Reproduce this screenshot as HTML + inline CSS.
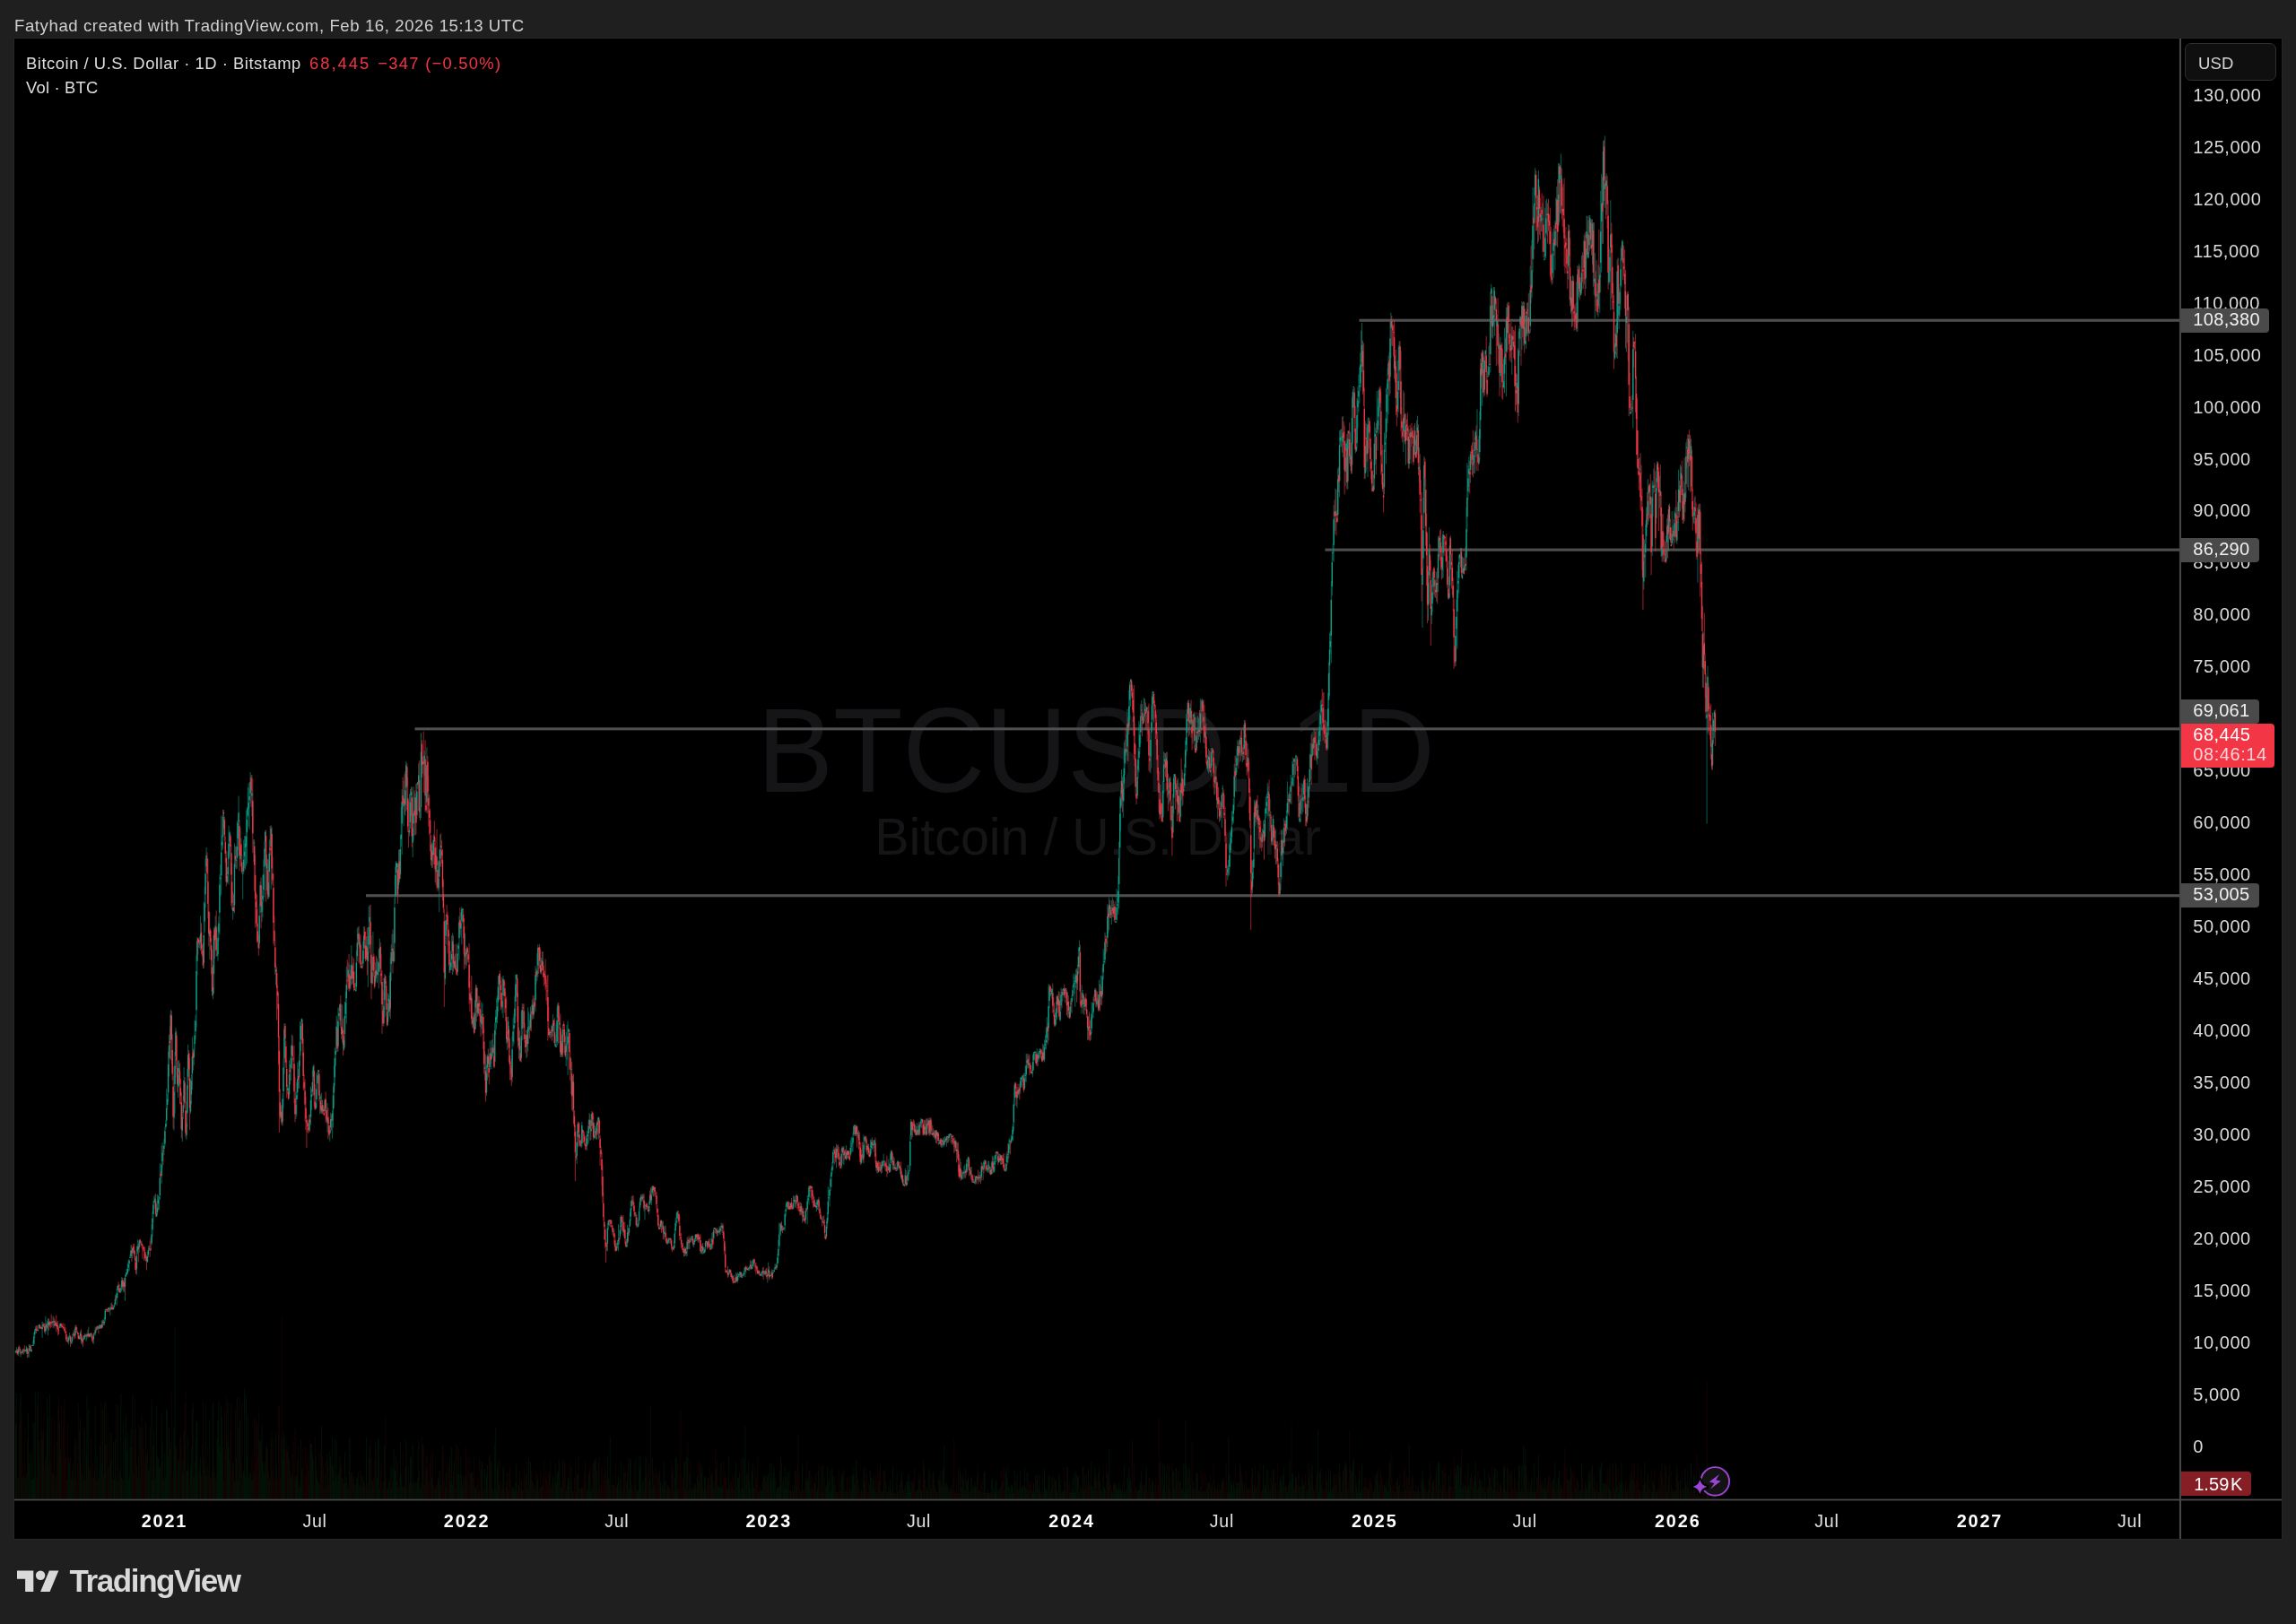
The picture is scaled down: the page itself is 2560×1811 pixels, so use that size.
<!DOCTYPE html><html><head><meta charset="utf-8"><title>BTCUSD</title><style>
html,body{margin:0;padding:0}
body{width:2560px;height:1811px;background:#1f1f1f;position:relative;overflow:hidden;font-family:"Liberation Sans",sans-serif;color:#d6d6d6}
.abs{position:absolute;white-space:nowrap}
#title{left:16px;top:16.7px;font-size:18.6px;line-height:24px;color:#cfcfcf;letter-spacing:0.58px}
#frame{left:16px;top:43px;width:2528px;height:1673px;background:#000;box-shadow:0 0 0 1px #262626;overflow:hidden}
.lg{font-size:18.4px;line-height:24px;color:#dedede;letter-spacing:0.53px}
.red{color:#f23645}
.pl{left:2429.3px;font-size:20px;line-height:24px;color:#d9d9d9;letter-spacing:0.55px;transform:translateY(-50%)}
.pl.t{left:2430.5px}
.box{left:2416px;height:27px;border-radius:0 4px 4px 0;background:#4a4a4a;color:#f0f0f0;font-size:20px;line-height:25px;letter-spacing:0.35px;padding-left:13.3px;box-sizing:border-box}
.tl{top:1640.7px;font-size:19.6px;line-height:24px;color:#e0e0e0;transform:translateX(-50%);letter-spacing:0.7px}
.tl b{color:#fff;font-size:19.8px;letter-spacing:1.9px;margin-right:-1.9px}
</style></head><body><div id="root" style="position:absolute;left:0;top:0;width:2560px;height:1811px;will-change:transform">
<div id="title" class="abs">Fatyhad created with TradingView.com, Feb 16, 2026 15:13 UTC</div>
<div id="frame" class="abs">
<svg width="2528" height="1673" viewBox="16 43 2528 1673" style="position:absolute;left:0;top:0" shape-rendering="auto">
<text x="844.2" y="882.5" textLength="755.7" lengthAdjust="spacingAndGlyphs" font-family="Liberation Sans, sans-serif" font-size="133.4" fill="#151517" id="wm1">BTCUSD, 1D</text>
<text x="1224" y="953" text-anchor="middle" font-family="Liberation Sans, sans-serif" font-size="57.4" fill="#151517" id="wm2">Bitcoin / U.S. Dollar</text>
<path d="M17.5 1671.5V1588.0M18.4 1671.5V1553.1M20.3 1671.5V1647.4M23.0 1671.5V1553.7M24.9 1671.5V1648.7M26.7 1671.5V1646.3M28.6 1671.5V1647.8M29.5 1671.5V1643.1M31.3 1671.5V1575.7M32.3 1671.5V1633.3M33.2 1671.5V1620.0M35.0 1671.5V1622.3M36.0 1671.5V1649.7M36.9 1671.5V1586.3M37.8 1671.5V1649.0M38.7 1671.5V1587.3M39.7 1671.5V1551.1M42.4 1671.5V1551.5M43.4 1671.5V1607.0M47.1 1671.5V1604.7M48.0 1671.5V1595.4M50.8 1671.5V1626.1M52.6 1671.5V1558.9M53.5 1671.5V1579.9M55.4 1671.5V1555.2M58.2 1671.5V1642.0M59.1 1671.5V1644.7M61.9 1671.5V1648.7M63.7 1671.5V1607.0M66.5 1671.5V1585.9M67.4 1671.5V1615.2M74.8 1671.5V1650.5M76.6 1671.5V1626.0M77.6 1671.5V1631.6M79.4 1671.5V1649.6M80.3 1671.5V1641.0M81.3 1671.5V1630.8M84.0 1671.5V1603.5M88.7 1671.5V1595.3M89.6 1671.5V1582.5M91.4 1671.5V1643.8M93.3 1671.5V1649.3M94.2 1671.5V1591.9M96.1 1671.5V1621.8M97.0 1671.5V1556.6M98.8 1671.5V1570.6M100.7 1671.5V1636.9M104.4 1671.5V1648.0M106.2 1671.5V1568.3M108.1 1671.5V1624.3M110.8 1671.5V1638.9M111.8 1671.5V1612.0M113.6 1671.5V1633.3M114.5 1671.5V1571.2M116.4 1671.5V1564.3M117.3 1671.5V1610.4M121.0 1671.5V1635.8M122.9 1671.5V1596.9M123.8 1671.5V1629.0M126.6 1671.5V1607.2M127.5 1671.5V1650.4M128.4 1671.5V1605.6M130.2 1671.5V1650.5M131.2 1671.5V1566.2M133.9 1671.5V1641.6M134.9 1671.5V1553.3M135.8 1671.5V1648.0M137.6 1671.5V1588.3M139.5 1671.5V1602.7M140.4 1671.5V1577.6M141.3 1671.5V1618.1M142.3 1671.5V1597.7M143.2 1671.5V1650.5M144.1 1671.5V1646.7M145.0 1671.5V1614.0M146.0 1671.5V1593.7M147.8 1671.5V1555.0M152.4 1671.5V1633.5M153.4 1671.5V1647.1M155.2 1671.5V1589.3M157.1 1671.5V1592.1M162.6 1671.5V1586.1M164.4 1671.5V1618.7M165.4 1671.5V1639.7M166.3 1671.5V1637.3M169.1 1671.5V1560.1M170.0 1671.5V1650.3M170.9 1671.5V1612.6M171.8 1671.5V1596.4M172.8 1671.5V1649.3M174.6 1671.5V1566.9M175.5 1671.5V1624.6M176.5 1671.5V1625.9M177.4 1671.5V1636.3M178.3 1671.5V1635.6M180.2 1671.5V1576.4M181.1 1671.5V1609.7M182.9 1671.5V1650.5M183.9 1671.5V1619.8M184.8 1671.5V1647.0M185.7 1671.5V1570.9M186.6 1671.5V1572.4M187.6 1671.5V1624.4M188.5 1671.5V1591.6M190.3 1671.5V1608.8M194.0 1671.5V1592.4M195.0 1671.5V1479.5M195.9 1671.5V1615.2M198.6 1671.5V1627.3M199.6 1671.5V1630.5M203.3 1671.5V1642.1M204.2 1671.5V1629.5M205.1 1671.5V1596.8M207.9 1671.5V1640.2M208.8 1671.5V1640.6M209.7 1671.5V1605.1M212.5 1671.5V1636.4M213.4 1671.5V1613.3M214.4 1671.5V1570.0M216.2 1671.5V1646.8M217.1 1671.5V1630.3M218.1 1671.5V1605.6M219.0 1671.5V1584.2M219.9 1671.5V1586.1M222.7 1671.5V1638.6M223.6 1671.5V1624.5M227.3 1671.5V1625.5M228.2 1671.5V1638.9M229.1 1671.5V1566.2M230.1 1671.5V1646.3M233.8 1671.5V1582.7M237.5 1671.5V1563.8M238.4 1671.5V1641.7M240.2 1671.5V1649.9M242.1 1671.5V1603.6M243.0 1671.5V1584.7M243.9 1671.5V1561.8M244.9 1671.5V1612.3M245.8 1671.5V1619.7M246.7 1671.5V1567.2M247.6 1671.5V1580.4M248.6 1671.5V1613.3M253.2 1671.5V1607.2M254.1 1671.5V1562.8M255.0 1671.5V1613.7M256.0 1671.5V1628.0M259.7 1671.5V1630.7M261.5 1671.5V1650.6M263.3 1671.5V1625.1M264.3 1671.5V1557.7M265.2 1671.5V1649.6M266.1 1671.5V1591.4M268.0 1671.5V1584.7M270.7 1671.5V1644.9M271.7 1671.5V1638.9M272.6 1671.5V1548.5M273.5 1671.5V1647.3M274.4 1671.5V1556.8M275.4 1671.5V1623.8M276.3 1671.5V1578.0M277.2 1671.5V1647.8M278.1 1671.5V1643.5M279.1 1671.5V1642.0M280.9 1671.5V1650.2M282.8 1671.5V1642.0M289.2 1671.5V1606.6M290.2 1671.5V1605.7M292.0 1671.5V1590.3M292.9 1671.5V1629.0M293.9 1671.5V1640.9M294.8 1671.5V1644.7M295.7 1671.5V1630.1M297.5 1671.5V1612.5M299.4 1671.5V1642.2M300.3 1671.5V1650.0M302.2 1671.5V1603.7M307.7 1671.5V1596.7M313.3 1671.5V1604.6M315.1 1671.5V1626.3M316.0 1671.5V1597.0M317.0 1671.5V1603.4M320.7 1671.5V1618.3M322.5 1671.5V1626.1M324.4 1671.5V1648.0M325.3 1671.5V1643.3M329.9 1671.5V1646.7M330.8 1671.5V1646.5M331.7 1671.5V1626.2M333.6 1671.5V1654.8M334.5 1671.5V1658.2M335.4 1671.5V1605.5M336.4 1671.5V1638.4M344.7 1671.5V1639.9M346.5 1671.5V1609.9M347.5 1671.5V1609.9M348.4 1671.5V1619.2M349.3 1671.5V1627.5M352.1 1671.5V1623.3M353.0 1671.5V1639.1M353.9 1671.5V1648.9M354.9 1671.5V1653.5M356.7 1671.5V1655.2M358.6 1671.5V1590.4M362.2 1671.5V1644.2M365.0 1671.5V1620.8M367.8 1671.5V1618.2M368.7 1671.5V1623.6M370.6 1671.5V1603.0M371.5 1671.5V1634.5M372.4 1671.5V1650.7M373.3 1671.5V1604.8M374.3 1671.5V1646.3M375.2 1671.5V1606.8M377.0 1671.5V1644.6M378.0 1671.5V1640.6M378.9 1671.5V1623.5M381.7 1671.5V1648.4M383.5 1671.5V1655.4M384.4 1671.5V1618.8M385.4 1671.5V1653.6M386.3 1671.5V1646.4M388.1 1671.5V1657.8M390.0 1671.5V1604.2M391.8 1671.5V1642.0M393.7 1671.5V1648.9M396.4 1671.5V1657.0M397.4 1671.5V1647.9M398.3 1671.5V1649.6M399.2 1671.5V1641.3M401.1 1671.5V1656.1M402.9 1671.5V1644.9M404.8 1671.5V1647.0M405.7 1671.5V1653.4M408.5 1671.5V1602.5M410.3 1671.5V1657.8M411.2 1671.5V1626.4M412.2 1671.5V1613.4M414.9 1671.5V1650.4M415.9 1671.5V1652.2M418.6 1671.5V1607.8M420.5 1671.5V1647.2M421.4 1671.5V1606.4M422.3 1671.5V1603.5M423.3 1671.5V1659.4M427.9 1671.5V1652.0M428.8 1671.5V1611.8M432.5 1671.5V1658.8M433.4 1671.5V1651.6M435.3 1671.5V1635.3M436.2 1671.5V1659.4M437.1 1671.5V1636.9M439.0 1671.5V1615.3M439.9 1671.5V1637.2M440.8 1671.5V1639.9M441.7 1671.5V1623.2M442.7 1671.5V1652.5M444.5 1671.5V1658.0M446.4 1671.5V1607.9M447.3 1671.5V1644.2M448.2 1671.5V1658.2M450.1 1671.5V1657.2M451.9 1671.5V1636.3M452.8 1671.5V1606.0M456.5 1671.5V1653.8M457.5 1671.5V1625.2M458.4 1671.5V1624.2M460.2 1671.5V1609.4M461.1 1671.5V1656.3M463.0 1671.5V1653.2M464.8 1671.5V1653.4M465.8 1671.5V1647.6M466.7 1671.5V1606.2M468.5 1671.5V1659.4M469.5 1671.5V1654.8M471.3 1671.5V1610.8M473.2 1671.5V1657.1M475.9 1671.5V1638.2M481.5 1671.5V1646.8M483.3 1671.5V1656.3M486.1 1671.5V1658.6M488.9 1671.5V1648.4M489.8 1671.5V1640.3M490.7 1671.5V1657.2M496.3 1671.5V1658.4M497.2 1671.5V1641.5M501.8 1671.5V1623.8M502.7 1671.5V1652.5M503.7 1671.5V1613.9M504.6 1671.5V1656.0M506.4 1671.5V1630.1M510.1 1671.5V1644.1M511.1 1671.5V1615.1M512.0 1671.5V1643.8M513.8 1671.5V1623.3M514.8 1671.5V1645.4M515.7 1671.5V1656.9M518.5 1671.5V1644.9M520.3 1671.5V1649.5M524.9 1671.5V1642.7M526.8 1671.5V1640.7M529.5 1671.5V1657.2M530.5 1671.5V1660.5M533.2 1671.5V1662.6M536.9 1671.5V1638.3M537.9 1671.5V1630.0M540.6 1671.5V1638.1M542.5 1671.5V1643.4M543.4 1671.5V1633.6M546.2 1671.5V1621.8M548.0 1671.5V1629.4M549.0 1671.5V1659.8M551.7 1671.5V1610.5M552.7 1671.5V1592.6M553.6 1671.5V1662.6M554.5 1671.5V1636.1M555.4 1671.5V1628.6M556.4 1671.5V1655.2M560.0 1671.5V1661.4M561.0 1671.5V1637.0M565.6 1671.5V1642.4M566.5 1671.5V1662.0M571.1 1671.5V1657.6M572.1 1671.5V1658.3M573.0 1671.5V1660.3M573.9 1671.5V1662.6M574.8 1671.5V1653.1M575.8 1671.5V1631.5M578.5 1671.5V1656.4M581.3 1671.5V1650.4M582.2 1671.5V1661.8M586.9 1671.5V1644.6M588.7 1671.5V1660.7M589.6 1671.5V1624.7M591.5 1671.5V1630.0M593.3 1671.5V1650.8M595.2 1671.5V1657.1M597.0 1671.5V1661.9M598.9 1671.5V1649.9M599.8 1671.5V1645.9M603.5 1671.5V1658.2M604.4 1671.5V1656.4M612.7 1671.5V1643.7M614.6 1671.5V1658.5M616.4 1671.5V1645.6M619.2 1671.5V1632.1M620.1 1671.5V1654.1M621.1 1671.5V1643.8M622.0 1671.5V1640.0M623.8 1671.5V1630.4M625.7 1671.5V1660.0M627.5 1671.5V1627.7M631.2 1671.5V1662.7M632.1 1671.5V1656.3M633.1 1671.5V1648.3M634.0 1671.5V1647.6M636.8 1671.5V1634.8M638.6 1671.5V1662.8M643.2 1671.5V1642.5M644.2 1671.5V1643.6M647.9 1671.5V1659.9M648.8 1671.5V1659.1M654.3 1671.5V1662.8M655.3 1671.5V1659.9M656.2 1671.5V1644.8M657.1 1671.5V1640.9M658.9 1671.5V1662.9M659.9 1671.5V1657.6M662.6 1671.5V1630.2M663.6 1671.5V1627.2M665.4 1671.5V1640.2M667.3 1671.5V1630.4M677.4 1671.5V1624.1M678.4 1671.5V1647.8M680.2 1671.5V1602.3M683.9 1671.5V1655.8M687.6 1671.5V1658.5M688.5 1671.5V1654.4M689.5 1671.5V1645.9M691.3 1671.5V1649.9M692.2 1671.5V1629.7M694.1 1671.5V1663.1M695.9 1671.5V1636.1M698.7 1671.5V1654.1M699.6 1671.5V1641.3M701.5 1671.5V1659.9M702.4 1671.5V1626.6M703.3 1671.5V1627.8M704.2 1671.5V1655.6M708.9 1671.5V1626.3M710.7 1671.5V1661.1M711.6 1671.5V1662.4M712.6 1671.5V1624.0M713.5 1671.5V1635.6M714.4 1671.5V1624.5M716.3 1671.5V1652.6M719.0 1671.5V1647.7M720.0 1671.5V1625.2M723.7 1671.5V1632.3M724.6 1671.5V1649.9M726.4 1671.5V1660.1M727.3 1671.5V1626.5M729.2 1671.5V1656.3M735.7 1671.5V1639.4M736.6 1671.5V1652.4M738.4 1671.5V1653.8M740.3 1671.5V1629.5M741.2 1671.5V1651.8M744.0 1671.5V1661.2M744.9 1671.5V1657.2M746.8 1671.5V1659.6M751.4 1671.5V1662.8M752.3 1671.5V1648.1M753.2 1671.5V1624.5M754.2 1671.5V1626.0M755.1 1671.5V1661.8M763.4 1671.5V1629.9M765.2 1671.5V1623.6M766.2 1671.5V1625.6M768.9 1671.5V1643.8M770.8 1671.5V1658.4M771.7 1671.5V1663.0M773.6 1671.5V1659.9M774.5 1671.5V1656.9M775.4 1671.5V1655.2M777.3 1671.5V1646.0M779.1 1671.5V1651.6M781.9 1671.5V1642.2M782.8 1671.5V1635.5M784.7 1671.5V1662.5M785.6 1671.5V1646.6M786.5 1671.5V1647.4M789.3 1671.5V1648.1M793.0 1671.5V1644.8M793.9 1671.5V1644.0M795.7 1671.5V1659.4M796.7 1671.5V1654.0M798.5 1671.5V1637.7M800.4 1671.5V1658.4M801.3 1671.5V1656.6M803.1 1671.5V1660.0M804.1 1671.5V1630.2M805.0 1671.5V1658.5M810.5 1671.5V1659.6M812.4 1671.5V1623.6M813.3 1671.5V1657.0M816.1 1671.5V1658.6M818.9 1671.5V1662.3M820.7 1671.5V1630.0M822.6 1671.5V1648.2M823.5 1671.5V1648.7M824.4 1671.5V1642.2M825.3 1671.5V1661.5M827.2 1671.5V1657.9M828.1 1671.5V1625.0M829.0 1671.5V1661.5M829.9 1671.5V1627.2M830.9 1671.5V1590.5M832.7 1671.5V1642.7M834.6 1671.5V1629.6M835.5 1671.5V1651.6M836.4 1671.5V1659.6M838.3 1671.5V1640.7M839.2 1671.5V1632.4M840.1 1671.5V1659.1M845.7 1671.5V1663.0M848.4 1671.5V1661.9M849.4 1671.5V1662.8M850.3 1671.5V1653.0M852.1 1671.5V1647.0M853.1 1671.5V1644.7M855.8 1671.5V1645.4M856.7 1671.5V1642.9M858.6 1671.5V1630.7M859.5 1671.5V1648.6M860.4 1671.5V1632.8M862.3 1671.5V1642.7M863.2 1671.5V1635.5M864.1 1671.5V1650.4M866.0 1671.5V1662.7M866.9 1671.5V1659.4M867.8 1671.5V1657.5M868.8 1671.5V1658.7M869.7 1671.5V1638.8M870.6 1671.5V1624.8M873.4 1671.5V1646.6M874.3 1671.5V1659.5M875.2 1671.5V1634.8M876.2 1671.5V1646.7M877.1 1671.5V1659.2M878.0 1671.5V1642.1M879.9 1671.5V1640.9M881.7 1671.5V1662.2M884.5 1671.5V1662.5M885.4 1671.5V1656.5M887.3 1671.5V1640.0M888.2 1671.5V1656.9M892.8 1671.5V1663.1M894.6 1671.5V1632.9M898.3 1671.5V1648.5M900.2 1671.5V1649.2M901.1 1671.5V1652.9M902.0 1671.5V1640.5M903.9 1671.5V1662.1M908.5 1671.5V1653.8M910.4 1671.5V1663.4M911.3 1671.5V1659.8M912.2 1671.5V1639.7M915.9 1671.5V1635.8M917.8 1671.5V1633.7M921.5 1671.5V1657.7M922.4 1671.5V1634.8M923.3 1671.5V1654.0M924.2 1671.5V1647.5M925.1 1671.5V1663.8M926.1 1671.5V1639.7M927.0 1671.5V1662.7M927.9 1671.5V1636.4M928.8 1671.5V1646.5M929.8 1671.5V1655.7M932.5 1671.5V1664.0M938.1 1671.5V1642.5M939.0 1671.5V1646.3M940.9 1671.5V1639.0M943.6 1671.5V1662.1M945.5 1671.5V1663.4M948.3 1671.5V1659.9M949.2 1671.5V1663.3M950.1 1671.5V1643.8M951.0 1671.5V1645.0M952.0 1671.5V1636.7M952.9 1671.5V1655.4M954.7 1671.5V1626.9M956.6 1671.5V1649.5M960.3 1671.5V1661.4M963.0 1671.5V1636.0M964.0 1671.5V1652.1M967.7 1671.5V1664.3M970.4 1671.5V1639.6M971.4 1671.5V1648.0M973.2 1671.5V1649.1M974.1 1671.5V1645.0M975.1 1671.5V1661.1M977.8 1671.5V1663.8M979.7 1671.5V1651.4M982.5 1671.5V1662.5M984.3 1671.5V1663.1M985.2 1671.5V1639.6M988.0 1671.5V1653.7M989.8 1671.5V1664.1M990.8 1671.5V1656.7M992.6 1671.5V1649.9M993.5 1671.5V1661.5M995.4 1671.5V1635.1M997.2 1671.5V1664.8M1000.0 1671.5V1642.2M1000.9 1671.5V1663.5M1003.7 1671.5V1652.8M1005.6 1671.5V1642.0M1007.4 1671.5V1661.7M1009.3 1671.5V1656.0M1011.1 1671.5V1652.3M1012.0 1671.5V1651.3M1013.0 1671.5V1642.6M1013.9 1671.5V1657.3M1014.8 1671.5V1651.3M1015.7 1671.5V1663.4M1017.6 1671.5V1652.7M1020.4 1671.5V1664.5M1022.2 1671.5V1663.2M1023.1 1671.5V1660.2M1025.0 1671.5V1650.3M1026.8 1671.5V1662.0M1027.7 1671.5V1662.9M1030.5 1671.5V1634.7M1033.3 1671.5V1662.0M1035.1 1671.5V1637.6M1037.0 1671.5V1640.2M1038.8 1671.5V1660.2M1040.7 1671.5V1641.3M1043.5 1671.5V1662.0M1045.3 1671.5V1664.7M1047.2 1671.5V1650.2M1048.1 1671.5V1641.2M1049.9 1671.5V1658.1M1050.9 1671.5V1639.5M1052.7 1671.5V1611.8M1053.6 1671.5V1654.1M1055.5 1671.5V1653.0M1057.3 1671.5V1657.6M1058.2 1671.5V1664.6M1059.2 1671.5V1660.3M1061.0 1671.5V1656.1M1064.7 1671.5V1664.4M1067.5 1671.5V1664.5M1070.3 1671.5V1638.7M1072.1 1671.5V1658.2M1073.0 1671.5V1647.3M1074.9 1671.5V1651.5M1075.8 1671.5V1662.0M1077.7 1671.5V1649.6M1078.6 1671.5V1651.7M1079.5 1671.5V1647.3M1081.4 1671.5V1664.0M1083.2 1671.5V1647.6M1085.1 1671.5V1656.4M1086.9 1671.5V1652.1M1087.8 1671.5V1656.7M1089.7 1671.5V1645.5M1091.5 1671.5V1661.8M1092.4 1671.5V1661.8M1094.3 1671.5V1664.7M1097.1 1671.5V1643.0M1098.0 1671.5V1640.6M1100.8 1671.5V1664.6M1101.7 1671.5V1661.7M1102.6 1671.5V1664.9M1105.4 1671.5V1649.7M1106.3 1671.5V1646.9M1108.2 1671.5V1659.2M1109.1 1671.5V1663.9M1110.0 1671.5V1652.2M1110.9 1671.5V1649.1M1113.7 1671.5V1661.4M1115.6 1671.5V1658.3M1117.4 1671.5V1652.9M1121.1 1671.5V1642.4M1122.0 1671.5V1638.2M1122.9 1671.5V1649.0M1124.8 1671.5V1657.5M1125.7 1671.5V1658.5M1127.6 1671.5V1655.4M1128.5 1671.5V1656.4M1129.4 1671.5V1659.0M1130.3 1671.5V1664.9M1131.3 1671.5V1639.6M1134.0 1671.5V1643.1M1135.9 1671.5V1659.7M1137.7 1671.5V1639.6M1138.7 1671.5V1660.5M1139.6 1671.5V1656.4M1140.5 1671.5V1658.2M1142.4 1671.5V1636.8M1143.3 1671.5V1658.4M1144.2 1671.5V1661.6M1145.1 1671.5V1641.7M1147.0 1671.5V1662.6M1150.7 1671.5V1662.0M1151.6 1671.5V1664.8M1152.5 1671.5V1654.1M1153.4 1671.5V1664.4M1154.4 1671.5V1645.2M1156.2 1671.5V1646.4M1158.1 1671.5V1659.7M1159.0 1671.5V1644.6M1159.9 1671.5V1663.3M1162.7 1671.5V1646.4M1164.5 1671.5V1637.4M1165.5 1671.5V1658.7M1166.4 1671.5V1660.7M1167.3 1671.5V1662.7M1169.2 1671.5V1645.7M1170.1 1671.5V1644.3M1171.9 1671.5V1660.1M1172.9 1671.5V1646.7M1176.6 1671.5V1651.0M1177.5 1671.5V1650.8M1178.4 1671.5V1662.3M1180.3 1671.5V1644.5M1182.1 1671.5V1649.8M1183.0 1671.5V1664.9M1184.9 1671.5V1663.4M1185.8 1671.5V1663.0M1187.6 1671.5V1652.0M1190.4 1671.5V1635.9M1193.2 1671.5V1664.7M1195.0 1671.5V1662.0M1196.0 1671.5V1648.3M1196.9 1671.5V1663.5M1197.8 1671.5V1643.4M1198.7 1671.5V1664.4M1199.7 1671.5V1641.1M1201.5 1671.5V1647.0M1202.4 1671.5V1645.4M1203.4 1671.5V1663.6M1206.1 1671.5V1661.9M1207.1 1671.5V1635.4M1208.9 1671.5V1662.5M1209.8 1671.5V1644.6M1213.5 1671.5V1637.7M1216.3 1671.5V1630.0M1217.2 1671.5V1656.8M1218.2 1671.5V1657.8M1219.1 1671.5V1662.1M1220.9 1671.5V1636.0M1222.8 1671.5V1649.4M1225.5 1671.5V1636.1M1227.4 1671.5V1662.3M1229.2 1671.5V1663.7M1230.2 1671.5V1644.4M1231.1 1671.5V1658.4M1232.0 1671.5V1659.8M1234.8 1671.5V1643.8M1236.6 1671.5V1617.3M1239.4 1671.5V1661.8M1240.3 1671.5V1664.1M1242.2 1671.5V1656.0M1244.0 1671.5V1655.4M1245.0 1671.5V1659.3M1245.9 1671.5V1663.1M1246.8 1671.5V1661.6M1247.7 1671.5V1653.8M1248.7 1671.5V1659.1M1249.6 1671.5V1661.8M1250.5 1671.5V1661.2M1252.3 1671.5V1664.2M1253.3 1671.5V1634.0M1254.2 1671.5V1662.3M1256.0 1671.5V1661.1M1257.0 1671.5V1648.0M1258.8 1671.5V1636.7M1259.7 1671.5V1651.1M1260.7 1671.5V1647.1M1268.1 1671.5V1663.0M1269.0 1671.5V1662.5M1269.9 1671.5V1661.3M1270.8 1671.5V1654.7M1271.8 1671.5V1652.2M1272.7 1671.5V1640.2M1275.5 1671.5V1664.0M1276.4 1671.5V1654.7M1278.2 1671.5V1635.8M1282.9 1671.5V1655.8M1283.8 1671.5V1664.0M1284.7 1671.5V1649.2M1285.6 1671.5V1652.3M1293.9 1671.5V1630.3M1296.7 1671.5V1631.5M1297.6 1671.5V1656.8M1298.6 1671.5V1634.3M1300.4 1671.5V1641.5M1303.2 1671.5V1633.9M1304.1 1671.5V1661.0M1307.8 1671.5V1638.6M1308.7 1671.5V1641.1M1309.7 1671.5V1660.0M1311.5 1671.5V1637.3M1313.4 1671.5V1641.0M1316.1 1671.5V1652.0M1318.0 1671.5V1660.5M1319.8 1671.5V1631.7M1320.7 1671.5V1663.9M1321.7 1671.5V1584.8M1322.6 1671.5V1633.7M1323.5 1671.5V1662.5M1324.4 1671.5V1636.7M1326.3 1671.5V1636.6M1327.2 1671.5V1656.1M1330.0 1671.5V1661.0M1330.9 1671.5V1651.3M1333.7 1671.5V1642.9M1335.5 1671.5V1644.0M1336.5 1671.5V1661.9M1338.3 1671.5V1658.4M1340.2 1671.5V1663.5M1343.9 1671.5V1663.6M1346.6 1671.5V1655.2M1347.6 1671.5V1651.4M1350.3 1671.5V1660.8M1351.2 1671.5V1655.1M1354.9 1671.5V1658.3M1357.7 1671.5V1654.7M1360.5 1671.5V1661.8M1362.3 1671.5V1652.3M1363.3 1671.5V1648.8M1368.8 1671.5V1663.3M1369.7 1671.5V1602.9M1370.7 1671.5V1644.2M1371.6 1671.5V1663.7M1372.5 1671.5V1651.4M1373.4 1671.5V1656.2M1374.4 1671.5V1663.7M1375.3 1671.5V1651.6M1376.2 1671.5V1659.1M1378.1 1671.5V1662.6M1379.0 1671.5V1652.9M1379.9 1671.5V1652.7M1381.8 1671.5V1654.0M1382.7 1671.5V1631.4M1385.4 1671.5V1652.7M1387.3 1671.5V1654.7M1391.0 1671.5V1660.6M1396.5 1671.5V1637.3M1397.5 1671.5V1664.2M1398.4 1671.5V1656.0M1400.2 1671.5V1659.7M1403.0 1671.5V1640.2M1407.6 1671.5V1660.4M1408.6 1671.5V1633.7M1410.4 1671.5V1658.7M1411.3 1671.5V1655.3M1412.3 1671.5V1639.4M1413.2 1671.5V1664.1M1414.1 1671.5V1638.5M1416.0 1671.5V1661.9M1418.7 1671.5V1655.4M1419.6 1671.5V1638.3M1422.4 1671.5V1653.3M1427.0 1671.5V1650.0M1428.0 1671.5V1645.8M1428.9 1671.5V1653.0M1430.7 1671.5V1644.6M1431.7 1671.5V1637.2M1434.4 1671.5V1657.9M1435.4 1671.5V1664.1M1436.3 1671.5V1656.1M1438.1 1671.5V1630.2M1439.1 1671.5V1652.6M1440.9 1671.5V1642.2M1441.8 1671.5V1643.8M1442.8 1671.5V1661.6M1444.6 1671.5V1646.7M1445.5 1671.5V1646.9M1449.2 1671.5V1657.7M1450.2 1671.5V1656.8M1452.0 1671.5V1647.5M1452.9 1671.5V1654.0M1453.8 1671.5V1656.5M1457.5 1671.5V1662.2M1459.4 1671.5V1648.8M1460.3 1671.5V1637.6M1461.2 1671.5V1655.3M1463.1 1671.5V1633.2M1464.9 1671.5V1661.9M1468.6 1671.5V1642.9M1469.6 1671.5V1594.0M1470.5 1671.5V1664.1M1471.4 1671.5V1642.1M1472.3 1671.5V1637.9M1473.3 1671.5V1656.8M1479.7 1671.5V1651.5M1480.7 1671.5V1663.5M1481.6 1671.5V1638.3M1482.5 1671.5V1663.4M1483.4 1671.5V1640.9M1484.3 1671.5V1662.0M1485.3 1671.5V1660.6M1486.2 1671.5V1658.0M1487.1 1671.5V1643.3M1489.0 1671.5V1656.0M1491.7 1671.5V1663.9M1493.6 1671.5V1632.5M1494.5 1671.5V1647.0M1495.4 1671.5V1662.9M1497.3 1671.5V1641.1M1500.1 1671.5V1629.9M1501.0 1671.5V1633.6M1502.8 1671.5V1661.1M1505.6 1671.5V1637.4M1507.5 1671.5V1641.3M1508.4 1671.5V1630.9M1509.3 1671.5V1626.1M1512.1 1671.5V1653.7M1513.0 1671.5V1659.6M1513.9 1671.5V1664.1M1514.9 1671.5V1649.1M1515.8 1671.5V1641.1M1516.7 1671.5V1663.9M1517.6 1671.5V1662.0M1518.5 1671.5V1633.6M1522.2 1671.5V1658.6M1525.0 1671.5V1661.3M1525.9 1671.5V1658.4M1531.5 1671.5V1664.2M1532.4 1671.5V1659.3M1533.3 1671.5V1645.2M1535.2 1671.5V1643.4M1536.1 1671.5V1638.8M1537.0 1671.5V1664.2M1538.0 1671.5V1654.7M1543.5 1671.5V1655.2M1544.4 1671.5V1659.0M1545.4 1671.5V1651.9M1546.3 1671.5V1662.1M1547.2 1671.5V1663.8M1548.1 1671.5V1648.8M1550.0 1671.5V1631.6M1550.9 1671.5V1658.7M1555.5 1671.5V1664.2M1558.3 1671.5V1647.7M1559.2 1671.5V1657.6M1560.1 1671.5V1655.0M1564.8 1671.5V1663.8M1567.5 1671.5V1661.8M1571.2 1671.5V1610.4M1573.1 1671.5V1662.9M1576.8 1671.5V1662.1M1579.6 1671.5V1663.4M1580.5 1671.5V1657.9M1582.3 1671.5V1662.6M1586.0 1671.5V1639.3M1586.9 1671.5V1649.5M1587.9 1671.5V1658.5M1592.5 1671.5V1661.6M1593.4 1671.5V1648.5M1596.2 1671.5V1664.2M1597.1 1671.5V1654.7M1598.0 1671.5V1651.2M1601.7 1671.5V1636.3M1603.6 1671.5V1631.0M1604.5 1671.5V1629.6M1608.2 1671.5V1638.8M1609.1 1671.5V1656.1M1615.6 1671.5V1645.3M1616.5 1671.5V1657.1M1623.0 1671.5V1637.3M1623.9 1671.5V1643.5M1624.8 1671.5V1633.9M1625.8 1671.5V1633.9M1626.7 1671.5V1636.7M1627.6 1671.5V1658.3M1628.5 1671.5V1635.8M1630.4 1671.5V1659.6M1631.3 1671.5V1653.6M1633.2 1671.5V1656.3M1635.0 1671.5V1657.9M1635.9 1671.5V1662.1M1636.9 1671.5V1632.6M1637.8 1671.5V1655.8M1639.6 1671.5V1647.9M1643.3 1671.5V1652.5M1644.3 1671.5V1646.0M1645.2 1671.5V1630.1M1647.0 1671.5V1660.8M1648.9 1671.5V1659.0M1649.8 1671.5V1649.8M1650.7 1671.5V1650.6M1652.6 1671.5V1652.1M1655.3 1671.5V1638.4M1656.3 1671.5V1664.0M1659.0 1671.5V1657.2M1660.0 1671.5V1641.7M1661.8 1671.5V1647.7M1662.7 1671.5V1657.8M1664.6 1671.5V1662.1M1665.5 1671.5V1645.0M1666.4 1671.5V1636.8M1669.2 1671.5V1639.0M1671.1 1671.5V1664.0M1672.9 1671.5V1656.9M1676.6 1671.5V1636.0M1677.5 1671.5V1635.5M1679.4 1671.5V1663.4M1681.2 1671.5V1637.0M1685.8 1671.5V1639.0M1691.4 1671.5V1663.3M1693.2 1671.5V1634.4M1694.2 1671.5V1633.8M1695.1 1671.5V1663.8M1696.9 1671.5V1635.3M1698.8 1671.5V1610.3M1700.6 1671.5V1616.6M1701.6 1671.5V1634.7M1703.4 1671.5V1662.5M1705.3 1671.5V1664.2M1706.2 1671.5V1654.7M1708.0 1671.5V1647.3M1709.0 1671.5V1664.0M1710.8 1671.5V1631.9M1711.7 1671.5V1664.1M1715.4 1671.5V1621.9M1718.2 1671.5V1656.4M1720.0 1671.5V1658.1M1721.9 1671.5V1660.6M1722.8 1671.5V1647.8M1723.7 1671.5V1663.5M1724.7 1671.5V1656.8M1731.1 1671.5V1650.9M1732.1 1671.5V1647.6M1733.9 1671.5V1630.5M1735.8 1671.5V1654.9M1737.6 1671.5V1647.1M1738.5 1671.5V1640.2M1740.4 1671.5V1655.6M1748.7 1671.5V1649.8M1751.5 1671.5V1635.6M1753.3 1671.5V1664.0M1757.0 1671.5V1658.7M1758.9 1671.5V1649.4M1760.7 1671.5V1662.9M1762.6 1671.5V1661.1M1763.5 1671.5V1632.3M1766.3 1671.5V1663.4M1768.1 1671.5V1656.5M1769.0 1671.5V1659.8M1770.9 1671.5V1642.6M1771.8 1671.5V1652.1M1772.7 1671.5V1639.3M1775.5 1671.5V1633.8M1777.4 1671.5V1645.3M1778.3 1671.5V1662.6M1782.0 1671.5V1664.2M1783.8 1671.5V1637.7M1784.7 1671.5V1635.7M1785.7 1671.5V1630.4M1787.5 1671.5V1653.8M1789.4 1671.5V1655.3M1791.2 1671.5V1655.8M1794.0 1671.5V1658.8M1794.9 1671.5V1634.1M1795.8 1671.5V1662.9M1800.5 1671.5V1662.5M1801.4 1671.5V1631.4M1803.2 1671.5V1656.7M1805.1 1671.5V1664.1M1806.0 1671.5V1652.4M1806.9 1671.5V1656.0M1807.9 1671.5V1630.1M1808.8 1671.5V1652.8M1813.4 1671.5V1664.1M1814.3 1671.5V1659.2M1818.0 1671.5V1651.0M1818.9 1671.5V1641.7M1820.8 1671.5V1649.3M1828.2 1671.5V1661.4M1832.8 1671.5V1656.6M1833.7 1671.5V1630.4M1834.7 1671.5V1653.9M1835.6 1671.5V1664.0M1837.4 1671.5V1643.2M1838.4 1671.5V1659.7M1842.1 1671.5V1663.4M1843.0 1671.5V1650.3M1843.9 1671.5V1655.3M1846.7 1671.5V1664.2M1847.6 1671.5V1662.2M1850.4 1671.5V1660.6M1853.1 1671.5V1632.7M1857.8 1671.5V1635.7M1858.7 1671.5V1663.3M1860.5 1671.5V1646.0M1864.2 1671.5V1659.4M1865.2 1671.5V1663.5M1867.0 1671.5V1662.5M1867.9 1671.5V1663.0M1869.8 1671.5V1633.9M1871.6 1671.5V1653.0M1873.5 1671.5V1651.1M1874.4 1671.5V1661.4M1877.2 1671.5V1659.8M1879.0 1671.5V1638.0M1879.9 1671.5V1653.9M1880.9 1671.5V1657.1M1882.7 1671.5V1659.4M1885.5 1671.5V1631.5M1888.3 1671.5V1643.6M1889.2 1671.5V1647.4M1892.9 1671.5V1659.6M1894.7 1671.5V1635.9M1899.4 1671.5V1663.3M1903.1 1671.5V1649.4M1904.0 1671.5V1630.8M1909.5 1671.5V1660.4M1910.5 1671.5V1657.8M1911.4 1671.5V1655.7" stroke="#0c6a32" stroke-opacity="0.17" stroke-width="1" fill="none"/>
<path d="M19.3 1671.5V1648.9M21.2 1671.5V1587.2M22.1 1671.5V1565.1M24.0 1671.5V1577.4M25.8 1671.5V1630.6M27.7 1671.5V1590.8M30.4 1671.5V1604.7M34.1 1671.5V1650.6M40.6 1671.5V1646.6M41.5 1671.5V1566.4M44.3 1671.5V1630.4M45.2 1671.5V1594.9M46.1 1671.5V1564.0M48.9 1671.5V1575.1M49.8 1671.5V1634.7M51.7 1671.5V1594.1M54.5 1671.5V1635.0M56.3 1671.5V1630.2M57.2 1671.5V1580.1M60.0 1671.5V1610.0M60.9 1671.5V1581.1M62.8 1671.5V1645.3M64.6 1671.5V1570.6M65.5 1671.5V1556.2M68.3 1671.5V1567.6M69.2 1671.5V1626.9M70.2 1671.5V1592.2M71.1 1671.5V1569.9M72.0 1671.5V1560.1M72.9 1671.5V1627.1M73.9 1671.5V1624.9M75.7 1671.5V1587.6M78.5 1671.5V1624.8M82.2 1671.5V1649.3M83.1 1671.5V1611.8M85.0 1671.5V1649.5M85.9 1671.5V1606.7M86.8 1671.5V1634.2M87.7 1671.5V1564.3M90.5 1671.5V1633.7M92.4 1671.5V1592.6M95.1 1671.5V1650.2M97.9 1671.5V1627.5M99.7 1671.5V1638.2M101.6 1671.5V1603.4M102.5 1671.5V1647.8M103.4 1671.5V1630.8M105.3 1671.5V1639.2M107.1 1671.5V1649.2M109.0 1671.5V1650.0M109.9 1671.5V1647.6M112.7 1671.5V1562.6M115.5 1671.5V1644.4M118.2 1671.5V1561.6M119.2 1671.5V1610.4M120.1 1671.5V1576.3M121.9 1671.5V1634.5M124.7 1671.5V1597.9M125.6 1671.5V1649.9M129.3 1671.5V1566.7M132.1 1671.5V1650.6M133.0 1671.5V1634.3M136.7 1671.5V1650.2M138.6 1671.5V1650.3M146.9 1671.5V1615.1M148.7 1671.5V1643.9M149.7 1671.5V1594.2M150.6 1671.5V1559.1M151.5 1671.5V1592.3M154.3 1671.5V1623.8M156.1 1671.5V1649.8M158.0 1671.5V1578.2M158.9 1671.5V1616.9M159.8 1671.5V1593.8M160.8 1671.5V1616.4M161.7 1671.5V1629.7M163.5 1671.5V1624.1M167.2 1671.5V1591.0M168.1 1671.5V1620.8M173.7 1671.5V1634.8M179.2 1671.5V1633.3M182.0 1671.5V1645.9M189.4 1671.5V1616.3M191.3 1671.5V1552.9M192.2 1671.5V1648.0M193.1 1671.5V1640.3M196.8 1671.5V1611.8M197.7 1671.5V1649.2M200.5 1671.5V1605.4M201.4 1671.5V1598.5M202.3 1671.5V1612.5M206.0 1671.5V1564.9M207.0 1671.5V1551.9M210.7 1671.5V1639.1M211.6 1671.5V1650.5M215.3 1671.5V1564.1M220.8 1671.5V1642.7M221.8 1671.5V1630.2M224.5 1671.5V1645.6M225.5 1671.5V1611.2M226.4 1671.5V1562.6M231.0 1671.5V1635.2M231.9 1671.5V1614.1M232.8 1671.5V1639.1M234.7 1671.5V1646.8M235.6 1671.5V1647.9M236.5 1671.5V1638.2M239.3 1671.5V1635.7M241.2 1671.5V1645.9M249.5 1671.5V1650.3M250.4 1671.5V1573.4M251.3 1671.5V1615.5M252.3 1671.5V1557.8M256.9 1671.5V1595.2M257.8 1671.5V1564.5M258.7 1671.5V1643.4M260.6 1671.5V1633.1M262.4 1671.5V1571.1M267.0 1671.5V1557.9M268.9 1671.5V1628.3M269.8 1671.5V1563.7M280.0 1671.5V1625.5M281.8 1671.5V1620.9M283.7 1671.5V1578.9M284.6 1671.5V1630.5M285.5 1671.5V1582.7M286.5 1671.5V1622.7M287.4 1671.5V1587.2M288.3 1671.5V1569.8M291.1 1671.5V1610.6M296.6 1671.5V1614.9M298.5 1671.5V1616.4M301.2 1671.5V1647.5M303.1 1671.5V1596.8M304.0 1671.5V1638.7M304.9 1671.5V1605.5M305.9 1671.5V1647.3M306.8 1671.5V1649.7M308.6 1671.5V1634.6M309.6 1671.5V1650.6M310.5 1671.5V1567.2M311.4 1671.5V1567.9M312.3 1671.5V1649.1M314.2 1671.5V1466.5M317.9 1671.5V1614.6M318.8 1671.5V1619.5M319.7 1671.5V1606.6M321.6 1671.5V1611.8M323.4 1671.5V1639.3M326.2 1671.5V1620.6M327.1 1671.5V1607.8M328.0 1671.5V1649.7M329.0 1671.5V1593.4M332.7 1671.5V1611.7M337.3 1671.5V1635.8M338.2 1671.5V1614.1M339.1 1671.5V1658.8M340.1 1671.5V1645.2M341.0 1671.5V1613.6M341.9 1671.5V1642.1M342.8 1671.5V1631.9M343.8 1671.5V1619.0M345.6 1671.5V1605.9M350.2 1671.5V1655.2M351.2 1671.5V1601.9M355.8 1671.5V1620.4M357.6 1671.5V1618.5M359.5 1671.5V1623.6M360.4 1671.5V1635.8M361.3 1671.5V1658.3M363.2 1671.5V1627.4M364.1 1671.5V1659.1M365.9 1671.5V1634.8M366.9 1671.5V1649.2M369.6 1671.5V1633.6M376.1 1671.5V1651.9M379.8 1671.5V1634.2M380.7 1671.5V1634.9M382.6 1671.5V1649.1M387.2 1671.5V1654.6M389.1 1671.5V1602.7M390.9 1671.5V1646.2M392.8 1671.5V1641.8M394.6 1671.5V1645.8M395.5 1671.5V1654.6M400.1 1671.5V1657.6M402.0 1671.5V1638.7M403.8 1671.5V1659.4M406.6 1671.5V1651.9M407.5 1671.5V1657.2M409.4 1671.5V1652.6M413.1 1671.5V1604.2M414.0 1671.5V1626.3M416.8 1671.5V1647.2M417.7 1671.5V1628.4M419.6 1671.5V1616.5M424.2 1671.5V1640.4M425.1 1671.5V1631.4M426.0 1671.5V1653.3M426.9 1671.5V1659.3M429.7 1671.5V1578.6M430.6 1671.5V1647.5M431.6 1671.5V1659.0M434.3 1671.5V1651.6M438.0 1671.5V1652.5M443.6 1671.5V1629.6M445.4 1671.5V1646.2M449.1 1671.5V1619.8M451.0 1671.5V1659.1M453.8 1671.5V1633.5M454.7 1671.5V1658.7M455.6 1671.5V1634.1M459.3 1671.5V1654.0M462.1 1671.5V1651.3M463.9 1671.5V1656.9M467.6 1671.5V1641.4M470.4 1671.5V1602.2M472.2 1671.5V1610.5M474.1 1671.5V1639.4M475.0 1671.5V1622.2M476.9 1671.5V1624.0M477.8 1671.5V1649.3M478.7 1671.5V1652.9M479.6 1671.5V1630.5M480.6 1671.5V1621.9M482.4 1671.5V1619.2M484.3 1671.5V1659.4M485.2 1671.5V1656.0M487.0 1671.5V1655.9M488.0 1671.5V1648.7M491.7 1671.5V1639.3M492.6 1671.5V1655.8M493.5 1671.5V1611.0M494.4 1671.5V1618.5M495.3 1671.5V1649.4M498.1 1671.5V1630.0M499.0 1671.5V1658.8M500.0 1671.5V1637.1M500.9 1671.5V1631.3M505.5 1671.5V1640.7M507.4 1671.5V1658.8M508.3 1671.5V1610.0M509.2 1671.5V1611.6M512.9 1671.5V1657.2M516.6 1671.5V1645.2M517.5 1671.5V1654.2M519.4 1671.5V1614.2M521.2 1671.5V1624.9M522.2 1671.5V1637.7M523.1 1671.5V1657.7M524.0 1671.5V1625.1M525.8 1671.5V1642.4M527.7 1671.5V1647.7M528.6 1671.5V1624.7M531.4 1671.5V1656.0M532.3 1671.5V1646.4M534.2 1671.5V1625.9M535.1 1671.5V1663.0M536.0 1671.5V1628.6M538.8 1671.5V1662.5M539.7 1671.5V1659.1M541.6 1671.5V1658.0M544.3 1671.5V1660.4M545.3 1671.5V1625.0M547.1 1671.5V1636.4M549.9 1671.5V1663.0M550.8 1671.5V1660.5M557.3 1671.5V1627.1M558.2 1671.5V1658.6M559.1 1671.5V1653.1M561.9 1671.5V1634.8M562.8 1671.5V1663.1M563.7 1671.5V1658.5M564.7 1671.5V1652.3M567.4 1671.5V1641.6M568.4 1671.5V1636.4M569.3 1671.5V1648.6M570.2 1671.5V1662.4M576.7 1671.5V1663.0M577.6 1671.5V1655.9M579.5 1671.5V1640.0M580.4 1671.5V1659.5M583.2 1671.5V1661.5M584.1 1671.5V1646.9M585.0 1671.5V1636.3M585.9 1671.5V1650.7M587.8 1671.5V1630.0M590.6 1671.5V1651.9M592.4 1671.5V1638.4M594.2 1671.5V1653.0M596.1 1671.5V1655.7M597.9 1671.5V1640.3M600.7 1671.5V1662.8M601.6 1671.5V1658.7M602.6 1671.5V1640.8M605.3 1671.5V1646.7M606.3 1671.5V1628.7M607.2 1671.5V1660.0M608.1 1671.5V1648.5M609.0 1671.5V1639.8M610.0 1671.5V1649.3M610.9 1671.5V1655.1M611.8 1671.5V1639.2M613.7 1671.5V1628.6M615.5 1671.5V1653.7M617.4 1671.5V1657.2M618.3 1671.5V1653.7M622.9 1671.5V1625.2M624.8 1671.5V1652.6M626.6 1671.5V1657.2M628.4 1671.5V1649.6M629.4 1671.5V1629.1M630.3 1671.5V1631.8M634.9 1671.5V1629.3M635.8 1671.5V1656.7M637.7 1671.5V1651.1M639.5 1671.5V1663.1M640.5 1671.5V1648.1M641.4 1671.5V1626.1M642.3 1671.5V1662.8M645.1 1671.5V1623.4M646.0 1671.5V1660.5M646.9 1671.5V1660.0M649.7 1671.5V1658.3M650.6 1671.5V1654.1M651.6 1671.5V1641.9M652.5 1671.5V1630.1M653.4 1671.5V1653.9M658.0 1671.5V1636.3M660.8 1671.5V1629.9M661.7 1671.5V1632.7M664.5 1671.5V1625.9M666.3 1671.5V1663.1M668.2 1671.5V1625.1M669.1 1671.5V1658.2M670.0 1671.5V1655.6M671.0 1671.5V1635.0M671.9 1671.5V1659.3M672.8 1671.5V1644.9M673.7 1671.5V1649.7M674.7 1671.5V1635.6M675.6 1671.5V1641.1M676.5 1671.5V1649.1M679.3 1671.5V1651.3M681.1 1671.5V1661.4M682.1 1671.5V1655.9M683.0 1671.5V1644.8M684.8 1671.5V1654.6M685.8 1671.5V1659.4M686.7 1671.5V1631.6M690.4 1671.5V1661.4M693.1 1671.5V1656.6M695.0 1671.5V1643.8M696.8 1671.5V1643.0M697.8 1671.5V1641.5M700.5 1671.5V1626.0M705.2 1671.5V1663.1M706.1 1671.5V1659.0M707.0 1671.5V1632.3M707.9 1671.5V1656.1M709.8 1671.5V1662.2M715.3 1671.5V1660.4M717.2 1671.5V1650.6M718.1 1671.5V1663.1M720.9 1671.5V1645.3M721.8 1671.5V1625.1M722.7 1671.5V1655.9M725.5 1671.5V1566.7M728.3 1671.5V1640.6M730.1 1671.5V1645.3M731.0 1671.5V1635.8M732.0 1671.5V1661.8M732.9 1671.5V1642.7M733.8 1671.5V1646.5M734.7 1671.5V1642.6M737.5 1671.5V1659.0M739.4 1671.5V1657.5M742.1 1671.5V1661.5M743.1 1671.5V1651.6M745.8 1671.5V1655.8M747.7 1671.5V1663.1M748.6 1671.5V1629.8M749.5 1671.5V1642.5M750.5 1671.5V1637.6M756.0 1671.5V1632.1M756.9 1671.5V1658.9M757.8 1671.5V1646.8M758.8 1671.5V1571.9M759.7 1671.5V1642.2M760.6 1671.5V1658.9M761.5 1671.5V1646.9M762.5 1671.5V1630.6M764.3 1671.5V1661.1M767.1 1671.5V1609.2M768.0 1671.5V1661.9M769.9 1671.5V1627.3M772.6 1671.5V1654.3M776.3 1671.5V1659.1M778.2 1671.5V1628.6M780.0 1671.5V1630.3M781.0 1671.5V1633.0M783.7 1671.5V1657.5M787.4 1671.5V1660.8M788.4 1671.5V1654.8M790.2 1671.5V1648.8M791.1 1671.5V1637.0M792.0 1671.5V1655.9M794.8 1671.5V1648.9M797.6 1671.5V1616.8M799.4 1671.5V1626.9M802.2 1671.5V1640.0M805.9 1671.5V1655.9M806.8 1671.5V1628.9M807.8 1671.5V1648.0M808.7 1671.5V1641.1M809.6 1671.5V1647.5M811.5 1671.5V1660.3M814.2 1671.5V1648.8M815.2 1671.5V1652.2M817.0 1671.5V1644.4M817.9 1671.5V1648.5M819.8 1671.5V1640.5M821.6 1671.5V1657.9M826.2 1671.5V1627.5M831.8 1671.5V1654.3M833.6 1671.5V1644.5M837.3 1671.5V1662.8M841.0 1671.5V1659.5M842.0 1671.5V1635.8M842.9 1671.5V1655.7M843.8 1671.5V1645.9M844.7 1671.5V1625.7M846.6 1671.5V1663.1M847.5 1671.5V1658.3M851.2 1671.5V1644.9M854.0 1671.5V1651.9M854.9 1671.5V1647.6M857.7 1671.5V1654.7M861.4 1671.5V1649.1M865.1 1671.5V1648.1M871.5 1671.5V1631.3M872.5 1671.5V1652.4M878.9 1671.5V1649.9M880.8 1671.5V1660.8M882.6 1671.5V1661.6M883.6 1671.5V1654.8M886.3 1671.5V1638.3M889.1 1671.5V1635.6M890.0 1671.5V1599.5M890.9 1671.5V1644.8M891.9 1671.5V1660.0M893.7 1671.5V1662.5M895.6 1671.5V1661.3M896.5 1671.5V1662.9M897.4 1671.5V1654.7M899.3 1671.5V1629.2M903.0 1671.5V1640.2M904.8 1671.5V1645.7M905.7 1671.5V1660.3M906.7 1671.5V1659.6M907.6 1671.5V1653.2M909.4 1671.5V1643.0M913.1 1671.5V1634.1M914.1 1671.5V1655.0M915.0 1671.5V1661.1M916.8 1671.5V1664.5M918.7 1671.5V1664.7M919.6 1671.5V1647.3M920.5 1671.5V1655.7M930.7 1671.5V1647.1M931.6 1671.5V1655.3M933.5 1671.5V1664.6M934.4 1671.5V1663.3M935.3 1671.5V1636.9M936.2 1671.5V1653.3M937.2 1671.5V1662.0M939.9 1671.5V1639.3M941.8 1671.5V1663.1M942.7 1671.5V1664.1M944.6 1671.5V1647.3M946.4 1671.5V1661.2M947.3 1671.5V1645.3M953.8 1671.5V1643.6M955.6 1671.5V1639.8M957.5 1671.5V1656.9M958.4 1671.5V1660.5M959.3 1671.5V1664.9M961.2 1671.5V1662.2M962.1 1671.5V1664.6M964.9 1671.5V1636.2M965.8 1671.5V1662.5M966.7 1671.5V1642.5M968.6 1671.5V1653.3M969.5 1671.5V1655.6M972.3 1671.5V1658.2M976.0 1671.5V1649.7M976.9 1671.5V1644.3M978.8 1671.5V1635.8M980.6 1671.5V1640.1M981.5 1671.5V1630.4M983.4 1671.5V1664.3M986.2 1671.5V1644.2M987.1 1671.5V1636.3M988.9 1671.5V1664.5M991.7 1671.5V1663.2M994.5 1671.5V1664.0M996.3 1671.5V1663.5M998.2 1671.5V1664.9M999.1 1671.5V1657.4M1001.9 1671.5V1662.6M1002.8 1671.5V1656.1M1004.6 1671.5V1647.8M1006.5 1671.5V1653.0M1008.3 1671.5V1658.2M1010.2 1671.5V1664.9M1016.7 1671.5V1651.9M1018.5 1671.5V1651.5M1019.4 1671.5V1637.6M1021.3 1671.5V1662.5M1024.0 1671.5V1643.6M1025.9 1671.5V1641.3M1028.7 1671.5V1655.6M1029.6 1671.5V1627.2M1031.4 1671.5V1650.1M1032.4 1671.5V1657.2M1034.2 1671.5V1658.9M1036.1 1671.5V1663.7M1037.9 1671.5V1655.7M1039.8 1671.5V1642.8M1041.6 1671.5V1649.1M1042.5 1671.5V1656.8M1044.4 1671.5V1663.9M1046.2 1671.5V1647.4M1049.0 1671.5V1650.8M1051.8 1671.5V1635.5M1054.5 1671.5V1657.8M1056.4 1671.5V1655.9M1060.1 1671.5V1662.5M1061.9 1671.5V1663.3M1062.9 1671.5V1649.2M1063.8 1671.5V1603.8M1065.6 1671.5V1661.6M1066.6 1671.5V1654.9M1068.4 1671.5V1636.1M1069.3 1671.5V1664.7M1071.2 1671.5V1643.9M1074.0 1671.5V1643.5M1076.7 1671.5V1637.5M1080.4 1671.5V1663.1M1082.3 1671.5V1645.8M1084.1 1671.5V1658.2M1086.0 1671.5V1659.6M1088.7 1671.5V1657.8M1090.6 1671.5V1633.8M1093.4 1671.5V1654.5M1095.2 1671.5V1648.7M1096.1 1671.5V1663.6M1098.9 1671.5V1664.6M1099.8 1671.5V1663.9M1103.5 1671.5V1664.8M1104.5 1671.5V1664.1M1107.2 1671.5V1664.8M1111.9 1671.5V1660.3M1112.8 1671.5V1663.9M1114.6 1671.5V1659.6M1116.5 1671.5V1639.7M1118.3 1671.5V1641.9M1119.3 1671.5V1636.0M1120.2 1671.5V1660.4M1123.9 1671.5V1633.8M1126.6 1671.5V1663.2M1132.2 1671.5V1652.5M1133.1 1671.5V1660.1M1135.0 1671.5V1662.4M1136.8 1671.5V1653.6M1141.4 1671.5V1656.3M1146.1 1671.5V1642.8M1147.9 1671.5V1651.3M1148.8 1671.5V1654.8M1149.8 1671.5V1651.9M1155.3 1671.5V1649.9M1157.1 1671.5V1643.1M1160.8 1671.5V1664.8M1161.8 1671.5V1662.6M1163.6 1671.5V1664.3M1168.2 1671.5V1658.1M1171.0 1671.5V1664.2M1173.8 1671.5V1648.4M1174.7 1671.5V1655.7M1175.6 1671.5V1647.2M1179.3 1671.5V1662.1M1181.2 1671.5V1646.4M1184.0 1671.5V1663.5M1186.7 1671.5V1636.5M1188.6 1671.5V1661.4M1189.5 1671.5V1635.5M1191.3 1671.5V1655.4M1192.3 1671.5V1651.6M1194.1 1671.5V1656.7M1200.6 1671.5V1643.5M1204.3 1671.5V1655.4M1205.2 1671.5V1659.4M1208.0 1671.5V1634.4M1210.8 1671.5V1657.6M1211.7 1671.5V1643.7M1212.6 1671.5V1656.1M1214.5 1671.5V1653.9M1215.4 1671.5V1656.5M1220.0 1671.5V1648.1M1221.8 1671.5V1643.7M1223.7 1671.5V1664.0M1224.6 1671.5V1642.4M1226.5 1671.5V1650.7M1228.3 1671.5V1656.7M1232.9 1671.5V1663.1M1233.9 1671.5V1632.4M1235.7 1671.5V1643.1M1237.6 1671.5V1651.2M1238.5 1671.5V1655.8M1241.3 1671.5V1653.7M1243.1 1671.5V1652.5M1251.4 1671.5V1653.5M1255.1 1671.5V1663.9M1257.9 1671.5V1644.8M1261.6 1671.5V1658.8M1262.5 1671.5V1605.9M1263.4 1671.5V1664.2M1264.4 1671.5V1631.7M1265.3 1671.5V1660.2M1266.2 1671.5V1659.1M1267.1 1671.5V1657.1M1273.6 1671.5V1658.3M1274.5 1671.5V1655.8M1277.3 1671.5V1646.2M1279.2 1671.5V1662.7M1280.1 1671.5V1663.5M1281.0 1671.5V1647.9M1281.9 1671.5V1647.5M1286.5 1671.5V1663.7M1287.5 1671.5V1656.7M1288.4 1671.5V1648.2M1289.3 1671.5V1663.2M1290.2 1671.5V1655.3M1291.2 1671.5V1656.6M1292.1 1671.5V1580.4M1293.0 1671.5V1630.9M1294.9 1671.5V1646.0M1295.8 1671.5V1664.2M1299.5 1671.5V1664.2M1301.3 1671.5V1632.6M1302.3 1671.5V1656.8M1305.0 1671.5V1646.7M1306.0 1671.5V1663.6M1306.9 1671.5V1632.2M1310.6 1671.5V1636.6M1312.4 1671.5V1653.3M1314.3 1671.5V1654.1M1315.2 1671.5V1637.6M1317.1 1671.5V1659.1M1318.9 1671.5V1660.6M1325.4 1671.5V1648.4M1328.1 1671.5V1642.6M1329.1 1671.5V1607.5M1331.8 1671.5V1660.2M1332.8 1671.5V1661.1M1334.6 1671.5V1641.8M1337.4 1671.5V1663.5M1339.2 1671.5V1637.5M1341.1 1671.5V1642.9M1342.0 1671.5V1662.2M1342.9 1671.5V1641.5M1344.8 1671.5V1646.8M1345.7 1671.5V1660.9M1348.5 1671.5V1653.3M1349.4 1671.5V1644.6M1352.2 1671.5V1664.1M1353.1 1671.5V1630.8M1354.0 1671.5V1651.4M1355.9 1671.5V1660.9M1356.8 1671.5V1661.7M1358.6 1671.5V1662.9M1359.6 1671.5V1654.8M1361.4 1671.5V1655.8M1364.2 1671.5V1648.7M1365.1 1671.5V1653.2M1366.0 1671.5V1664.0M1367.0 1671.5V1631.4M1367.9 1671.5V1653.5M1377.1 1671.5V1635.4M1380.8 1671.5V1658.7M1383.6 1671.5V1636.9M1384.5 1671.5V1644.8M1386.4 1671.5V1662.1M1388.2 1671.5V1663.4M1389.1 1671.5V1639.7M1390.1 1671.5V1658.4M1391.9 1671.5V1660.0M1392.8 1671.5V1660.1M1393.8 1671.5V1661.2M1394.7 1671.5V1654.6M1395.6 1671.5V1645.4M1399.3 1671.5V1633.3M1401.2 1671.5V1654.0M1402.1 1671.5V1656.7M1403.9 1671.5V1643.2M1404.9 1671.5V1632.8M1405.8 1671.5V1663.9M1406.7 1671.5V1662.8M1409.5 1671.5V1655.7M1415.0 1671.5V1658.0M1416.9 1671.5V1647.5M1417.8 1671.5V1640.4M1420.6 1671.5V1639.1M1421.5 1671.5V1654.4M1423.3 1671.5V1662.4M1424.3 1671.5V1631.7M1425.2 1671.5V1663.0M1426.1 1671.5V1662.3M1429.8 1671.5V1659.0M1432.6 1671.5V1659.1M1433.5 1671.5V1655.3M1437.2 1671.5V1652.1M1440.0 1671.5V1588.4M1443.7 1671.5V1656.4M1446.5 1671.5V1656.2M1447.4 1671.5V1641.6M1448.3 1671.5V1643.4M1451.1 1671.5V1661.7M1454.8 1671.5V1652.6M1455.7 1671.5V1643.8M1456.6 1671.5V1654.2M1458.5 1671.5V1629.8M1462.2 1671.5V1643.4M1464.0 1671.5V1655.6M1465.9 1671.5V1662.3M1466.8 1671.5V1656.8M1467.7 1671.5V1647.0M1474.2 1671.5V1641.8M1475.1 1671.5V1660.9M1476.0 1671.5V1660.2M1477.0 1671.5V1662.7M1477.9 1671.5V1647.2M1478.8 1671.5V1641.9M1488.0 1671.5V1650.1M1489.9 1671.5V1643.9M1490.8 1671.5V1644.7M1492.7 1671.5V1641.4M1496.4 1671.5V1651.3M1498.2 1671.5V1636.8M1499.1 1671.5V1633.3M1501.9 1671.5V1636.8M1503.8 1671.5V1652.8M1504.7 1671.5V1595.3M1506.5 1671.5V1640.1M1510.2 1671.5V1662.9M1511.2 1671.5V1645.1M1519.5 1671.5V1660.4M1520.4 1671.5V1658.0M1521.3 1671.5V1647.8M1523.2 1671.5V1649.2M1524.1 1671.5V1657.5M1526.9 1671.5V1650.8M1527.8 1671.5V1646.9M1528.7 1671.5V1653.5M1529.6 1671.5V1653.9M1530.6 1671.5V1660.4M1534.3 1671.5V1651.1M1538.9 1671.5V1635.6M1539.8 1671.5V1642.9M1540.7 1671.5V1646.9M1541.7 1671.5V1651.3M1542.6 1671.5V1661.2M1549.1 1671.5V1628.7M1551.8 1671.5V1619.3M1552.7 1671.5V1657.0M1553.7 1671.5V1661.9M1554.6 1671.5V1656.2M1556.4 1671.5V1652.5M1557.4 1671.5V1651.1M1561.1 1671.5V1642.3M1562.0 1671.5V1662.1M1562.9 1671.5V1663.9M1563.8 1671.5V1651.5M1565.7 1671.5V1638.3M1566.6 1671.5V1636.1M1568.5 1671.5V1646.9M1569.4 1671.5V1648.3M1570.3 1671.5V1662.6M1572.2 1671.5V1658.0M1574.0 1671.5V1646.5M1574.9 1671.5V1648.4M1575.9 1671.5V1644.9M1577.7 1671.5V1662.9M1578.6 1671.5V1655.3M1581.4 1671.5V1655.7M1583.2 1671.5V1663.8M1584.2 1671.5V1649.5M1585.1 1671.5V1652.8M1588.8 1671.5V1662.0M1589.7 1671.5V1655.6M1590.6 1671.5V1662.2M1591.6 1671.5V1664.2M1594.3 1671.5V1629.6M1595.3 1671.5V1644.6M1599.0 1671.5V1649.6M1599.9 1671.5V1657.0M1600.8 1671.5V1645.9M1602.7 1671.5V1657.3M1605.4 1671.5V1657.4M1606.4 1671.5V1656.3M1607.3 1671.5V1662.0M1610.1 1671.5V1642.0M1611.0 1671.5V1635.3M1611.9 1671.5V1642.6M1612.8 1671.5V1664.2M1613.8 1671.5V1661.9M1614.7 1671.5V1657.8M1617.4 1671.5V1637.2M1618.4 1671.5V1657.2M1619.3 1671.5V1661.9M1620.2 1671.5V1658.2M1621.1 1671.5V1625.0M1622.1 1671.5V1636.6M1629.5 1671.5V1616.9M1632.2 1671.5V1661.9M1634.1 1671.5V1643.4M1638.7 1671.5V1661.4M1640.6 1671.5V1642.3M1641.5 1671.5V1648.3M1642.4 1671.5V1658.1M1646.1 1671.5V1649.7M1648.0 1671.5V1639.7M1651.6 1671.5V1656.8M1653.5 1671.5V1658.5M1654.4 1671.5V1658.3M1657.2 1671.5V1648.7M1658.1 1671.5V1660.6M1660.9 1671.5V1646.7M1663.7 1671.5V1635.1M1667.4 1671.5V1639.1M1668.3 1671.5V1662.7M1670.1 1671.5V1651.4M1672.0 1671.5V1654.4M1673.8 1671.5V1653.3M1674.8 1671.5V1659.0M1675.7 1671.5V1663.0M1678.5 1671.5V1660.2M1680.3 1671.5V1632.6M1682.1 1671.5V1664.2M1683.1 1671.5V1640.1M1684.0 1671.5V1642.3M1684.9 1671.5V1663.5M1686.8 1671.5V1661.1M1687.7 1671.5V1660.5M1688.6 1671.5V1637.0M1689.5 1671.5V1649.2M1690.5 1671.5V1662.5M1692.3 1671.5V1652.1M1696.0 1671.5V1659.9M1697.9 1671.5V1663.2M1699.7 1671.5V1632.4M1702.5 1671.5V1645.6M1704.3 1671.5V1650.7M1707.1 1671.5V1659.7M1709.9 1671.5V1660.7M1712.7 1671.5V1659.9M1713.6 1671.5V1647.5M1714.5 1671.5V1646.8M1716.3 1671.5V1655.2M1717.3 1671.5V1645.8M1719.1 1671.5V1649.5M1721.0 1671.5V1652.7M1725.6 1671.5V1650.6M1726.5 1671.5V1645.3M1727.4 1671.5V1645.7M1728.4 1671.5V1646.7M1729.3 1671.5V1653.5M1730.2 1671.5V1660.3M1733.0 1671.5V1660.1M1734.8 1671.5V1664.1M1736.7 1671.5V1659.0M1739.5 1671.5V1658.9M1741.3 1671.5V1658.3M1742.2 1671.5V1660.5M1743.2 1671.5V1654.4M1744.1 1671.5V1632.1M1745.0 1671.5V1614.4M1745.9 1671.5V1642.8M1746.9 1671.5V1634.5M1747.8 1671.5V1649.7M1749.6 1671.5V1651.9M1750.5 1671.5V1647.4M1752.4 1671.5V1642.8M1754.2 1671.5V1638.7M1755.2 1671.5V1646.4M1756.1 1671.5V1655.7M1757.9 1671.5V1647.7M1759.8 1671.5V1654.6M1761.6 1671.5V1661.7M1764.4 1671.5V1648.0M1765.3 1671.5V1659.0M1767.2 1671.5V1650.5M1770.0 1671.5V1663.0M1773.7 1671.5V1642.6M1774.6 1671.5V1638.0M1776.4 1671.5V1658.1M1779.2 1671.5V1662.2M1780.1 1671.5V1656.1M1781.0 1671.5V1650.8M1782.9 1671.5V1664.2M1786.6 1671.5V1660.2M1788.4 1671.5V1654.3M1790.3 1671.5V1650.1M1792.1 1671.5V1637.9M1793.1 1671.5V1642.0M1796.8 1671.5V1662.7M1797.7 1671.5V1631.6M1798.6 1671.5V1633.4M1799.5 1671.5V1657.9M1802.3 1671.5V1636.3M1804.2 1671.5V1638.4M1809.7 1671.5V1664.1M1810.6 1671.5V1655.1M1811.6 1671.5V1660.8M1812.5 1671.5V1650.7M1815.2 1671.5V1663.6M1816.2 1671.5V1655.3M1817.1 1671.5V1643.4M1819.9 1671.5V1632.0M1821.7 1671.5V1634.7M1822.6 1671.5V1630.8M1823.6 1671.5V1655.1M1824.5 1671.5V1650.2M1825.4 1671.5V1647.9M1826.3 1671.5V1630.3M1827.3 1671.5V1653.4M1829.1 1671.5V1663.6M1830.0 1671.5V1637.9M1831.0 1671.5V1663.1M1831.9 1671.5V1648.7M1836.5 1671.5V1648.4M1839.3 1671.5V1650.6M1840.2 1671.5V1663.7M1841.1 1671.5V1639.2M1844.8 1671.5V1637.7M1845.8 1671.5V1656.6M1848.5 1671.5V1659.2M1849.4 1671.5V1647.0M1851.3 1671.5V1639.9M1852.2 1671.5V1645.5M1854.1 1671.5V1650.8M1855.0 1671.5V1656.3M1855.9 1671.5V1632.9M1856.8 1671.5V1634.0M1859.6 1671.5V1655.2M1861.5 1671.5V1633.2M1862.4 1671.5V1655.6M1863.3 1671.5V1640.3M1866.1 1671.5V1661.4M1868.9 1671.5V1646.9M1870.7 1671.5V1643.3M1872.6 1671.5V1661.7M1875.3 1671.5V1642.2M1876.3 1671.5V1661.4M1878.1 1671.5V1659.1M1881.8 1671.5V1633.8M1883.6 1671.5V1649.6M1884.6 1671.5V1663.9M1886.4 1671.5V1662.3M1887.3 1671.5V1661.1M1890.1 1671.5V1644.2M1891.0 1671.5V1659.4M1892.0 1671.5V1621.9M1893.8 1671.5V1661.8M1895.7 1671.5V1646.3M1896.6 1671.5V1642.2M1897.5 1671.5V1647.6M1898.4 1671.5V1659.9M1900.3 1671.5V1656.7M1901.2 1671.5V1651.6M1902.1 1671.5V1649.9M1904.9 1671.5V1664.2M1905.8 1671.5V1656.9M1906.8 1671.5V1652.4M1907.7 1671.5V1656.9M1908.6 1671.5V1637.6M1912.3 1671.5V1663.2M1903.2 1671V1540" stroke="#7a1c1c" stroke-opacity="0.15" stroke-width="1" fill="none"/>
<rect x="1515.5" y="355.68" width="915.5" height="3.1" fill="#4e4e4e"/>
<rect x="1477.5" y="611.58" width="953.5" height="3.1" fill="#4e4e4e"/>
<rect x="462.5" y="811.27" width="1968.5" height="3.1" fill="#4e4e4e"/>
<rect x="408.0" y="997.20" width="2023.0" height="3.1" fill="#4e4e4e"/>
<path d="M17.5 1506.2V1509.3M18.4 1502.3V1508.7M20.3 1501.8V1512.3M23.0 1506.0V1513.4M24.9 1504.3V1509.6M26.7 1503.5V1510.5M28.6 1504.9V1507.2M29.5 1501.0V1509.9M31.3 1506.3V1513.8M32.3 1499.1V1513.6M33.2 1499.7V1504.9M35.0 1503.4V1507.6M36.0 1500.1V1500.7M36.9 1495.1V1500.6M37.8 1486.2V1500.3M38.7 1482.1V1491.7M39.7 1478.8V1486.2M42.4 1482.3V1483.8M43.4 1476.8V1482.4M47.1 1473.6V1491.8M48.0 1474.7V1481.2M50.8 1467.7V1488.1M52.6 1472.7V1482.5M53.5 1470.0V1489.0M55.4 1473.0V1479.7M58.2 1473.2V1478.2M59.1 1467.5V1480.6M61.9 1472.4V1479.0M63.7 1475.8V1481.5M66.5 1476.1V1480.9M67.4 1475.4V1480.6M74.8 1491.4V1496.3M76.6 1489.6V1499.2M77.6 1486.0V1493.2M79.4 1495.4V1498.8M80.3 1489.4V1498.6M81.3 1485.9V1490.8M84.0 1477.5V1492.7M88.7 1489.4V1493.6M89.6 1484.4V1493.5M91.4 1491.1V1499.5M93.3 1490.0V1493.6M94.2 1487.1V1493.6M96.1 1487.7V1495.7M97.0 1486.1V1493.6M98.8 1479.5V1491.9M100.7 1486.6V1491.0M104.4 1486.0V1498.5M106.2 1479.5V1489.0M108.1 1478.5V1483.4M110.8 1477.2V1482.0M111.8 1477.2V1482.0M113.6 1472.6V1480.9M114.5 1471.5V1480.8M116.4 1468.9V1478.1M117.3 1459.7V1473.8M121.0 1457.8V1463.1M122.9 1456.8V1467.0M123.8 1453.5V1461.1M126.6 1455.3V1460.4M127.5 1453.5V1457.6M128.4 1443.9V1455.6M130.2 1436.9V1455.8M131.2 1432.6V1447.3M133.9 1437.4V1441.7M134.9 1432.5V1441.3M135.8 1424.0V1437.6M137.6 1427.8V1440.5M139.5 1421.1V1450.8M140.4 1419.0V1423.8M141.3 1415.0V1422.0M142.3 1408.1V1421.0M143.2 1404.7V1417.8M144.1 1404.1V1417.3M145.0 1399.1V1402.4M146.0 1388.5V1402.5M147.8 1390.9V1403.3M152.4 1389.3V1421.6M153.4 1382.3V1398.9M155.2 1382.2V1396.9M157.1 1384.3V1387.8M162.6 1398.0V1406.8M164.4 1395.8V1408.1M165.4 1389.4V1402.2M166.3 1389.1V1394.7M169.1 1365.4V1388.5M170.0 1351.2V1379.0M170.9 1339.3V1363.4M171.8 1333.7V1343.5M172.8 1332.2V1348.4M174.6 1342.6V1357.1M175.5 1332.1V1354.8M176.5 1333.0V1349.5M177.4 1333.8V1349.1M178.3 1297.1V1338.1M180.2 1277.5V1320.1M181.1 1274.1V1302.3M182.9 1270.1V1288.3M183.9 1256.5V1278.2M184.8 1249.2V1259.8M185.7 1214.1V1256.1M186.6 1219.3V1237.0M187.6 1172.7V1228.7M188.5 1153.7V1200.6M190.3 1125.9V1182.3M194.0 1199.9V1260.7M195.0 1173.1V1241.9M195.9 1146.2V1201.1M198.6 1183.1V1224.3M199.6 1181.9V1212.5M203.3 1239.8V1273.1M204.2 1221.5V1247.7M205.1 1190.2V1234.2M207.9 1238.3V1271.1M208.8 1191.8V1256.5M209.7 1164.7V1214.6M212.5 1203.7V1241.7M213.4 1198.0V1231.0M214.4 1156.3V1215.1M216.2 1162.6V1188.1M217.1 1137.9V1171.5M218.1 1131.6V1159.4M219.0 1065.3V1145.2M219.9 1045.2V1087.7M222.7 1044.3V1057.7M223.6 1021.3V1060.1M227.3 1005.5V1079.7M228.2 988.7V1039.7M229.1 957.9V1012.3M230.1 945.0V971.7M233.8 1017.3V1070.1M237.5 1076.2V1114.3M238.4 1034.5V1107.7M240.2 1021.2V1060.3M242.1 1059.8V1065.7M243.0 1032.8V1071.5M243.9 1021.8V1049.3M244.9 974.9V1042.1M245.8 964.2V999.7M246.7 909.5V997.6M247.6 931.6V948.9M248.6 902.9V946.5M253.2 972.2V985.5M254.1 949.4V983.0M255.0 920.7V986.4M256.0 926.1V955.5M259.7 994.6V1025.7M261.5 940.6V1018.3M263.3 943.4V969.2M264.3 915.9V968.7M265.2 914.5V947.6M266.1 887.5V954.9M268.0 923.3V965.8M270.7 966.7V1002.9M271.7 936.5V974.1M272.6 932.2V967.9M273.5 931.9V969.6M274.4 903.6V965.9M275.4 900.3V963.1M276.3 877.8V911.2M277.2 873.0V921.9M278.1 878.5V924.8M279.1 861.0V896.0M280.9 863.9V910.5M282.8 935.8V961.1M289.2 1008.5V1058.2M290.2 983.0V1018.1M292.0 993.6V1028.2M292.9 975.8V1022.9M293.9 958.5V1005.8M294.8 938.2V1000.6M295.7 925.9V949.3M297.5 952.9V993.1M299.4 959.3V1002.6M300.3 936.4V1000.6M302.2 920.2V991.7M307.7 1074.9V1098.3M313.3 1232.7V1250.7M315.1 1218.9V1255.4M316.0 1180.0V1235.6M317.0 1141.1V1197.8M320.7 1209.8V1220.4M322.5 1182.4V1225.0M324.4 1166.3V1205.0M325.3 1153.7V1190.9M329.9 1217.1V1248.0M330.8 1206.9V1244.5M331.7 1184.8V1225.8M333.6 1176.6V1213.9M334.5 1139.0V1188.8M335.4 1140.0V1172.2M336.4 1135.4V1160.0M344.7 1242.7V1262.1M346.5 1211.5V1254.7M347.5 1214.3V1237.7M348.4 1193.5V1222.0M349.3 1187.3V1205.6M352.1 1213.3V1237.5M353.0 1196.5V1235.0M353.9 1195.4V1216.0M354.9 1193.0V1203.3M356.7 1215.8V1242.4M358.6 1218.8V1242.1M362.2 1224.7V1242.0M365.0 1229.9V1262.7M367.8 1256.6V1272.9M368.7 1240.7V1263.6M370.6 1237.9V1269.7M371.5 1211.5V1257.5M372.4 1188.5V1235.4M373.3 1168.6V1210.9M374.3 1166.5V1188.8M375.2 1132.7V1173.1M377.0 1123.3V1172.2M378.0 1124.5V1137.1M378.9 1119.3V1143.6M381.7 1120.3V1162.6M383.5 1155.2V1171.8M384.4 1116.9V1167.7M385.4 1105.4V1135.8M386.3 1077.7V1141.7M388.1 1073.5V1093.9M390.0 1075.8V1104.8M391.8 1054.1V1098.8M393.7 1074.2V1097.3M396.4 1095.9V1105.0M397.4 1060.3V1105.4M398.3 1034.9V1072.2M399.2 1033.8V1050.7M401.1 1043.8V1072.9M402.9 1073.2V1079.3M404.8 1049.6V1077.4M405.7 1033.2V1069.7M408.5 1044.0V1070.7M410.3 1044.1V1100.9M411.2 1011.0V1062.9M412.2 1009.3V1057.9M414.9 1072.9V1098.5M415.9 1039.0V1097.1M418.6 1072.9V1096.8M420.5 1068.5V1096.2M421.4 1072.0V1087.8M422.3 1058.4V1102.3M423.3 1046.7V1083.4M427.9 1090.4V1144.8M428.8 1086.2V1134.4M432.5 1107.2V1143.6M433.4 1109.4V1129.0M435.3 1067.6V1136.5M436.2 1053.4V1093.8M437.1 1041.8V1072.3M439.0 1040.9V1074.1M439.9 1001.4V1072.5M440.8 966.8V1007.8M441.7 960.2V999.1M442.7 962.0V997.5M444.5 947.5V991.2M446.4 931.1V980.4M447.3 899.8V944.3M448.2 880.3V952.9M450.1 870.7V921.1M451.9 859.9V909.7M452.8 848.8V904.8M456.5 885.4V932.5M457.5 880.0V924.3M458.4 877.3V910.2M460.2 888.9V956.0M461.1 877.2V936.9M463.0 885.0V931.0M464.8 873.3V914.1M465.8 871.6V879.7M466.7 851.2V904.0M468.5 899.7V914.1M469.5 817.2V912.1M471.3 843.3V862.9M473.2 837.2V865.4M475.9 833.2V907.2M481.5 939.6V967.8M483.3 930.6V963.8M486.1 944.7V987.3M488.9 959.3V992.2M489.8 947.0V1017.0M490.7 930.7V965.5M496.3 1027.1V1098.2M497.2 1019.6V1053.2M501.8 1069.9V1085.0M502.7 1060.4V1081.8M503.7 1043.2V1081.6M504.6 1040.6V1087.0M506.4 1066.4V1079.7M510.1 1052.9V1088.0M511.1 1051.2V1065.4M512.0 1021.4V1070.7M513.8 1017.5V1044.8M514.8 1011.3V1053.4M515.7 1013.2V1029.1M518.5 1040.8V1075.6M520.3 1054.7V1076.7M524.9 1106.3V1119.4M526.8 1132.7V1146.7M529.5 1115.5V1151.5M530.5 1097.8V1147.7M533.2 1110.1V1132.7M536.9 1117.1V1147.2M537.9 1119.0V1153.9M540.6 1173.0V1205.0M542.5 1187.7V1221.9M543.4 1175.7V1204.8M546.2 1160.6V1192.9M548.0 1160.0V1192.2M549.0 1159.0V1178.8M551.7 1140.4V1190.4M552.7 1125.8V1154.2M553.6 1112.9V1147.9M554.5 1110.5V1141.0M555.4 1088.3V1127.9M556.4 1085.9V1115.0M560.0 1108.7V1130.1M561.0 1087.9V1135.0M565.6 1150.3V1170.9M566.5 1133.5V1160.2M571.1 1155.5V1207.2M572.1 1134.7V1167.0M573.0 1130.6V1164.3M573.9 1110.9V1146.0M574.8 1087.0V1133.4M575.8 1086.2V1111.1M578.5 1145.7V1181.1M581.3 1127.4V1184.6M582.2 1119.0V1160.3M586.9 1148.7V1180.1M588.7 1123.2V1172.7M589.6 1128.4V1150.7M591.5 1122.6V1149.3M593.3 1114.6V1137.2M595.2 1113.0V1135.6M597.0 1077.2V1128.3M598.9 1063.3V1094.1M599.8 1053.1V1089.9M603.5 1068.2V1086.6M604.4 1061.0V1081.7M612.7 1148.3V1157.0M614.6 1143.3V1156.4M616.4 1130.9V1156.2M619.2 1153.5V1167.4M620.1 1141.4V1167.4M621.1 1123.4V1166.7M622.0 1118.0V1164.6M623.8 1133.8V1147.3M625.7 1150.8V1178.8M627.5 1142.9V1178.8M631.2 1151.1V1189.1M632.1 1142.8V1181.7M633.1 1138.4V1199.0M634.0 1146.8V1169.7M636.8 1180.5V1220.2M638.6 1200.0V1239.7M643.2 1260.8V1298.0M644.2 1250.7V1278.2M647.9 1272.1V1279.5M648.8 1250.8V1279.6M654.3 1260.8V1282.9M655.3 1261.7V1276.6M656.2 1249.7V1274.9M657.1 1241.3V1259.3M658.9 1249.3V1271.1M659.9 1239.2V1261.9M662.6 1252.5V1269.9M663.6 1255.6V1268.9M665.4 1250.1V1270.9M667.3 1245.1V1270.3M677.4 1363.8V1395.4M678.4 1360.7V1371.5M680.2 1360.4V1368.0M683.9 1369.5V1379.6M687.6 1386.2V1395.1M688.5 1383.2V1391.8M689.5 1365.0V1395.0M691.3 1367.0V1382.3M692.2 1354.7V1375.9M694.1 1357.4V1373.9M695.9 1369.4V1380.0M698.7 1381.6V1390.9M699.6 1365.8V1389.9M701.5 1366.6V1378.0M702.4 1352.0V1368.3M703.3 1339.5V1360.9M704.2 1334.2V1349.3M708.9 1351.9V1366.5M710.7 1366.4V1368.2M711.6 1360.4V1367.9M712.6 1346.7V1364.9M713.5 1336.2V1350.4M714.4 1331.8V1344.2M716.3 1331.1V1338.9M719.0 1340.1V1360.4M720.0 1342.5V1349.0M723.7 1339.5V1353.9M724.6 1327.6V1343.9M726.4 1325.6V1343.8M727.3 1322.0V1332.6M729.2 1323.5V1334.2M735.7 1365.4V1371.0M736.6 1360.4V1369.8M738.4 1361.7V1370.8M740.3 1368.4V1382.5M741.2 1366.7V1378.5M744.0 1385.7V1387.0M744.9 1379.9V1386.9M746.8 1380.6V1386.9M751.4 1383.6V1394.6M752.3 1370.1V1391.8M753.2 1357.8V1375.8M754.2 1352.3V1367.5M755.1 1350.3V1363.7M763.4 1389.8V1401.0M765.2 1390.5V1401.2M766.2 1379.5V1400.6M768.9 1380.3V1392.8M770.8 1377.9V1385.0M771.7 1378.1V1383.7M773.6 1383.2V1390.8M774.5 1381.0V1388.1M775.4 1376.0V1384.5M777.3 1376.3V1383.7M779.1 1376.9V1386.2M781.9 1390.1V1398.3M782.8 1387.0V1398.5M784.7 1391.2V1398.1M785.6 1391.0V1397.4M786.5 1383.7V1396.2M789.3 1383.5V1392.2M793.0 1380.5V1393.7M793.9 1375.1V1390.5M795.7 1369.1V1382.4M796.7 1369.4V1371.2M798.5 1370.7V1376.2M800.4 1371.6V1378.2M801.3 1370.5V1374.7M803.1 1367.5V1377.1M804.1 1363.5V1373.3M805.0 1365.5V1374.6M810.5 1416.4V1419.1M812.4 1417.8V1423.5M813.3 1415.2V1421.0M816.1 1420.1V1426.0M818.9 1421.5V1430.4M820.7 1419.0V1430.3M822.6 1418.6V1430.6M823.5 1420.2V1423.9M824.4 1418.2V1424.8M825.3 1418.0V1423.6M827.2 1420.3V1424.8M828.1 1420.1V1424.5M829.0 1417.4V1423.3M829.9 1413.7V1422.2M830.9 1412.3V1424.2M832.7 1413.6V1416.3M834.6 1413.5V1417.1M835.5 1412.1V1416.9M836.4 1405.1V1415.4M838.3 1405.6V1415.5M839.2 1406.6V1415.1M840.1 1403.7V1413.3M845.7 1416.1V1421.6M848.4 1419.0V1422.8M849.4 1417.5V1423.3M850.3 1413.8V1423.5M852.1 1417.8V1422.0M853.1 1416.5V1422.1M855.8 1418.5V1430.5M856.7 1407.6V1422.2M858.6 1421.8V1423.4M859.5 1421.5V1422.6M860.4 1415.3V1426.5M862.3 1418.8V1419.4M863.2 1414.8V1418.4M864.1 1409.3V1415.7M866.0 1408.0V1416.2M866.9 1398.2V1411.8M867.8 1382.7V1407.9M868.8 1363.5V1393.8M869.7 1364.1V1376.7M870.6 1363.3V1378.2M873.4 1367.5V1371.7M874.3 1368.3V1370.2M875.2 1350.1V1372.7M876.2 1343.2V1356.9M877.1 1340.2V1349.5M878.0 1340.2V1346.7M879.9 1339.9V1348.9M881.7 1340.8V1348.3M884.5 1333.1V1348.4M885.4 1334.5V1342.4M887.3 1339.2V1347.2M888.2 1331.5V1342.8M892.8 1340.5V1355.1M894.6 1348.0V1363.7M898.3 1346.8V1364.5M900.2 1333.3V1365.4M901.1 1332.3V1340.8M902.0 1322.0V1343.3M903.9 1322.0V1335.9M908.5 1336.9V1345.6M910.4 1338.3V1351.1M911.3 1338.4V1348.9M912.2 1337.0V1349.0M915.9 1357.9V1359.7M917.8 1356.2V1364.3M921.5 1361.7V1381.2M922.4 1352.0V1369.8M923.3 1323.2V1361.0M924.2 1327.1V1339.6M925.1 1323.9V1345.6M926.1 1310.1V1328.0M927.0 1302.8V1324.0M927.9 1295.7V1309.3M928.8 1282.5V1304.1M929.8 1278.3V1287.5M932.5 1275.6V1302.5M938.1 1281.3V1303.2M939.0 1278.0V1288.5M940.9 1278.2V1299.0M943.6 1277.3V1294.0M945.5 1282.5V1292.3M948.3 1271.5V1289.1M949.2 1268.0V1285.6M950.1 1268.8V1284.9M951.0 1262.5V1284.1M952.0 1254.3V1267.1M952.9 1254.4V1261.0M954.7 1254.4V1266.8M956.6 1262.2V1268.5M960.3 1281.9V1298.4M963.0 1265.5V1297.2M964.0 1267.1V1281.5M967.7 1275.3V1287.7M970.4 1270.6V1290.0M971.4 1270.9V1286.8M973.2 1271.1V1281.0M974.1 1272.4V1284.7M975.1 1270.7V1280.0M977.8 1295.3V1308.4M979.7 1294.3V1307.6M982.5 1295.3V1308.8M984.3 1294.4V1302.4M985.2 1286.5V1300.3M988.0 1294.6V1306.6M989.8 1302.7V1308.0M990.8 1292.4V1305.7M992.6 1286.4V1307.4M993.5 1282.5V1297.1M995.4 1285.9V1304.2M997.2 1291.3V1304.9M1000.0 1295.6V1305.1M1000.9 1294.0V1305.6M1003.7 1299.5V1309.2M1005.6 1306.0V1317.8M1007.4 1315.0V1322.2M1009.3 1303.0V1322.1M1011.1 1316.5V1322.2M1012.0 1299.0V1319.5M1013.0 1304.8V1316.5M1013.9 1298.8V1307.2M1014.8 1266.0V1305.0M1015.7 1248.0V1271.2M1017.6 1251.0V1268.0M1020.4 1253.6V1266.0M1022.2 1251.9V1266.4M1023.1 1255.7V1264.3M1025.0 1250.6V1266.4M1026.8 1246.8V1257.4M1027.7 1247.8V1258.2M1030.5 1248.8V1266.2M1033.3 1247.5V1266.4M1035.1 1248.6V1265.4M1037.0 1246.4V1266.5M1038.8 1251.6V1265.2M1040.7 1258.3V1268.5M1043.5 1259.9V1274.6M1045.3 1262.3V1271.7M1047.2 1273.3V1276.1M1048.1 1268.6V1275.4M1049.9 1269.3V1280.2M1050.9 1270.7V1279.7M1052.7 1268.5V1278.6M1053.6 1267.0V1275.7M1055.5 1266.7V1278.4M1057.3 1265.2V1274.2M1058.2 1264.5V1272.4M1059.2 1264.5V1266.5M1061.0 1264.9V1276.7M1064.7 1268.5V1284.0M1067.5 1274.1V1291.6M1070.3 1291.7V1313.2M1072.1 1305.1V1315.7M1073.0 1306.1V1314.7M1074.9 1300.3V1312.7M1075.8 1298.5V1314.0M1077.7 1292.6V1310.2M1078.6 1292.2V1306.7M1079.5 1289.8V1301.5M1081.4 1301.9V1310.4M1083.2 1301.2V1313.5M1085.1 1314.8V1318.9M1086.9 1315.4V1319.8M1087.8 1311.1V1320.9M1089.7 1312.1V1316.0M1091.5 1310.1V1316.6M1092.4 1306.7V1318.3M1094.3 1295.5V1316.5M1097.1 1294.0V1308.3M1098.0 1294.0V1300.4M1100.8 1298.4V1307.2M1101.7 1294.6V1307.8M1102.6 1294.8V1307.1M1105.4 1296.4V1310.0M1106.3 1289.0V1309.4M1108.2 1288.6V1308.1M1109.1 1290.6V1306.4M1110.0 1284.9V1295.4M1110.9 1283.9V1296.1M1113.7 1286.3V1296.9M1115.6 1287.2V1298.7M1117.4 1288.2V1298.4M1121.1 1303.0V1306.0M1122.0 1286.4V1306.0M1122.9 1283.8V1299.8M1124.8 1270.9V1292.1M1125.7 1269.5V1281.5M1127.6 1265.6V1274.7M1128.5 1260.0V1271.6M1129.4 1252.7V1272.2M1130.3 1224.8V1261.2M1131.3 1207.3V1233.2M1134.0 1212.2V1235.3M1135.9 1212.2V1221.5M1137.7 1201.3V1219.6M1138.7 1201.2V1210.9M1139.6 1199.6V1212.6M1140.5 1198.8V1206.8M1142.4 1196.5V1215.5M1143.3 1188.6V1206.3M1144.2 1175.1V1206.7M1145.1 1175.2V1191.4M1147.0 1177.6V1190.8M1150.7 1193.1V1197.8M1151.6 1176.4V1201.2M1152.5 1172.8V1193.1M1153.4 1172.8V1182.7M1154.4 1172.8V1185.4M1156.2 1168.9V1188.9M1158.1 1172.3V1183.8M1159.0 1169.1V1181.3M1159.9 1170.3V1179.0M1162.7 1163.8V1184.3M1164.5 1159.6V1184.3M1165.5 1153.8V1170.0M1166.4 1145.0V1170.3M1167.3 1134.3V1162.9M1169.2 1097.6V1160.5M1170.1 1097.7V1124.5M1171.9 1101.3V1111.0M1172.9 1101.9V1114.4M1176.6 1129.1V1144.8M1177.5 1117.0V1142.7M1178.4 1109.7V1137.1M1180.3 1104.9V1131.4M1182.1 1119.6V1139.2M1183.0 1101.5V1127.0M1184.9 1102.8V1116.7M1185.8 1101.8V1109.3M1187.6 1101.4V1118.5M1190.4 1106.0V1134.4M1193.2 1116.3V1135.8M1195.0 1109.4V1130.1M1196.0 1099.9V1115.6M1196.9 1085.5V1104.0M1197.8 1088.7V1108.4M1198.7 1086.0V1122.8M1199.7 1080.6V1102.0M1201.5 1076.3V1104.0M1202.4 1057.2V1086.3M1203.4 1048.6V1078.9M1206.1 1098.0V1130.3M1207.1 1104.0V1124.2M1208.9 1112.9V1131.8M1209.8 1111.7V1126.6M1213.5 1133.2V1159.4M1216.3 1134.2V1159.7M1217.2 1117.5V1152.5M1218.2 1117.9V1135.9M1219.1 1111.6V1134.9M1220.9 1102.1V1117.0M1222.8 1107.6V1123.5M1225.5 1092.8V1127.0M1227.4 1087.8V1120.3M1229.2 1079.2V1113.3M1230.2 1058.2V1092.4M1231.1 1062.1V1076.0M1232.0 1039.6V1074.9M1234.8 1008.2V1056.0M1236.6 1000.8V1037.2M1239.4 1004.1V1031.0M1240.3 1000.9V1022.9M1242.2 1008.1V1027.5M1244.0 1027.1V1028.4M1245.0 991.2V1028.4M1245.9 1001.6V1016.6M1246.8 977.1V1019.9M1247.7 938.6V1013.3M1248.7 888.2V957.3M1249.6 881.2V926.3M1250.5 858.0V898.9M1252.3 863.8V911.9M1253.3 827.8V893.4M1254.2 825.1V864.5M1256.0 818.7V842.8M1257.0 790.8V848.4M1258.8 770.1V819.0M1259.7 760.1V802.8M1260.7 757.4V787.8M1268.1 853.7V891.2M1269.0 834.2V868.3M1269.9 803.8V861.4M1270.8 807.5V841.3M1271.8 785.2V829.3M1272.7 780.8V799.9M1275.5 778.4V806.4M1276.4 779.2V799.3M1278.2 787.6V814.7M1282.9 816.3V862.3M1283.8 786.5V856.7M1284.7 771.6V812.7M1285.6 771.6V786.0M1293.9 874.9V911.8M1296.7 870.9V916.9M1297.6 838.2V884.9M1298.6 839.6V857.0M1300.4 839.0V870.7M1303.2 875.5V896.8M1304.1 865.9V894.2M1307.8 885.1V934.3M1308.7 863.1V906.8M1309.7 863.1V875.2M1311.5 874.4V886.9M1313.4 867.6V908.7M1316.1 872.5V916.9M1318.0 857.9V899.2M1319.8 876.7V882.6M1320.7 851.9V878.5M1321.7 825.8V865.2M1322.6 796.3V842.6M1323.5 790.8V837.8M1324.4 781.1V803.9M1326.3 788.9V819.5M1327.2 784.4V807.8M1330.0 796.3V829.6M1330.9 796.3V810.6M1333.7 799.6V839.5M1335.5 798.3V828.0M1336.5 800.6V824.9M1338.3 779.1V827.9M1340.2 778.8V806.2M1343.9 794.8V835.0M1346.6 841.8V859.8M1347.6 834.7V862.5M1350.3 835.3V865.4M1351.2 834.7V854.2M1354.9 851.2V885.7M1357.7 872.3V913.1M1360.5 893.3V915.0M1362.3 883.5V923.1M1363.3 875.6V887.5M1368.8 964.5V981.5M1369.7 958.9V977.3M1370.7 941.5V975.8M1371.6 928.4V966.6M1372.5 926.1V948.0M1373.4 904.7V940.6M1374.4 904.1V919.7M1375.3 890.1V918.2M1376.2 851.9V903.5M1378.1 842.7V883.4M1379.0 834.8V861.4M1379.9 825.3V852.4M1381.8 824.2V850.3M1382.7 820.4V842.8M1385.4 833.2V850.1M1387.3 803.1V846.9M1391.0 829.1V861.8M1396.5 959.6V996.2M1397.5 950.4V980.0M1398.4 892.3V967.8M1400.2 891.3V917.1M1403.0 897.5V923.6M1407.6 924.1V945.0M1408.6 914.8V934.0M1410.4 902.3V936.9M1411.3 888.5V913.0M1412.3 885.3V908.1M1413.2 872.8V910.8M1414.1 876.8V909.7M1416.0 890.7V927.1M1418.7 926.6V942.2M1419.6 908.8V942.5M1422.4 924.7V964.2M1427.0 979.3V998.9M1428.0 950.6V992.8M1428.9 925.1V980.2M1430.7 937.4V965.9M1431.7 912.5V946.0M1434.4 903.6V930.3M1435.4 871.4V924.6M1436.3 886.1V907.5M1438.1 877.6V896.1M1439.1 864.1V896.6M1440.9 849.0V876.6M1441.8 844.6V877.3M1442.8 845.9V877.1M1444.6 843.1V863.7M1445.5 843.1V853.8M1449.2 887.1V916.9M1450.2 885.1V916.9M1452.0 873.8V908.3M1452.9 875.0V905.8M1453.8 867.4V893.5M1457.5 867.8V917.9M1459.4 870.0V900.8M1460.3 840.6V880.3M1461.2 828.5V869.6M1463.1 816.3V845.5M1464.9 811.9V841.8M1468.6 828.3V852.6M1469.6 814.4V845.9M1470.5 815.6V837.5M1471.4 794.6V831.1M1472.3 781.1V826.9M1473.3 779.8V814.2M1479.7 805.0V836.9M1480.7 772.9V835.9M1481.6 738.7V819.8M1482.5 705.9V776.1M1483.4 703.9V729.2M1484.3 648.2V739.4M1485.3 615.6V664.4M1486.2 606.2V625.2M1487.1 563.3V626.9M1489.0 544.6V591.6M1491.7 522.4V581.9M1493.6 480.5V554.5M1494.5 478.9V497.8M1495.4 478.5V498.3M1497.3 464.0V510.1M1500.1 499.8V542.3M1501.0 490.6V521.2M1502.8 480.2V545.5M1505.6 482.1V520.2M1507.5 442.7V528.4M1508.4 433.7V495.1M1509.3 431.6V454.5M1512.1 486.9V504.1M1513.0 444.2V501.4M1513.9 431.2V477.5M1514.9 417.8V459.6M1515.8 409.3V450.3M1516.7 393.2V436.1M1517.6 368.6V431.7M1518.5 360.0V415.0M1522.2 469.5V533.8M1525.0 466.9V532.0M1525.9 465.9V483.8M1531.5 529.0V548.4M1532.4 470.6V546.2M1533.3 477.0V518.1M1535.2 435.9V482.6M1536.1 444.4V502.7M1537.0 434.5V474.3M1538.0 431.9V484.0M1543.5 482.6V551.4M1544.4 487.9V504.2M1545.4 432.9V517.4M1546.3 428.4V481.5M1547.2 411.1V472.3M1548.1 396.6V462.1M1550.0 358.8V439.0M1550.9 348.6V399.3M1555.5 396.4V426.5M1558.3 402.0V465.3M1559.2 387.3V459.5M1560.1 380.2V435.1M1564.8 435.4V504.2M1567.5 461.4V518.5M1571.2 478.9V522.6M1573.1 478.0V516.9M1576.8 474.6V511.2M1579.6 468.7V510.5M1580.5 463.7V502.5M1582.3 498.8V538.4M1586.0 598.6V700.0M1586.9 555.0V634.5M1587.9 508.8V589.5M1592.5 637.0V692.0M1593.4 587.9V673.0M1596.2 652.4V696.2M1597.1 643.8V682.4M1598.0 634.3V668.3M1601.7 637.5V670.9M1603.6 598.0V660.0M1604.5 597.4V620.6M1608.2 597.7V645.1M1609.1 591.9V644.3M1615.6 642.8V668.4M1616.5 599.0V666.4M1623.0 687.6V742.9M1623.9 668.4V720.5M1624.8 636.9V723.7M1625.8 629.3V667.0M1626.7 618.9V661.5M1627.6 617.4V628.8M1628.5 611.6V632.8M1630.4 620.4V645.5M1631.3 621.6V639.4M1633.2 616.5V637.1M1635.0 565.5V636.4M1635.9 516.2V593.3M1636.9 519.2V557.1M1637.8 509.3V542.4M1639.6 503.1V538.5M1643.3 501.3V528.2M1644.3 487.6V527.8M1645.2 479.6V510.0M1647.0 456.3V509.4M1648.9 486.0V518.3M1649.8 458.5V514.5M1650.7 400.0V489.3M1652.6 390.2V452.8M1655.3 395.6V440.8M1656.3 390.2V411.2M1659.0 407.7V419.8M1660.0 385.8V419.8M1661.8 325.0V415.5M1662.7 317.0V360.7M1664.6 340.5V377.9M1665.5 320.2V362.8M1666.4 320.2V374.8M1669.2 350.6V385.8M1671.1 371.9V408.8M1672.9 375.6V432.4M1676.6 400.5V433.2M1677.5 365.5V438.3M1679.4 342.8V442.2M1681.2 336.7V390.2M1685.8 364.5V417.8M1691.4 417.3V449.9M1693.2 369.9V464.0M1694.2 363.1V397.0M1695.1 351.6V378.7M1696.9 335.9V390.2M1698.8 335.9V385.5M1700.6 365.4V384.1M1701.6 347.5V388.9M1703.4 337.2V374.3M1705.3 367.3V371.2M1706.2 296.6V371.2M1708.0 267.4V332.3M1709.0 209.1V303.3M1710.8 209.4V278.0M1711.7 187.1V228.7M1715.4 190.2V269.5M1718.2 230.7V258.3M1720.0 226.5V280.9M1721.9 285.0V289.8M1722.8 231.8V289.8M1723.7 223.2V287.8M1724.7 221.3V262.4M1731.1 259.1V316.3M1732.1 255.1V310.0M1733.9 246.1V301.4M1735.8 207.9V274.6M1737.6 182.0V258.4M1738.5 182.2V247.5M1740.4 171.4V238.8M1748.7 250.2V311.6M1751.5 308.0V349.6M1753.3 307.4V364.0M1757.0 337.6V368.0M1758.9 295.9V369.8M1760.7 294.3V331.7M1762.6 314.7V329.7M1763.5 284.8V327.1M1766.3 262.0V317.1M1768.1 262.1V322.1M1769.0 240.7V286.6M1770.9 246.0V288.3M1771.8 240.1V282.9M1772.7 239.8V279.7M1775.5 244.5V294.6M1777.4 247.9V329.0M1778.3 282.1V355.2M1782.0 295.3V353.7M1783.8 297.3V348.9M1784.7 212.8V309.3M1785.7 193.8V303.6M1787.5 157.2V271.5M1789.4 151.4V231.9M1791.2 193.4V239.6M1794.0 275.2V317.4M1794.9 278.3V313.6M1795.8 223.3V345.8M1800.5 383.2V400.8M1801.4 362.7V395.3M1803.2 288.9V400.0M1805.1 321.7V367.1M1806.0 316.4V353.4M1806.9 288.2V345.6M1807.9 273.6V320.4M1808.8 267.4V286.1M1813.4 344.0V392.5M1814.3 326.1V382.5M1818.0 449.8V462.1M1818.9 446.2V457.3M1820.8 369.1V477.7M1828.2 510.2V537.6M1832.8 600.5V657.5M1833.7 601.7V626.3M1834.7 584.4V643.9M1835.6 565.6V605.9M1837.4 534.2V585.2M1838.4 540.6V581.5M1842.1 535.7V620.1M1843.0 537.9V576.6M1843.9 522.5V549.9M1846.7 532.8V584.1M1847.6 514.5V546.7M1850.4 530.7V566.7M1853.1 573.0V626.1M1857.8 597.1V627.9M1858.7 578.1V613.5M1860.5 563.0V614.5M1864.2 570.1V608.1M1865.2 586.1V602.8M1867.0 570.1V605.5M1867.9 565.6V599.3M1869.8 565.0V606.6M1871.6 523.7V592.1M1873.5 518.1V570.4M1874.4 520.3V542.7M1877.2 536.4V583.7M1879.0 539.0V571.3M1879.9 493.3V555.4M1880.9 489.5V522.2M1882.7 484.4V546.9M1885.5 489.0V542.1M1888.3 571.1V583.5M1889.2 555.0V584.4M1892.9 565.9V649.7M1894.7 561.6V613.7M1899.4 705.1V767.2M1903.1 775.1V918.6M1904.0 742.8V817.7M1909.5 794.8V858.4M1910.5 801.0V829.5M1911.4 792.0V822.9" stroke="#089981" stroke-opacity="0.62" stroke-width="1" fill="none"/>
<path d="M19.3 1504.2V1511.1M21.2 1500.2V1505.0M22.1 1501.6V1510.3M24.0 1506.6V1511.0M25.8 1504.2V1509.7M27.7 1500.2V1508.3M30.4 1502.5V1514.1M34.1 1499.3V1507.5M40.6 1478.2V1487.0M41.5 1478.2V1483.7M44.3 1476.8V1481.3M45.2 1479.1V1481.9M46.1 1478.4V1482.3M48.9 1475.4V1480.1M49.8 1475.7V1486.7M51.7 1475.4V1483.8M54.5 1470.4V1483.6M56.3 1473.3V1481.3M57.2 1465.6V1480.0M60.0 1468.6V1481.2M60.9 1470.6V1479.1M62.8 1466.8V1485.3M64.6 1473.0V1489.3M65.5 1480.7V1487.9M68.3 1475.4V1480.8M69.2 1476.5V1480.4M70.2 1475.4V1481.7M71.1 1479.7V1482.5M72.0 1476.1V1485.7M72.9 1480.1V1487.7M73.9 1484.2V1496.1M75.7 1490.3V1497.5M78.5 1488.9V1501.8M82.2 1482.8V1494.0M83.1 1485.0V1491.8M85.0 1477.6V1485.9M85.9 1480.1V1486.7M86.8 1485.7V1492.4M87.7 1486.3V1493.6M90.5 1482.3V1498.4M92.4 1489.4V1502.0M95.1 1487.6V1491.1M97.9 1482.6V1491.3M99.7 1487.2V1491.1M101.6 1486.6V1488.5M102.5 1487.0V1495.9M103.4 1490.6V1498.1M105.3 1486.7V1488.1M107.1 1479.5V1486.0M109.0 1478.3V1480.7M109.9 1478.7V1487.3M112.7 1477.2V1482.0M115.5 1471.6V1478.0M118.2 1459.7V1462.8M119.2 1460.5V1462.6M120.1 1458.2V1462.7M121.9 1457.7V1463.2M124.7 1452.6V1460.4M125.6 1454.8V1460.9M129.3 1444.3V1450.0M132.1 1429.3V1439.5M133.0 1432.0V1441.7M136.7 1425.0V1438.5M138.6 1425.0V1440.9M146.9 1388.4V1407.1M148.7 1387.2V1396.3M149.7 1386.8V1401.3M150.6 1395.5V1416.1M151.5 1403.5V1420.6M154.3 1387.5V1407.4M156.1 1381.8V1389.9M158.0 1383.6V1391.6M158.9 1387.6V1404.1M159.8 1389.6V1395.6M160.8 1390.5V1406.1M161.7 1390.5V1404.8M163.5 1399.6V1416.5M167.2 1383.4V1401.7M168.1 1379.4V1395.2M173.7 1330.9V1357.2M179.2 1306.3V1313.8M182.0 1277.5V1298.8M189.4 1144.5V1180.8M191.3 1127.3V1186.0M192.2 1153.3V1204.7M193.1 1189.1V1258.7M196.8 1149.2V1191.6M197.7 1182.4V1218.0M200.5 1185.4V1231.0M201.4 1202.8V1231.4M202.3 1218.1V1269.3M206.0 1201.1V1236.7M207.0 1228.3V1268.4M210.7 1170.9V1205.0M211.6 1179.7V1260.0M215.3 1169.5V1193.5M220.8 1045.4V1064.8M221.8 1047.3V1056.6M224.5 1029.4V1064.4M225.5 1053.2V1066.6M226.4 1051.4V1080.0M231.0 950.4V983.8M231.9 956.9V1024.1M232.8 1008.0V1055.4M234.7 1035.1V1059.3M235.6 1046.2V1086.3M236.5 1058.9V1110.9M239.3 1034.5V1069.3M241.2 1015.3V1066.8M249.5 903.0V923.8M250.4 911.0V938.3M251.3 932.4V962.3M252.3 948.7V988.4M256.9 930.0V951.6M257.8 941.9V1010.0M258.7 962.6V1015.0M260.6 997.1V1016.7M262.4 944.1V967.1M267.0 914.5V971.4M268.9 934.6V967.1M269.8 953.1V974.1M280.0 864.4V899.9M281.8 868.3V951.0M283.7 936.4V994.2M284.6 953.3V1034.6M285.5 995.0V1029.6M286.5 997.3V1051.2M287.4 1029.8V1051.7M288.3 1042.9V1065.7M291.1 978.5V1035.2M296.6 925.9V1005.6M298.5 957.9V1002.6M301.2 921.0V954.0M303.1 922.3V985.5M304.0 955.7V987.6M304.9 974.8V1052.7M305.9 1021.1V1055.0M306.8 1048.3V1086.8M308.6 1078.5V1137.4M309.6 1098.7V1125.3M310.5 1107.3V1186.7M311.4 1155.5V1262.9M312.3 1214.5V1247.5M314.2 1231.8V1254.7M317.9 1141.2V1185.4M318.8 1160.9V1190.9M319.7 1182.2V1224.5M321.6 1212.9V1226.8M323.4 1186.9V1209.7M326.2 1154.8V1192.6M327.1 1178.0V1184.2M328.0 1166.1V1230.3M329.0 1201.3V1251.4M332.7 1192.1V1213.6M337.3 1136.8V1178.2M338.2 1157.9V1215.8M339.1 1197.9V1216.6M340.1 1203.5V1250.7M341.0 1222.8V1260.4M341.9 1244.2V1280.0M342.8 1249.6V1262.6M343.8 1253.2V1264.1M345.6 1242.9V1262.1M350.2 1187.6V1234.1M351.2 1208.9V1238.1M355.8 1193.1V1228.1M357.6 1220.9V1241.2M359.5 1226.6V1242.2M360.4 1232.5V1242.6M361.3 1235.1V1243.8M363.2 1217.5V1251.3M364.1 1234.3V1252.7M365.9 1235.4V1270.5M366.9 1249.3V1266.9M369.6 1242.7V1260.9M376.1 1136.9V1173.3M379.8 1110.1V1146.2M380.7 1138.5V1158.6M382.6 1135.6V1177.0M387.2 1070.1V1103.6M389.1 1063.8V1105.7M390.9 1081.3V1103.1M392.8 1066.5V1097.5M394.6 1068.6V1105.3M395.5 1096.5V1103.8M400.1 1032.6V1074.4M402.0 1042.0V1079.8M403.8 1071.3V1079.8M406.6 1033.3V1057.5M407.5 1038.9V1072.1M409.4 1034.5V1087.5M413.1 1008.9V1074.5M414.0 1043.0V1114.3M416.8 1063.5V1089.1M417.7 1082.8V1102.5M419.6 1065.9V1090.5M424.2 1050.9V1096.7M425.1 1063.8V1099.0M426.0 1082.0V1152.9M426.9 1104.7V1144.0M429.7 1087.2V1101.5M430.6 1094.0V1133.5M431.6 1128.2V1144.7M434.3 1088.0V1133.7M438.0 1036.3V1085.5M443.6 964.1V1007.6M445.4 947.1V983.8M449.1 866.7V901.8M451.0 863.2V908.0M453.8 851.1V903.3M454.7 867.1V927.7M455.6 893.0V945.3M459.3 877.7V944.8M462.1 881.5V932.1M463.9 873.7V930.8M467.6 848.3V912.1M470.4 825.3V867.1M472.2 815.5V884.0M474.1 825.2V905.6M475.0 856.7V904.4M476.9 843.1V906.3M477.8 865.2V921.6M478.7 886.2V931.1M479.6 902.1V949.3M480.6 930.9V965.2M482.4 940.7V967.6M484.3 915.5V964.3M485.2 934.0V984.1M487.0 924.7V990.4M488.0 961.2V994.1M491.7 929.2V966.7M492.6 937.2V962.9M493.5 947.0V1004.1M494.4 980.6V1017.8M495.3 1013.1V1122.9M498.1 1008.9V1037.1M499.0 1016.9V1063.4M500.0 1030.5V1054.6M500.9 1041.0V1084.8M505.5 1043.3V1083.7M507.4 1063.6V1081.5M508.3 1052.6V1083.5M509.2 1075.5V1087.7M512.9 1011.9V1041.7M516.6 1012.9V1046.7M517.5 1024.3V1081.1M519.4 1057.4V1079.6M521.2 1056.2V1072.8M522.2 1059.7V1074.0M523.1 1052.0V1119.5M524.0 1093.6V1128.1M525.8 1088.2V1142.6M527.7 1128.8V1146.5M528.6 1131.9V1153.2M531.4 1098.5V1139.3M532.3 1101.5V1133.8M534.2 1111.2V1126.0M535.1 1115.0V1144.9M536.0 1126.9V1156.0M538.8 1130.5V1169.9M539.7 1147.7V1197.7M541.6 1175.6V1228.6M544.3 1169.5V1201.2M545.3 1179.2V1209.2M547.1 1168.4V1186.9M549.9 1152.4V1178.3M550.8 1164.9V1191.3M557.3 1082.4V1114.6M558.2 1093.5V1126.7M559.1 1089.3V1125.2M561.9 1092.0V1110.4M562.8 1095.1V1129.5M563.7 1106.1V1139.1M564.7 1111.5V1163.5M567.4 1144.1V1184.5M568.4 1157.6V1204.7M569.3 1183.5V1197.6M570.2 1180.6V1211.0M576.7 1086.5V1139.9M577.6 1107.1V1168.7M579.5 1149.1V1183.4M580.4 1166.2V1183.9M583.2 1119.5V1141.7M584.1 1119.3V1159.4M585.0 1140.4V1163.0M585.9 1154.0V1174.3M587.8 1148.2V1178.6M590.6 1137.3V1158.3M592.4 1127.5V1150.0M594.2 1110.0V1136.2M596.1 1109.7V1125.6M597.9 1080.0V1097.6M600.7 1056.2V1085.8M601.6 1053.1V1080.3M602.6 1058.4V1085.8M605.3 1061.1V1089.4M606.3 1076.8V1099.7M607.2 1082.2V1091.8M608.1 1069.5V1103.6M609.0 1092.3V1116.2M610.0 1088.0V1120.7M610.9 1086.8V1160.5M611.8 1122.8V1155.4M613.7 1148.7V1158.5M615.5 1144.0V1160.7M617.4 1137.0V1151.2M618.3 1135.1V1165.3M622.9 1118.2V1163.1M624.8 1130.4V1178.8M626.6 1154.1V1178.7M628.4 1138.8V1154.9M629.4 1141.7V1174.7M630.3 1155.6V1179.3M634.9 1148.0V1193.2M635.8 1172.2V1205.0M637.7 1184.1V1238.4M639.5 1197.8V1253.5M640.5 1238.0V1267.2M641.4 1254.7V1317.0M642.3 1285.9V1293.8M645.1 1250.8V1279.1M646.0 1251.9V1275.2M646.9 1268.8V1278.7M649.7 1259.4V1273.7M650.6 1260.3V1274.7M651.6 1262.2V1277.0M652.5 1273.9V1282.1M653.4 1266.3V1282.3M658.0 1242.4V1272.1M660.8 1239.6V1258.8M661.7 1245.3V1271.3M664.5 1258.2V1270.4M666.3 1246.4V1265.1M668.2 1246.5V1269.0M669.1 1266.0V1300.1M670.0 1278.1V1290.7M671.0 1284.9V1322.6M671.9 1299.2V1341.8M672.8 1330.1V1361.6M673.7 1356.6V1382.9M674.7 1365.3V1391.5M675.6 1381.9V1408.0M676.5 1386.4V1394.7M679.3 1360.4V1367.0M681.1 1359.9V1368.6M682.1 1361.1V1368.8M683.0 1365.9V1377.3M684.8 1370.2V1388.0M685.8 1376.3V1395.4M686.7 1387.5V1395.6M690.4 1379.1V1387.7M693.1 1355.3V1372.0M695.0 1355.0V1377.7M696.8 1362.7V1386.9M697.8 1380.9V1390.8M700.5 1369.0V1384.6M705.2 1333.4V1344.6M706.1 1332.9V1347.3M707.0 1340.9V1356.3M707.9 1350.4V1357.4M709.8 1354.2V1368.4M715.3 1332.3V1340.3M717.2 1331.9V1341.4M718.1 1331.2V1350.8M720.9 1341.2V1349.2M721.8 1341.5V1348.9M722.7 1346.8V1351.3M725.5 1324.4V1341.2M728.3 1322.0V1334.4M730.1 1323.0V1333.2M731.0 1328.4V1335.0M732.0 1328.9V1348.8M732.9 1343.7V1356.9M733.8 1348.2V1368.4M734.7 1364.5V1371.0M737.5 1360.4V1375.1M739.4 1361.7V1382.0M742.1 1366.7V1384.1M743.1 1379.2V1387.0M745.8 1380.5V1385.3M747.7 1380.6V1386.6M748.6 1382.1V1393.7M749.5 1389.5V1395.9M750.5 1390.7V1393.4M756.0 1350.5V1359.4M756.9 1352.5V1364.9M757.8 1356.4V1383.2M758.8 1376.2V1383.5M759.7 1374.6V1391.8M760.6 1386.6V1393.8M761.5 1385.9V1397.0M762.5 1391.4V1401.2M764.3 1391.4V1399.8M767.1 1381.3V1392.7M768.0 1378.1V1393.2M769.9 1379.6V1385.4M772.6 1377.7V1389.6M776.3 1376.0V1384.0M778.2 1374.9V1385.3M780.0 1376.1V1383.8M781.0 1376.6V1397.6M783.7 1386.0V1398.6M787.4 1383.5V1387.1M788.4 1384.3V1393.3M790.2 1382.3V1390.7M791.1 1381.0V1392.0M792.0 1389.8V1393.7M794.8 1373.7V1392.7M797.6 1369.2V1375.4M799.4 1369.3V1378.8M802.2 1367.6V1376.3M805.9 1363.8V1377.5M806.8 1370.6V1384.4M807.8 1379.2V1398.8M808.7 1390.0V1418.6M809.6 1415.6V1419.5M811.5 1412.0V1424.8M814.2 1415.3V1420.8M815.2 1416.4V1426.1M817.0 1422.2V1431.3M817.9 1425.3V1431.1M819.8 1424.7V1430.4M821.6 1420.1V1429.4M826.2 1418.0V1424.9M831.8 1410.8V1419.5M833.6 1412.5V1416.7M837.3 1406.2V1416.1M841.0 1403.6V1411.1M842.0 1408.1V1417.6M842.9 1407.9V1421.4M843.8 1411.5V1418.4M844.7 1411.8V1420.8M846.6 1416.9V1421.9M847.5 1420.3V1422.7M851.2 1412.8V1427.1M854.0 1414.6V1423.3M854.9 1413.7V1426.3M857.7 1412.4V1427.5M861.4 1416.0V1426.1M865.1 1409.8V1415.9M871.5 1362.2V1372.8M872.5 1366.6V1375.2M878.9 1339.4V1349.1M880.8 1341.2V1349.1M882.6 1335.8V1348.4M883.6 1343.7V1348.3M886.3 1333.2V1346.1M889.1 1332.9V1348.4M890.0 1340.0V1350.2M890.9 1340.2V1351.2M891.9 1341.0V1355.3M893.7 1341.9V1355.7M895.6 1346.9V1362.1M896.5 1355.3V1361.8M897.4 1357.5V1363.7M899.3 1346.9V1351.3M903.0 1322.1V1328.9M904.8 1322.9V1338.1M905.7 1322.8V1341.6M906.7 1331.4V1347.0M907.6 1333.8V1346.0M909.4 1341.0V1346.5M913.1 1334.8V1351.2M914.1 1345.1V1355.8M915.0 1351.5V1359.7M916.8 1356.7V1367.5M918.7 1355.3V1366.8M919.6 1360.0V1381.1M920.5 1376.3V1382.4M930.7 1280.6V1298.6M931.6 1279.4V1295.8M933.5 1277.3V1292.4M934.4 1276.2V1290.2M935.3 1279.0V1301.1M936.2 1289.4V1299.9M937.2 1289.6V1303.2M939.9 1278.7V1297.8M941.8 1282.0V1293.2M942.7 1281.6V1292.5M944.6 1283.0V1291.7M946.4 1283.3V1292.0M947.3 1286.5V1294.4M953.8 1254.7V1267.1M955.6 1255.1V1279.5M957.5 1260.3V1281.5M958.4 1262.7V1289.8M959.3 1274.0V1298.9M961.2 1273.8V1291.0M962.1 1273.7V1296.7M964.9 1267.2V1270.5M965.8 1266.6V1284.8M966.7 1272.4V1287.3M968.6 1275.6V1289.2M969.5 1283.5V1290.5M972.3 1268.3V1281.9M976.0 1268.6V1296.8M976.9 1286.6V1305.8M978.8 1294.9V1308.2M980.6 1295.7V1305.7M981.5 1296.4V1306.9M983.4 1294.1V1307.7M986.2 1294.8V1301.8M987.1 1296.1V1305.9M988.9 1288.6V1312.6M991.7 1296.6V1308.1M994.5 1282.7V1298.7M996.3 1289.4V1305.0M998.2 1297.4V1304.1M999.1 1302.7V1306.0M1001.9 1294.8V1302.8M1002.8 1295.9V1304.7M1004.6 1295.5V1314.5M1006.5 1309.3V1321.0M1008.3 1320.0V1323.0M1010.2 1305.1V1322.9M1016.7 1249.3V1270.2M1018.5 1248.5V1255.6M1019.4 1249.8V1263.8M1021.3 1255.8V1266.4M1024.0 1252.6V1266.4M1025.9 1251.6V1265.8M1028.7 1247.8V1266.1M1029.6 1251.7V1266.4M1031.4 1249.5V1264.8M1032.4 1247.6V1266.4M1034.2 1246.7V1258.2M1036.1 1246.4V1266.5M1037.9 1246.4V1265.6M1039.8 1255.1V1266.4M1041.6 1260.6V1267.8M1042.5 1260.0V1270.6M1044.4 1260.0V1275.5M1046.2 1262.3V1277.1M1049.0 1269.4V1279.1M1051.8 1268.6V1277.8M1054.5 1268.5V1273.4M1056.4 1267.1V1274.7M1060.1 1264.6V1274.3M1061.9 1266.1V1274.2M1062.9 1265.8V1276.9M1063.8 1275.1V1285.8M1065.6 1270.9V1283.5M1066.6 1273.2V1296.4M1068.4 1273.6V1307.2M1069.3 1287.3V1314.4M1071.2 1295.8V1316.7M1074.0 1305.6V1315.3M1076.7 1303.7V1313.6M1080.4 1290.3V1311.6M1082.3 1301.1V1315.5M1084.1 1309.2V1319.0M1086.0 1310.1V1319.4M1088.7 1311.1V1320.2M1090.6 1304.6V1320.6M1093.4 1310.0V1320.2M1095.2 1297.3V1306.5M1096.1 1300.2V1316.2M1098.9 1294.0V1305.6M1099.8 1297.8V1306.3M1103.5 1300.9V1309.3M1104.5 1301.3V1310.2M1107.2 1290.6V1307.9M1111.9 1283.9V1288.7M1112.8 1284.4V1299.1M1114.6 1286.6V1295.2M1116.5 1288.0V1299.0M1118.3 1287.4V1301.5M1119.3 1286.1V1305.1M1120.2 1297.2V1306.0M1123.9 1275.0V1297.5M1126.6 1271.4V1287.3M1132.2 1206.5V1223.6M1133.1 1209.0V1233.1M1135.0 1208.6V1223.9M1136.8 1208.5V1226.4M1141.4 1196.8V1218.3M1146.1 1175.0V1191.8M1147.9 1175.7V1199.0M1148.8 1184.6V1196.2M1149.8 1188.4V1197.3M1155.3 1172.9V1188.2M1157.1 1173.9V1189.3M1160.8 1169.7V1181.1M1161.8 1171.7V1184.4M1163.6 1165.0V1182.6M1168.2 1140.7V1164.7M1171.0 1098.5V1111.1M1173.8 1096.6V1129.8M1174.7 1112.0V1133.7M1175.6 1118.3V1144.7M1179.3 1109.3V1129.3M1181.2 1105.9V1137.6M1184.0 1103.2V1124.1M1186.7 1097.6V1112.6M1188.6 1102.2V1112.8M1189.5 1103.6V1132.2M1191.3 1110.0V1130.6M1192.3 1122.6V1136.3M1194.1 1112.9V1128.4M1200.6 1079.8V1117.8M1204.3 1053.6V1119.7M1205.2 1106.2V1123.8M1208.0 1107.8V1130.7M1210.8 1107.5V1127.3M1211.7 1114.2V1134.9M1212.6 1131.2V1160.0M1214.5 1128.4V1160.0M1215.4 1137.7V1161.0M1220.0 1108.7V1120.1M1221.8 1102.1V1122.8M1223.7 1105.4V1121.7M1224.6 1109.0V1127.8M1226.5 1097.2V1127.7M1228.3 1100.2V1121.4M1232.9 1042.9V1063.8M1233.9 1044.0V1061.4M1235.7 1011.3V1040.6M1237.6 1003.7V1023.7M1238.5 1011.5V1024.0M1241.3 1003.3V1022.8M1243.1 1005.2V1028.4M1251.4 866.2V905.7M1255.1 812.3V840.4M1257.9 799.9V849.0M1261.6 757.4V776.4M1262.5 763.6V791.7M1263.4 767.9V805.2M1264.4 764.1V846.8M1265.3 811.0V854.6M1266.2 830.3V888.1M1267.1 871.7V897.1M1273.6 785.0V821.0M1274.5 799.1V807.6M1277.3 783.3V813.2M1279.2 789.2V827.0M1280.1 787.1V818.7M1281.0 784.5V859.5M1281.9 839.2V860.7M1286.5 771.6V805.4M1287.5 781.4V791.2M1288.4 786.1V824.1M1289.3 796.7V831.1M1290.2 816.1V862.5M1291.2 842.1V882.5M1292.1 860.0V906.0M1293.0 882.6V913.6M1294.9 883.0V915.8M1295.8 896.1V916.9M1299.5 840.0V866.6M1301.3 838.6V889.5M1302.3 862.7V904.6M1305.0 866.4V914.2M1306.0 892.2V926.4M1306.9 909.0V954.3M1310.6 863.1V902.7M1312.4 869.7V916.0M1314.3 877.7V911.5M1315.2 889.7V916.9M1317.1 845.7V892.1M1318.9 861.6V897.7M1325.4 780.2V821.5M1328.1 780.6V822.7M1329.1 801.8V836.4M1331.8 794.5V835.4M1332.8 829.8V839.8M1334.6 815.2V836.9M1337.4 791.9V821.8M1339.2 781.9V818.0M1341.1 780.4V813.7M1342.0 780.4V828.3M1342.9 785.8V829.0M1344.8 807.1V851.5M1345.7 833.1V857.4M1348.5 837.1V859.3M1349.4 851.5V861.5M1352.2 834.6V848.7M1353.1 836.8V877.8M1354.0 860.6V886.6M1355.9 854.0V879.3M1356.8 868.8V901.2M1358.6 877.7V902.5M1359.6 891.6V916.9M1361.4 894.8V912.3M1364.2 880.7V912.0M1365.1 886.4V914.3M1366.0 899.6V939.4M1367.0 927.5V988.6M1367.9 966.3V975.9M1377.1 842.7V882.0M1380.8 826.5V856.9M1383.6 814.9V848.6M1384.5 814.1V843.1M1386.4 830.9V847.8M1388.2 803.1V832.7M1389.1 818.2V853.3M1390.1 827.2V864.7M1391.9 835.3V868.1M1392.8 849.4V906.9M1393.8 879.3V923.5M1394.7 914.1V1037.0M1395.6 959.3V1000.4M1399.3 896.2V921.4M1401.2 891.5V913.7M1402.1 886.7V919.4M1403.9 908.9V935.8M1404.9 913.4V945.6M1405.8 915.4V945.6M1406.7 928.5V948.8M1409.5 918.8V958.7M1415.0 869.5V911.5M1416.9 904.7V923.2M1417.8 909.3V942.5M1420.6 920.2V943.1M1421.5 926.5V957.4M1423.3 938.2V963.4M1424.3 937.7V967.6M1425.2 956.9V986.8M1426.1 963.0V1000.0M1429.8 926.5V959.2M1432.6 915.3V943.7M1433.5 914.6V932.0M1437.2 883.0V909.6M1440.0 871.5V896.7M1443.7 844.8V866.9M1446.5 843.7V868.6M1447.4 854.4V894.6M1448.3 876.9V914.3M1451.1 879.0V903.6M1454.8 864.6V900.9M1455.7 887.6V921.1M1456.6 897.0V921.5M1458.5 877.1V910.2M1462.2 819.0V875.3M1464.0 823.9V842.7M1465.9 813.3V847.6M1466.8 815.8V842.3M1467.7 813.5V848.4M1474.2 768.4V794.7M1475.1 772.6V826.0M1476.0 771.8V816.9M1477.0 803.1V829.1M1477.9 802.8V827.6M1478.8 813.8V836.9M1488.0 557.7V595.5M1489.9 545.9V597.4M1490.8 569.1V582.8M1492.7 520.5V548.8M1496.4 465.0V504.8M1498.2 470.3V496.2M1499.1 474.5V551.4M1501.9 483.9V545.5M1503.8 480.2V501.0M1504.7 471.2V517.1M1506.5 493.7V528.4M1510.2 432.3V481.9M1511.2 452.5V505.5M1519.5 379.7V439.7M1520.4 382.5V452.9M1521.3 432.7V534.1M1523.2 472.2V526.1M1524.1 476.5V515.0M1526.9 466.9V500.4M1527.8 474.9V525.9M1528.7 499.1V534.4M1529.6 512.3V548.1M1530.6 524.3V548.4M1534.3 471.8V529.2M1538.9 430.4V458.0M1539.8 436.3V529.5M1540.7 502.3V540.6M1541.7 495.6V548.3M1542.6 538.5V571.4M1549.1 392.9V441.5M1551.8 352.0V385.7M1552.7 362.4V386.0M1553.7 361.6V397.4M1554.6 357.1V422.6M1556.4 389.9V463.0M1557.4 416.4V475.3M1561.1 380.4V444.0M1562.0 391.2V480.9M1562.9 454.0V488.7M1563.8 470.9V493.4M1565.7 438.0V487.7M1566.6 460.6V495.4M1568.5 467.5V491.0M1569.4 460.4V491.8M1570.3 474.9V522.6M1572.2 473.7V512.4M1574.0 471.9V498.1M1574.9 478.8V495.0M1575.9 483.7V518.6M1577.7 472.0V507.4M1578.6 490.8V511.2M1581.4 473.1V530.1M1583.2 506.2V571.7M1584.2 535.2V591.0M1585.1 548.9V670.6M1588.8 511.1V542.8M1589.7 533.1V608.7M1590.6 572.5V653.2M1591.6 594.5V695.0M1594.3 607.0V645.4M1595.3 624.7V720.0M1599.0 631.7V663.1M1599.9 637.0V665.7M1600.8 653.0V667.0M1602.7 632.9V673.4M1605.4 591.4V624.9M1606.4 590.0V635.6M1607.3 609.3V646.6M1610.1 596.7V619.8M1611.0 598.0V613.5M1611.9 601.6V626.5M1612.8 595.1V633.4M1613.8 619.6V655.6M1614.7 625.7V668.4M1617.4 597.2V635.3M1618.4 617.3V656.6M1619.3 612.2V663.2M1620.2 644.1V682.0M1621.1 667.5V745.7M1622.1 709.7V743.2M1629.5 610.9V643.3M1632.2 622.3V640.9M1634.1 609.9V631.5M1638.7 513.9V550.3M1640.6 496.6V517.5M1641.5 493.5V529.8M1642.4 479.6V532.5M1646.1 474.2V525.2M1648.0 490.1V525.0M1651.6 393.1V433.2M1653.5 390.2V438.2M1654.4 398.2V442.6M1657.2 374.7V427.2M1658.1 414.4V442.6M1660.9 381.8V407.2M1663.7 323.3V376.7M1667.4 330.2V346.6M1668.3 333.2V407.9M1670.1 332.3V406.5M1672.0 381.3V442.1M1673.8 383.7V416.2M1674.8 381.6V444.4M1675.7 405.6V445.7M1678.5 376.9V406.6M1680.3 338.7V393.2M1682.1 336.9V377.0M1683.1 360.4V402.4M1684.0 371.5V398.8M1684.9 358.9V404.1M1686.8 364.2V384.9M1687.7 368.0V399.3M1688.6 368.7V431.0M1689.5 362.8V459.0M1690.5 416.3V451.9M1692.3 388.2V471.4M1696.0 353.1V407.6M1697.9 336.9V376.2M1699.7 336.8V393.5M1702.5 337.8V372.0M1704.3 327.0V380.7M1707.1 274.0V338.4M1709.9 229.4V289.4M1712.7 190.2V257.3M1713.6 219.3V257.6M1714.5 217.7V271.5M1716.3 207.4V261.9M1717.3 220.4V267.1M1719.1 215.5V258.1M1721.0 218.3V286.7M1725.6 226.3V271.7M1726.5 221.9V257.8M1727.4 239.1V272.6M1728.4 231.8V306.9M1729.3 252.9V314.4M1730.2 298.9V317.7M1733.0 251.2V285.4M1734.8 220.4V273.2M1736.7 200.0V275.8M1739.5 183.7V237.6M1741.3 187.4V244.5M1742.2 208.6V253.0M1743.2 205.2V259.1M1744.1 198.6V297.1M1745.0 262.8V304.9M1745.9 253.0V298.6M1746.9 265.3V305.1M1747.8 284.6V322.1M1749.6 251.0V298.9M1750.5 265.5V341.2M1752.4 312.8V365.0M1754.2 307.4V356.3M1755.2 338.8V368.7M1756.1 341.1V364.9M1757.9 314.3V369.8M1759.8 297.0V328.7M1761.6 296.5V334.4M1764.4 281.2V314.3M1765.3 284.6V322.1M1767.2 259.3V329.9M1770.0 240.8V288.4M1773.7 244.5V277.7M1774.6 244.6V284.9M1776.4 248.0V319.7M1779.2 302.3V347.0M1780.1 290.3V341.1M1781.0 324.3V351.4M1782.9 255.7V344.6M1786.6 197.3V272.2M1788.4 156.1V223.8M1790.3 196.4V244.4M1792.1 196.2V254.9M1793.1 222.8V322.9M1796.8 248.5V332.6M1797.7 272.8V345.1M1798.6 315.8V345.4M1799.5 328.7V411.4M1802.3 360.6V398.5M1804.2 287.4V357.6M1809.7 270.6V312.1M1810.6 287.8V308.1M1811.6 278.4V344.0M1812.5 300.8V388.3M1815.2 324.5V402.3M1816.2 342.3V464.3M1817.1 416.0V457.6M1819.9 440.7V460.4M1821.7 376.2V409.8M1822.6 380.9V390.2M1823.6 372.3V459.9M1824.5 419.8V507.4M1825.4 443.7V521.1M1826.3 480.0V529.4M1827.3 510.6V546.9M1829.1 505.3V569.0M1830.0 518.6V570.2M1831.0 544.6V635.8M1831.9 568.4V680.0M1836.5 548.9V588.1M1839.3 539.1V578.2M1840.2 528.8V577.7M1841.1 556.1V641.4M1844.8 516.2V548.9M1845.8 525.4V614.9M1848.5 514.8V543.7M1849.4 521.2V591.9M1851.3 518.0V575.4M1852.2 547.9V620.9M1854.1 572.7V627.1M1855.0 594.3V623.1M1855.9 601.9V626.4M1856.8 604.0V627.4M1859.6 573.9V622.5M1861.5 561.8V600.9M1862.4 579.1V605.1M1863.3 588.4V609.4M1866.1 578.8V612.0M1868.9 546.5V604.3M1870.7 559.5V583.2M1872.6 535.6V577.0M1875.3 513.6V567.5M1876.3 545.4V584.1M1878.1 510.5V581.2M1881.8 484.3V543.3M1883.6 479.2V520.1M1884.6 485.0V548.6M1886.4 501.6V568.2M1887.3 545.4V591.5M1890.1 552.9V591.2M1891.0 560.7V612.3M1892.0 578.6V624.1M1893.8 562.8V617.8M1895.7 561.6V665.6M1896.6 615.6V655.3M1897.5 626.7V703.8M1898.4 675.8V766.6M1900.3 683.5V747.3M1901.2 728.6V777.9M1902.1 751.3V801.6M1904.9 761.6V815.4M1905.8 783.6V820.0M1906.8 787.3V824.7M1907.7 785.1V846.8M1908.6 829.2V858.6M1912.3 791.3V831.8" stroke="#f23645" stroke-opacity="0.62" stroke-width="1" fill="none"/>
<path d="M17.5 1507.1V1508.1M18.4 1505.7V1506.9M20.3 1504.5V1509.5M23.0 1507.7V1508.7M24.9 1506.6V1508.2M26.7 1505.0V1506.0M28.6 1506.1V1507.1M29.5 1503.6V1506.3M31.3 1508.1V1509.6M32.3 1503.4V1506.9M33.2 1500.7V1502.5M35.0 1504.9V1507.2M36.0 1500.1V1501.1M36.9 1500.1V1501.1M37.8 1490.6V1498.7M38.7 1484.4V1488.2M39.7 1481.8V1483.8M42.4 1483.3V1484.3M43.4 1477.6V1481.6M47.1 1480.1V1482.2M48.0 1477.0V1479.4M50.8 1478.1V1484.6M52.6 1478.9V1480.4M53.5 1474.7V1478.2M55.4 1474.6V1477.8M58.2 1474.1V1475.1M59.1 1473.2V1474.3M61.9 1474.4V1477.9M63.7 1477.8V1479.2M66.5 1479.5V1480.7M67.4 1476.0V1479.1M74.8 1495.0V1496.0M76.6 1491.7V1495.0M77.6 1490.2V1491.2M79.4 1496.4V1497.4M80.3 1490.9V1495.9M81.3 1487.9V1489.0M84.0 1480.5V1488.9M88.7 1490.7V1493.1M89.6 1486.5V1490.1M91.4 1493.2V1495.5M93.3 1493.1V1494.1M94.2 1489.1V1492.8M96.1 1489.5V1490.5M97.0 1488.1V1490.0M98.8 1487.1V1489.7M100.7 1487.2V1490.4M104.4 1488.4V1493.5M106.2 1483.2V1487.1M108.1 1479.8V1482.4M110.8 1477.9V1481.3M111.8 1477.4V1478.4M113.6 1476.7V1480.3M114.5 1474.2V1475.2M116.4 1474.1V1475.4M117.3 1461.6V1471.3M121.0 1458.4V1460.7M122.9 1459.5V1460.6M123.8 1458.2V1459.7M126.6 1458.1V1460.1M127.5 1456.2V1457.4M128.4 1449.1V1454.5M130.2 1441.9V1447.6M131.2 1434.1V1438.5M133.9 1440.1V1441.4M134.9 1436.4V1439.7M135.8 1427.9V1435.6M137.6 1429.6V1434.5M139.5 1424.7V1434.8M140.4 1421.8V1423.5M141.3 1418.8V1421.4M142.3 1414.8V1419.2M143.2 1409.9V1413.6M144.1 1405.8V1408.9M145.0 1401.9V1402.9M146.0 1394.4V1401.1M147.8 1392.0V1397.6M152.4 1400.2V1414.9M153.4 1390.3V1395.2M155.2 1383.7V1391.3M157.1 1385.6V1386.6M162.6 1402.5V1403.5M164.4 1400.9V1406.9M165.4 1394.0V1399.3M166.3 1392.5V1393.5M169.1 1376.6V1386.6M170.0 1358.4V1371.3M170.9 1343.5V1353.9M171.8 1339.4V1341.0M172.8 1336.8V1340.0M174.6 1353.6V1356.5M175.5 1347.0V1352.1M176.5 1337.7V1342.6M177.4 1335.5V1336.5M178.3 1313.6V1332.9M180.2 1298.6V1311.0M181.1 1285.2V1295.0M182.9 1277.7V1281.3M183.9 1261.3V1275.5M184.8 1253.3V1256.8M185.7 1235.9V1249.5M186.6 1225.7V1231.9M187.6 1187.1V1218.4M188.5 1165.8V1179.6M190.3 1131.5V1160.2M194.0 1217.6V1246.5M195.0 1188.5V1208.9M195.9 1151.3V1177.4M198.6 1198.5V1211.1M199.6 1191.3V1195.5M203.3 1245.7V1260.8M204.2 1232.4V1240.7M205.1 1205.0V1227.9M207.9 1252.7V1266.0M208.8 1210.2V1241.3M209.7 1176.2V1200.8M212.5 1227.3V1239.4M213.4 1205.2V1220.6M214.4 1178.0V1197.3M216.2 1171.2V1179.0M217.1 1154.6V1164.0M218.1 1138.6V1150.0M219.0 1083.1V1126.4M219.9 1049.5V1071.8M222.7 1051.8V1052.8M223.6 1041.4V1050.9M227.3 1043.0V1073.7M228.2 1007.2V1027.4M229.1 974.3V997.2M230.1 953.9V966.1M233.8 1037.4V1044.1M237.5 1101.1V1109.3M238.4 1042.9V1086.1M240.2 1032.5V1047.6M242.1 1064.8V1065.8M243.0 1045.7V1064.3M243.9 1029.7V1039.5M244.9 986.4V1017.8M245.8 978.5V980.3M246.7 950.3V976.2M247.6 938.8V942.5M248.6 910.5V933.2M253.2 976.9V984.1M254.1 966.9V975.1M255.0 940.5V957.7M256.0 928.2V938.6M259.7 1012.3V1016.0M261.5 963.4V1009.4M263.3 958.7V959.7M264.3 944.0V956.7M265.2 917.8V935.0M266.1 906.3V916.4M268.0 944.9V958.0M270.7 973.7V974.7M271.7 958.7V971.6M272.6 949.7V954.8M273.5 940.9V945.3M274.4 933.0V943.4M275.4 914.0V928.3M276.3 901.4V909.6M277.2 895.3V901.7M278.1 888.1V892.3M279.1 871.8V884.7M280.9 884.5V887.6M282.8 939.6V940.6M289.2 1021.0V1052.2M290.2 987.3V1009.5M292.0 1005.7V1016.9M292.9 999.1V1003.2M293.9 975.3V992.2M294.8 946.6V966.5M295.7 928.0V938.6M297.5 964.2V968.4M299.4 984.3V999.7M300.3 951.8V971.9M302.2 924.1V944.1M307.7 1081.1V1083.9M313.3 1239.7V1246.5M315.1 1225.6V1250.5M316.0 1190.5V1216.9M317.0 1147.5V1180.1M320.7 1213.6V1216.1M322.5 1198.1V1220.6M324.4 1179.7V1191.4M325.3 1165.4V1176.6M329.9 1232.1V1242.2M330.8 1221.4V1226.0M331.7 1203.3V1218.0M333.6 1182.8V1201.2M334.5 1161.8V1177.0M335.4 1144.1V1159.3M336.4 1136.2V1140.2M344.7 1248.7V1259.9M346.5 1227.1V1245.4M347.5 1220.8V1223.2M348.4 1206.7V1217.4M349.3 1189.4V1200.4M352.1 1230.2V1236.3M353.0 1215.2V1225.9M353.9 1199.3V1208.2M354.9 1193.4V1195.3M356.7 1223.2V1225.3M358.6 1233.4V1239.6M362.2 1227.0V1238.9M365.0 1245.7V1251.1M367.8 1260.5V1263.5M368.7 1248.1V1257.3M370.6 1241.2V1249.5M371.5 1221.4V1236.7M372.4 1207.8V1218.5M373.3 1179.8V1201.3M374.3 1172.0V1175.9M375.2 1144.8V1166.3M377.0 1139.0V1166.8M378.0 1130.0V1133.0M378.9 1120.6V1127.5M381.7 1147.2V1152.5M383.5 1159.7V1169.9M384.4 1132.7V1153.0M385.4 1118.2V1130.8M386.3 1098.3V1113.3M388.1 1081.4V1089.7M390.0 1088.5V1101.3M391.8 1076.0V1091.7M393.7 1083.3V1091.5M396.4 1104.2V1105.2M397.4 1073.3V1100.2M398.3 1051.3V1066.3M399.2 1041.6V1046.7M401.1 1050.8V1056.4M402.9 1077.2V1079.0M404.8 1060.1V1074.5M405.7 1043.6V1057.5M408.5 1054.9V1067.4M410.3 1061.4V1072.1M411.2 1034.0V1053.5M412.2 1022.8V1027.8M414.9 1084.4V1096.2M415.9 1067.1V1081.7M418.6 1082.7V1094.5M420.5 1084.3V1087.1M421.4 1084.4V1085.4M422.3 1073.6V1083.8M423.3 1057.6V1068.5M427.9 1122.3V1141.2M428.8 1091.0V1115.3M432.5 1119.0V1139.6M433.4 1114.0V1116.5M435.3 1084.4V1124.8M436.2 1061.7V1074.9M437.1 1058.0V1060.3M439.0 1061.0V1071.9M439.9 1011.9V1051.6M440.8 975.8V999.4M441.7 962.3V973.3M442.7 962.8V966.9M444.5 962.7V986.6M446.4 946.9V974.9M447.3 930.6V935.8M448.2 893.8V918.6M450.1 890.5V899.1M451.9 881.5V897.4M452.8 853.6V878.4M456.5 925.4V928.4M457.5 894.8V916.9M458.4 883.2V887.0M460.2 923.4V939.6M461.1 906.8V918.2M463.0 889.0V907.2M464.8 882.5V908.9M465.8 872.2V875.1M466.7 864.6V872.8M468.5 913.6V914.6M469.5 838.7V900.1M471.3 849.3V852.5M473.2 842.9V851.7M475.9 853.0V894.5M481.5 948.8V959.6M483.3 936.8V953.2M486.1 953.7V972.2M488.9 979.5V990.1M489.8 960.2V977.7M490.7 947.4V957.2M496.3 1055.1V1091.2M497.2 1026.0V1043.7M501.8 1077.0V1082.1M502.7 1073.4V1078.0M503.7 1064.1V1069.8M504.6 1049.6V1060.9M506.4 1072.0V1078.5M510.1 1063.4V1084.0M511.1 1054.5V1058.1M512.0 1028.4V1046.2M513.8 1029.0V1035.7M514.8 1014.0V1026.5M515.7 1013.6V1014.6M518.5 1064.1V1067.2M520.3 1059.5V1064.3M524.9 1110.7V1116.0M526.8 1137.1V1141.7M529.5 1129.4V1147.9M530.5 1102.0V1123.5M533.2 1118.5V1130.4M536.9 1132.4V1142.2M537.9 1131.2V1132.2M540.6 1190.3V1191.9M542.5 1197.1V1217.9M543.4 1178.1V1190.8M546.2 1174.4V1189.9M548.0 1173.7V1181.0M549.0 1168.6V1173.4M551.7 1149.1V1183.7M552.7 1134.2V1140.3M553.6 1133.6V1136.8M554.5 1122.6V1133.5M555.4 1100.5V1117.5M556.4 1087.9V1098.3M560.0 1116.2V1123.2M561.0 1091.6V1110.1M565.6 1156.6V1162.3M566.5 1138.9V1152.7M571.1 1170.3V1201.2M572.1 1150.2V1161.4M573.0 1143.2V1147.3M573.9 1124.8V1140.9M574.8 1097.6V1116.9M575.8 1087.1V1091.6M578.5 1156.9V1166.0M581.3 1155.3V1179.8M582.2 1126.1V1147.2M586.9 1154.3V1167.3M588.7 1145.6V1163.9M589.6 1144.4V1145.4M591.5 1130.9V1146.3M593.3 1120.4V1129.8M595.2 1119.1V1130.9M597.0 1087.2V1115.5M598.9 1082.2V1086.7M599.8 1056.9V1076.5M603.5 1079.8V1083.2M604.4 1070.9V1077.0M612.7 1150.8V1153.9M614.6 1150.7V1151.7M616.4 1141.2V1150.3M619.2 1164.6V1167.0M620.1 1166.7V1167.7M621.1 1138.0V1161.5M622.0 1120.7V1134.5M623.8 1140.6V1142.7M625.7 1161.3V1175.9M627.5 1147.9V1173.8M631.2 1165.6V1173.1M632.1 1163.7V1164.9M633.1 1155.8V1163.3M634.0 1147.5V1151.0M636.8 1192.0V1193.0M638.6 1205.7V1221.2M643.2 1273.8V1288.9M644.2 1253.5V1267.8M647.9 1276.4V1277.4M648.8 1254.9V1275.6M654.3 1269.2V1277.7M655.3 1265.1V1267.6M656.2 1255.6V1264.1M657.1 1248.6V1254.1M658.9 1258.8V1261.2M659.9 1241.9V1255.7M662.6 1266.2V1269.3M663.6 1261.5V1262.9M665.4 1252.8V1262.8M667.3 1246.1V1251.3M677.4 1369.5V1386.9M678.4 1361.5V1365.8M680.2 1360.6V1362.0M683.9 1373.0V1374.0M687.6 1390.1V1394.3M688.5 1385.7V1387.8M689.5 1382.2V1384.4M691.3 1371.6V1378.8M692.2 1356.9V1368.2M694.1 1361.5V1362.8M695.9 1371.2V1374.6M698.7 1389.1V1390.6M699.6 1374.6V1386.1M701.5 1369.7V1374.4M702.4 1359.8V1366.9M703.3 1347.6V1356.8M704.2 1339.0V1345.0M708.9 1355.0V1356.0M710.7 1367.4V1368.4M711.6 1364.8V1367.3M712.6 1350.4V1361.3M713.5 1340.2V1346.7M714.4 1335.0V1339.5M716.3 1334.7V1337.2M719.0 1347.2V1348.2M720.0 1344.0V1345.8M723.7 1344.9V1350.7M724.6 1333.3V1342.2M726.4 1333.0V1338.5M727.3 1323.3V1329.7M729.2 1324.1V1327.5M735.7 1369.3V1370.8M736.6 1361.6V1368.1M738.4 1365.6V1366.6M740.3 1373.6V1375.7M741.2 1374.2V1375.2M744.0 1386.5V1387.5M744.9 1382.5V1386.2M746.8 1380.8V1381.9M751.4 1388.7V1392.6M752.3 1375.6V1386.5M753.2 1363.7V1372.3M754.2 1361.5V1363.3M755.1 1351.7V1358.7M763.4 1392.9V1397.2M765.2 1395.4V1398.0M766.2 1384.5V1393.2M768.9 1383.4V1385.8M770.8 1380.7V1381.7M771.7 1379.1V1380.1M773.6 1386.2V1387.7M774.5 1382.6V1385.2M775.4 1376.9V1381.5M777.3 1376.8V1379.4M779.1 1379.9V1382.4M781.9 1393.5V1396.5M782.8 1389.5V1392.6M784.7 1396.0V1397.0M785.6 1393.4V1396.5M786.5 1385.6V1390.2M789.3 1384.4V1389.1M793.0 1386.8V1392.6M793.9 1381.9V1385.2M795.7 1371.8V1380.7M796.7 1369.1V1370.1M798.5 1370.7V1371.7M800.4 1374.0V1375.0M801.3 1372.5V1373.5M803.1 1369.5V1372.8M804.1 1367.1V1368.6M805.0 1367.3V1368.7M810.5 1418.0V1419.0M812.4 1420.4V1421.4M813.3 1415.8V1419.0M816.1 1422.6V1424.2M818.9 1429.2V1430.2M820.7 1424.3V1429.3M822.6 1423.0V1427.9M823.5 1421.2V1422.2M824.4 1420.9V1421.9M825.3 1418.4V1420.8M827.2 1423.7V1424.7M828.1 1421.7V1422.7M829.0 1420.5V1421.5M829.9 1419.3V1420.3M830.9 1413.2V1417.9M832.7 1414.7V1415.7M834.6 1414.4V1415.4M835.5 1413.2V1414.2M836.4 1410.5V1412.6M838.3 1413.1V1414.9M839.2 1410.2V1412.0M840.1 1404.6V1409.4M845.7 1417.9V1420.2M848.4 1420.8V1422.5M849.4 1419.1V1420.1M850.3 1417.3V1419.1M852.1 1419.8V1420.8M853.1 1417.1V1419.8M855.8 1420.7V1423.3M856.7 1415.4V1419.0M858.6 1422.6V1423.6M859.5 1422.0V1423.0M860.4 1418.4V1422.1M862.3 1418.6V1419.6M863.2 1416.3V1418.0M864.1 1413.2V1415.3M866.0 1410.6V1413.9M866.9 1402.2V1408.9M867.8 1392.9V1400.5M868.8 1376.6V1389.5M869.7 1374.4V1375.4M870.6 1364.9V1373.4M873.4 1370.4V1371.5M874.3 1369.4V1370.4M875.2 1353.8V1366.6M876.2 1348.4V1350.7M877.1 1341.1V1346.1M878.0 1339.7V1340.7M879.9 1345.4V1348.4M881.7 1342.4V1347.4M884.5 1342.1V1347.4M885.4 1337.9V1339.6M887.3 1341.2V1342.2M888.2 1333.0V1340.5M892.8 1345.3V1351.6M894.6 1350.4V1353.0M898.3 1350.0V1359.7M900.2 1339.5V1348.6M901.1 1336.5V1338.6M902.0 1324.1V1334.9M903.9 1322.5V1324.7M908.5 1343.8V1345.2M910.4 1344.8V1346.8M911.3 1340.6V1343.6M912.2 1337.6V1340.6M915.9 1359.2V1360.2M917.8 1362.2V1363.2M921.5 1367.9V1379.0M922.4 1358.1V1364.2M923.3 1339.8V1353.7M924.2 1335.0V1336.6M925.1 1326.5V1333.6M926.1 1314.8V1323.5M927.0 1307.2V1312.1M927.9 1300.8V1305.6M928.8 1284.9V1297.1M929.8 1282.3V1283.3M932.5 1280.9V1290.9M938.1 1287.0V1300.6M939.0 1280.0V1284.2M940.9 1285.7V1288.3M943.6 1285.8V1292.7M945.5 1283.3V1287.7M948.3 1279.9V1287.6M949.2 1277.4V1278.4M950.1 1275.0V1276.3M951.0 1268.5V1274.4M952.0 1256.1V1265.3M952.9 1254.6V1256.1M954.7 1256.1V1265.0M956.6 1263.3V1264.9M960.3 1288.3V1296.8M963.0 1276.7V1291.3M964.0 1268.0V1272.5M967.7 1277.5V1281.9M970.4 1281.2V1288.5M971.4 1273.6V1280.0M973.2 1275.9V1277.2M974.1 1276.1V1277.1M975.1 1271.6V1276.4M977.8 1296.9V1302.9M979.7 1301.3V1306.5M982.5 1299.5V1304.1M984.3 1295.4V1300.1M985.2 1294.5V1295.5M988.0 1298.9V1300.5M989.8 1307.4V1308.4M990.8 1300.8V1304.9M992.6 1298.3V1305.9M993.5 1284.3V1293.5M995.4 1294.3V1296.1M997.2 1301.3V1303.0M1000.0 1301.8V1304.3M1000.9 1295.2V1301.4M1003.7 1301.3V1302.3M1005.6 1310.6V1315.5M1007.4 1320.5V1322.0M1009.3 1310.6V1320.2M1011.1 1318.8V1321.7M1012.0 1309.8V1316.6M1013.0 1307.3V1309.4M1013.9 1305.3V1306.3M1014.8 1272.9V1299.7M1015.7 1251.0V1266.2M1017.6 1254.0V1260.3M1020.4 1259.1V1262.3M1022.2 1260.4V1265.4M1023.1 1259.8V1261.5M1025.0 1255.0V1264.6M1026.8 1250.5V1253.1M1027.7 1248.2V1249.9M1030.5 1255.9V1264.5M1033.3 1254.0V1264.4M1035.1 1249.6V1254.3M1037.0 1249.2V1263.6M1038.8 1264.1V1265.1M1040.7 1263.1V1265.5M1043.5 1261.3V1268.8M1045.3 1263.0V1267.0M1047.2 1274.6V1275.6M1048.1 1271.0V1274.7M1049.9 1275.6V1277.5M1050.9 1271.2V1273.8M1052.7 1274.7V1276.7M1053.6 1271.8V1273.7M1055.5 1267.5V1271.6M1057.3 1268.2V1269.2M1058.2 1265.2V1268.8M1059.2 1264.0V1265.0M1061.0 1267.0V1268.3M1064.7 1271.9V1276.7M1067.5 1281.9V1283.6M1070.3 1302.4V1311.4M1072.1 1310.3V1314.8M1073.0 1308.2V1309.2M1074.9 1307.2V1308.2M1075.8 1306.5V1307.5M1077.7 1297.4V1306.8M1078.6 1294.2V1295.2M1079.5 1290.5V1292.8M1081.4 1304.3V1305.3M1083.2 1310.5V1311.5M1085.1 1318.1V1319.1M1086.9 1318.6V1319.6M1087.8 1312.1V1317.7M1089.7 1312.3V1313.5M1091.5 1312.2V1313.7M1092.4 1312.4V1313.4M1094.3 1300.7V1312.6M1097.1 1295.6V1303.6M1098.0 1293.5V1294.5M1100.8 1303.7V1304.7M1101.7 1301.9V1304.4M1102.6 1299.4V1301.0M1105.4 1303.5V1309.0M1106.3 1295.0V1302.2M1108.2 1300.7V1306.5M1109.1 1295.1V1298.7M1110.0 1288.0V1292.5M1110.9 1284.2V1285.6M1113.7 1291.2V1296.0M1115.6 1288.3V1294.1M1117.4 1291.8V1293.6M1121.1 1305.5V1306.5M1122.0 1298.0V1304.7M1122.9 1288.9V1295.9M1124.8 1276.2V1286.2M1125.7 1272.2V1273.2M1127.6 1269.8V1273.9M1128.5 1266.9V1270.8M1129.4 1256.3V1264.8M1130.3 1231.4V1251.7M1131.3 1210.1V1224.6M1134.0 1216.7V1224.6M1135.9 1215.5V1219.6M1137.7 1205.6V1213.2M1138.7 1201.7V1204.4M1139.6 1201.1V1202.1M1140.5 1199.2V1201.3M1142.4 1202.6V1213.4M1143.3 1199.0V1200.0M1144.2 1188.2V1198.4M1145.1 1182.7V1185.1M1147.0 1185.4V1188.2M1150.7 1195.4V1197.1M1151.6 1184.2V1193.9M1152.5 1174.3V1181.7M1153.4 1173.0V1174.1M1154.4 1172.5V1173.5M1156.2 1176.1V1184.7M1158.1 1175.6V1179.8M1159.0 1171.8V1174.7M1159.9 1169.8V1170.8M1162.7 1173.7V1182.6M1164.5 1167.8V1181.6M1165.5 1164.0V1165.5M1166.4 1159.7V1162.5M1167.3 1146.7V1157.8M1169.2 1121.9V1146.6M1170.1 1100.7V1116.0M1171.9 1107.9V1108.9M1172.9 1103.0V1108.0M1176.6 1136.2V1143.4M1177.5 1124.4V1134.5M1178.4 1111.3V1120.1M1180.3 1114.2V1121.3M1182.1 1127.7V1137.3M1183.0 1109.0V1121.3M1184.9 1106.4V1109.7M1185.8 1102.3V1104.7M1187.6 1103.2V1107.7M1190.4 1117.2V1120.2M1193.2 1122.4V1133.7M1195.0 1113.2V1117.7M1196.0 1104.3V1111.1M1196.9 1097.6V1101.1M1197.8 1095.8V1097.0M1198.7 1093.7V1095.3M1199.7 1087.5V1095.2M1201.5 1082.7V1094.3M1202.4 1066.4V1077.9M1203.4 1055.9V1061.1M1206.1 1114.6V1120.9M1207.1 1107.5V1112.9M1208.9 1120.9V1121.9M1209.8 1114.2V1122.7M1213.5 1144.9V1149.0M1216.3 1151.3V1153.7M1217.2 1130.5V1146.8M1218.2 1128.8V1129.8M1219.1 1118.7V1128.5M1220.9 1103.7V1112.0M1222.8 1115.5V1119.7M1225.5 1109.2V1124.1M1227.4 1105.0V1111.0M1229.2 1088.5V1109.3M1230.2 1075.0V1084.2M1231.1 1072.0V1073.0M1232.0 1050.4V1070.3M1234.8 1022.0V1045.8M1236.6 1009.0V1021.4M1239.4 1018.4V1019.4M1240.3 1012.3V1015.8M1242.2 1011.9V1018.3M1244.0 1027.9V1028.9M1245.0 1011.9V1025.7M1245.9 1008.2V1009.8M1246.8 993.6V1006.5M1247.7 957.1V986.1M1248.7 907.5V945.2M1249.6 890.3V901.3M1250.5 870.9V884.9M1252.3 879.4V893.5M1253.3 856.7V873.6M1254.2 836.6V851.3M1256.0 835.4V838.3M1257.0 807.5V832.5M1258.8 787.6V810.3M1259.7 763.4V780.6M1260.7 757.8V760.3M1268.1 866.5V887.2M1269.0 847.0V858.8M1269.9 837.7V845.3M1270.8 819.6V833.1M1271.8 798.5V816.4M1272.7 791.6V792.6M1275.5 795.7V804.6M1276.4 790.9V792.5M1278.2 788.6V793.7M1282.9 824.9V843.8M1283.8 805.5V816.4M1284.7 776.7V802.6M1285.6 771.1V772.1M1293.9 897.9V908.7M1296.7 881.5V911.2M1297.6 852.2V872.1M1298.6 846.9V848.9M1300.4 845.5V854.9M1303.2 881.5V884.9M1304.1 867.9V878.1M1307.8 898.8V928.5M1308.7 867.4V889.5M1309.7 863.6V866.6M1311.5 881.8V882.8M1313.4 887.5V896.9M1316.1 880.7V911.0M1318.0 867.5V884.2M1319.8 880.6V882.3M1320.7 862.6V875.9M1321.7 836.2V856.1M1322.6 822.3V830.7M1323.5 801.7V817.1M1324.4 783.6V796.3M1326.3 803.3V805.9M1327.2 790.1V800.3M1330.0 803.0V815.1M1330.9 796.8V799.2M1333.7 820.2V836.4M1335.5 815.2V817.7M1336.5 814.0V815.9M1338.3 795.4V814.1M1340.2 780.7V790.8M1343.9 816.5V822.9M1346.6 847.4V856.7M1347.6 843.8V847.0M1350.3 838.7V856.2M1351.2 834.3V835.3M1354.9 865.6V873.5M1357.7 890.5V896.2M1360.5 904.4V909.6M1362.3 886.2V900.3M1363.3 879.2V880.2M1368.8 969.2V973.2M1369.7 967.7V968.7M1370.7 953.4V967.1M1371.6 939.7V950.8M1372.5 934.6V939.8M1373.4 922.2V933.5M1374.4 910.7V915.4M1375.3 897.3V907.5M1376.2 865.5V888.8M1378.1 856.2V863.9M1379.0 845.3V854.0M1379.9 832.1V843.1M1381.8 832.3V839.7M1382.7 824.9V830.6M1385.4 839.9V840.9M1387.3 808.4V835.6M1391.0 844.8V853.9M1396.5 972.8V989.3M1397.5 958.3V967.2M1398.4 906.0V946.6M1400.2 894.3V910.1M1403.0 909.7V915.4M1407.6 930.4V938.7M1408.6 926.1V929.4M1410.4 913.8V933.2M1411.3 900.8V906.9M1412.3 894.3V899.2M1413.2 888.1V890.0M1414.1 882.8V887.0M1416.0 908.5V909.9M1418.7 934.1V937.0M1419.6 912.9V934.0M1422.4 941.5V947.3M1427.0 985.8V996.8M1428.0 961.8V978.0M1428.9 937.1V954.1M1430.7 945.4V951.6M1431.7 922.9V939.8M1434.4 910.3V923.3M1435.4 895.2V906.2M1436.3 891.1V892.1M1438.1 885.2V894.3M1439.1 876.5V883.0M1440.9 867.3V875.1M1441.8 851.9V863.9M1442.8 846.5V849.5M1444.6 842.6V843.6M1445.5 842.6V843.6M1449.2 912.8V916.3M1450.2 892.4V907.6M1452.0 891.2V892.2M1452.9 888.8V892.8M1453.8 870.4V886.0M1457.5 896.4V914.4M1459.4 876.8V889.5M1460.3 857.7V871.7M1461.2 841.6V856.1M1463.1 829.6V842.9M1464.9 822.8V833.8M1468.6 837.4V845.4M1469.6 834.8V836.4M1470.5 824.9V830.7M1471.4 810.5V820.8M1472.3 797.4V807.6M1473.3 785.9V793.4M1479.7 816.8V833.7M1480.7 790.2V810.1M1481.6 750.8V780.6M1482.5 724.3V742.0M1483.4 714.9V721.5M1484.3 668.7V708.8M1485.3 627.1V654.0M1486.2 615.4V617.1M1487.1 578.8V607.8M1489.0 570.1V575.0M1491.7 534.5V574.2M1493.6 496.4V536.0M1494.5 487.9V491.8M1495.4 488.4V489.4M1497.3 483.5V492.4M1500.1 510.4V526.0M1501.0 494.6V502.6M1502.8 489.4V536.4M1505.6 507.6V512.3M1507.5 466.0V518.2M1508.4 437.1V454.7M1509.3 431.1V432.1M1512.1 497.9V503.1M1513.0 463.1V494.2M1513.9 446.4V454.3M1514.9 436.0V442.2M1515.8 429.7V431.4M1516.7 407.5V427.3M1517.6 405.7V408.6M1518.5 384.8V404.3M1522.2 497.2V527.8M1525.0 473.2V505.5M1525.9 465.8V466.8M1531.5 541.5V547.2M1532.4 494.6V533.6M1533.3 484.0V487.0M1535.2 480.4V482.3M1536.1 468.9V479.5M1537.0 453.6V464.4M1538.0 435.5V453.9M1543.5 501.5V543.3M1544.4 493.6V495.8M1545.4 466.5V488.7M1546.3 439.8V459.2M1547.2 422.7V433.7M1548.1 404.7V418.0M1550.0 377.6V420.3M1550.9 358.4V366.1M1555.5 403.0V413.0M1558.3 436.6V455.9M1559.2 425.1V435.0M1560.1 385.6V413.3M1564.8 466.1V481.2M1567.5 474.4V491.8M1571.2 489.5V517.2M1573.1 482.1V486.9M1576.8 486.4V507.2M1579.6 485.3V506.4M1580.5 476.5V482.1M1582.3 520.7V523.9M1586.0 633.7V652.0M1586.9 591.3V622.7M1587.9 519.0V571.7M1592.5 650.0V674.7M1593.4 613.3V641.7M1596.2 676.3V686.3M1597.1 660.5V673.0M1598.0 637.5V654.4M1601.7 649.9V660.5M1603.6 618.1V644.8M1604.5 599.7V611.5M1608.2 621.5V635.4M1609.1 595.9V616.5M1615.6 661.6V667.3M1616.5 608.3V652.8M1623.0 709.1V737.4M1623.9 687.7V701.0M1624.8 657.8V682.0M1625.8 647.9V650.6M1626.7 627.1V644.6M1627.6 618.3V622.6M1628.5 611.5V612.5M1630.4 641.5V644.9M1631.3 633.7V638.5M1633.2 630.6V636.0M1635.0 590.3V621.4M1635.9 555.1V576.3M1636.9 533.4V548.2M1637.8 523.1V528.4M1639.6 506.5V524.0M1643.3 507.6V516.2M1644.3 493.2V502.7M1645.2 481.4V490.4M1647.0 501.0V502.0M1648.9 509.8V516.9M1649.8 478.4V504.1M1650.7 411.2V468.5M1652.6 394.5V416.5M1655.3 401.9V434.5M1656.3 391.0V395.3M1659.0 419.3V420.3M1660.0 408.9V418.0M1661.8 341.1V395.1M1662.7 321.4V327.5M1664.6 352.3V364.7M1665.5 351.3V354.3M1666.4 324.3V345.2M1669.2 358.0V364.0M1671.1 384.5V388.9M1672.9 384.8V419.2M1676.6 425.3V431.9M1677.5 397.4V416.8M1679.4 356.0V392.3M1681.2 342.4V371.6M1685.8 374.0V389.9M1691.4 427.1V433.0M1693.2 390.8V450.7M1694.2 366.5V377.3M1695.1 353.3V361.7M1696.9 340.9V366.2M1698.8 341.0V366.9M1700.6 379.9V383.4M1701.6 352.0V375.2M1703.4 344.9V346.2M1705.3 370.7V371.7M1706.2 323.8V363.5M1708.0 301.6V321.6M1709.0 251.5V288.7M1710.8 226.7V248.6M1711.7 194.7V218.0M1715.4 199.5V247.5M1718.2 239.7V247.1M1720.0 243.8V244.8M1721.9 289.3V290.3M1722.8 265.3V285.8M1723.7 243.6V260.1M1724.7 239.1V240.1M1731.1 282.5V304.4M1732.1 270.8V279.7M1733.9 257.7V274.2M1735.8 222.5V250.3M1737.6 217.0V251.6M1738.5 185.8V204.2M1740.4 195.2V199.7M1748.7 257.8V296.6M1751.5 331.4V338.3M1753.3 313.6V345.5M1757.0 349.5V355.5M1758.9 306.3V359.4M1760.7 315.1V322.0M1762.6 323.1V328.7M1763.5 304.2V323.4M1766.3 268.6V298.5M1768.1 277.2V309.8M1769.0 258.0V265.4M1770.9 281.2V287.2M1771.8 261.7V273.3M1772.7 243.0V259.6M1775.5 249.5V275.0M1777.4 311.4V313.1M1778.3 310.6V315.8M1782.0 316.0V341.5M1783.8 306.7V326.0M1784.7 258.2V292.9M1785.7 226.9V247.0M1787.5 168.9V229.0M1789.4 205.5V211.0M1791.2 201.3V207.7M1794.0 303.0V315.1M1794.9 287.1V302.7M1795.8 261.8V275.9M1800.5 391.9V399.3M1801.4 372.0V387.2M1803.2 302.4V371.5M1805.1 341.0V351.6M1806.0 325.4V338.8M1806.9 300.3V318.2M1807.9 276.3V290.6M1808.8 268.7V275.3M1813.4 353.5V359.9M1814.3 329.2V345.4M1818.0 458.9V461.6M1818.9 456.6V457.6M1820.8 389.3V446.0M1828.2 522.3V523.5M1832.8 626.0V648.4M1833.7 618.5V621.2M1834.7 606.6V616.0M1835.6 579.7V597.8M1837.4 559.0V574.8M1838.4 542.9V550.1M1842.1 554.5V609.4M1843.0 541.5V543.9M1843.9 541.9V543.8M1846.7 544.3V577.6M1847.6 518.3V537.6M1850.4 545.9V548.4M1853.1 592.6V619.8M1857.8 613.5V625.5M1858.7 587.2V604.8M1860.5 567.9V593.1M1864.2 594.9V606.0M1865.2 592.6V593.6M1867.0 583.5V598.1M1867.9 572.0V577.9M1869.8 581.5V602.5M1871.6 545.7V570.2M1873.5 541.6V560.5M1874.4 527.4V534.0M1877.2 550.4V578.2M1879.0 549.3V559.7M1879.9 508.9V539.7M1880.9 498.4V499.7M1882.7 488.9V512.3M1885.5 497.3V510.6M1888.3 577.7V578.7M1889.2 565.3V575.2M1892.9 574.1V616.4M1894.7 568.0V600.9M1899.4 720.4V745.6M1903.1 797.3V800.6M1904.0 754.8V792.9M1909.5 825.3V853.0M1910.5 803.3V815.0M1911.4 793.9V799.7" stroke="#0a9c84" stroke-width="1.4" fill="none"/>
<path d="M19.3 1506.2V1509.5M21.2 1502.5V1503.5M22.1 1504.0V1507.4M24.0 1508.1V1509.1M25.8 1505.4V1506.4M27.7 1505.7V1506.8M30.4 1504.2V1509.2M34.1 1501.3V1506.5M40.6 1481.7V1483.0M41.5 1482.9V1483.9M44.3 1477.5V1479.5M45.2 1479.9V1480.9M46.1 1480.6V1482.1M48.9 1476.8V1477.8M49.8 1479.1V1484.7M51.7 1476.7V1479.3M54.5 1473.8V1477.1M56.3 1474.2V1475.2M57.2 1474.7V1475.7M60.0 1472.9V1475.0M60.9 1476.2V1478.2M62.8 1474.5V1479.0M64.6 1477.9V1482.7M65.5 1483.2V1484.2M68.3 1476.4V1478.0M69.2 1478.3V1479.7M70.2 1479.5V1480.5M71.1 1480.5V1481.5M72.0 1481.8V1483.9M72.9 1484.5V1486.4M73.9 1487.7V1493.7M75.7 1494.4V1495.4M78.5 1490.7V1496.3M82.2 1487.2V1488.2M83.1 1488.6V1490.1M85.0 1479.7V1482.9M85.9 1484.5V1485.5M86.8 1486.0V1487.7M87.7 1489.3V1492.9M90.5 1488.0V1494.6M92.4 1493.8V1496.7M95.1 1488.7V1489.7M97.9 1488.1V1490.0M99.7 1487.7V1490.5M101.6 1486.4V1487.4M102.5 1488.4V1492.7M103.4 1493.6V1494.6M105.3 1487.4V1488.4M107.1 1482.2V1483.2M109.0 1479.1V1480.1M109.9 1480.0V1481.8M112.7 1477.9V1481.3M115.5 1474.0V1475.0M118.2 1459.8V1460.8M119.2 1460.0V1461.0M120.1 1461.4V1462.4M121.9 1458.9V1459.9M124.7 1458.0V1459.4M125.6 1458.5V1460.3M129.3 1447.6V1448.6M132.1 1433.2V1435.1M133.0 1436.3V1440.8M136.7 1427.5V1434.8M138.6 1430.1V1435.3M146.9 1394.4V1397.5M148.7 1390.2V1394.4M149.7 1394.2V1398.4M150.6 1401.2V1405.6M151.5 1407.9V1416.3M154.3 1390.3V1392.9M156.1 1382.4V1385.4M158.0 1387.0V1388.4M158.9 1388.3V1389.3M159.8 1390.2V1393.3M160.8 1393.8V1394.8M161.7 1395.9V1403.1M163.5 1402.5V1406.1M167.2 1392.6V1393.6M168.1 1392.6V1393.8M173.7 1339.4V1354.3M179.2 1309.4V1311.5M182.0 1283.1V1284.1M189.4 1161.3V1163.0M191.3 1132.5V1159.3M192.2 1171.1V1197.4M193.1 1211.7V1245.2M196.8 1154.7V1182.7M197.7 1190.9V1208.8M200.5 1194.6V1208.9M201.4 1213.3V1222.2M202.3 1229.2V1259.3M206.0 1207.2V1229.7M207.0 1238.2V1263.5M210.7 1174.4V1192.4M211.6 1202.2V1235.5M215.3 1174.3V1179.7M220.8 1046.2V1050.4M221.8 1047.9V1051.4M224.5 1039.4V1058.2M225.5 1061.5V1062.5M226.4 1059.6V1076.7M231.0 957.8V974.1M231.9 983.3V1007.8M232.8 1016.5V1041.2M234.7 1037.6V1050.2M235.6 1054.3V1070.8M236.5 1079.0V1105.7M239.3 1036.8V1048.6M241.2 1034.2V1059.5M249.5 905.9V907.2M250.4 914.3V931.2M251.3 939.1V952.0M252.3 956.8V983.2M256.9 932.3V944.1M257.8 951.3V975.5M258.7 983.4V1006.9M260.6 1011.9V1015.9M262.4 954.6V958.7M267.0 920.9V953.8M268.9 941.4V954.3M269.8 961.5V972.0M280.0 867.2V881.8M281.8 893.0V929.3M283.7 943.4V964.6M284.6 975.7V1002.6M285.5 1005.6V1011.8M286.5 1013.8V1033.3M287.4 1038.2V1049.5M288.3 1051.7V1057.3M291.1 987.2V1011.1M296.6 932.3V965.1M298.5 970.2V997.4M301.2 945.7V948.0M303.1 929.8V968.6M304.0 974.0V981.5M304.9 990.0V1029.0M305.9 1037.7V1049.2M306.8 1056.5V1079.0M308.6 1085.1V1101.4M309.6 1105.3V1110.3M310.5 1119.5V1156.8M311.4 1171.7V1217.6M312.3 1229.2V1244.5M314.2 1239.6V1252.3M317.9 1144.0V1158.4M318.8 1167.1V1184.4M319.7 1191.9V1212.1M321.6 1217.4V1225.3M323.4 1193.1V1195.2M326.2 1166.2V1178.1M327.1 1180.5V1181.5M328.0 1186.1V1217.0M329.0 1225.1V1242.4M332.7 1200.1V1203.8M337.3 1141.2V1163.7M338.2 1173.8V1200.0M339.1 1206.8V1213.4M340.1 1216.6V1231.5M341.0 1235.6V1247.6M341.9 1248.7V1252.0M342.8 1252.1V1256.2M343.8 1257.8V1259.7M345.6 1248.5V1251.2M350.2 1194.0V1221.5M351.2 1228.5V1236.6M355.8 1197.8V1221.7M357.6 1227.4V1237.4M359.5 1232.1V1238.7M360.4 1236.9V1239.4M361.3 1241.7V1243.5M363.2 1225.7V1235.6M364.1 1237.9V1248.6M365.9 1245.8V1253.0M366.9 1255.0V1265.0M369.6 1248.5V1249.8M376.1 1146.7V1169.0M379.8 1119.5V1138.5M380.7 1144.9V1153.2M382.6 1149.0V1165.3M387.2 1093.2V1094.2M389.1 1085.8V1102.4M390.9 1088.4V1091.6M392.8 1076.9V1091.1M394.6 1083.4V1101.7M395.5 1103.0V1104.0M400.1 1040.9V1053.4M402.0 1053.5V1075.5M403.8 1077.6V1079.4M406.6 1039.0V1047.9M407.5 1054.2V1069.2M409.4 1056.5V1070.1M413.1 1027.8V1053.5M414.0 1064.7V1096.2M416.8 1066.6V1082.4M417.7 1088.5V1100.3M419.6 1081.9V1087.5M424.2 1055.7V1080.4M425.1 1085.4V1088.2M426.0 1094.9V1119.9M426.9 1127.1V1141.3M429.7 1088.8V1096.9M430.6 1099.2V1125.9M431.6 1133.5V1142.9M434.3 1115.2V1127.8M438.0 1057.8V1071.9M443.6 969.6V997.4M445.4 960.4V980.0M449.1 887.0V896.5M451.0 891.9V896.7M453.8 855.3V876.6M454.7 890.2V921.6M455.6 927.0V928.0M459.3 889.4V932.4M462.1 904.1V909.7M463.9 890.4V917.4M467.6 870.0V905.2M470.4 829.8V852.6M472.2 849.5V851.5M474.1 846.8V887.2M475.0 898.2V903.2M476.9 849.5V882.7M477.8 890.1V898.2M478.7 903.8V912.1M479.6 914.5V929.1M480.6 941.8V958.9M482.4 950.9V953.8M484.3 932.6V938.3M485.2 945.2V969.3M487.0 955.3V965.0M488.0 969.9V990.1M491.7 943.2V945.0M492.6 948.8V953.9M493.5 959.0V989.2M494.4 997.2V1012.4M495.3 1027.3V1084.8M498.1 1019.8V1022.0M499.0 1021.3V1030.9M500.0 1036.8V1044.5M500.9 1049.3V1076.5M505.5 1052.8V1074.4M507.4 1071.5V1079.9M508.3 1079.9V1080.9M509.2 1080.5V1086.6M512.9 1025.9V1034.5M516.6 1019.9V1028.0M517.5 1033.1V1064.2M519.4 1062.8V1064.2M521.2 1057.1V1061.6M522.2 1064.5V1069.9M523.1 1075.8V1101.5M524.0 1107.7V1115.0M525.8 1112.9V1136.5M527.7 1134.6V1144.6M528.6 1144.4V1151.8M531.4 1101.5V1116.9M532.3 1119.1V1129.2M534.2 1118.8V1122.3M535.1 1125.1V1133.2M536.0 1132.9V1140.0M538.8 1134.0V1152.2M539.7 1161.5V1186.4M541.6 1194.2V1219.1M544.3 1177.6V1186.8M545.3 1190.9V1196.0M547.1 1176.0V1182.3M549.9 1168.4V1174.2M550.8 1178.3V1189.2M557.3 1086.0V1096.8M558.2 1098.2V1103.9M559.1 1107.1V1122.2M561.9 1093.1V1099.0M562.8 1102.1V1111.0M563.7 1114.1V1124.2M564.7 1134.0V1158.7M567.4 1148.0V1168.4M568.4 1177.1V1187.0M569.3 1188.4V1189.4M570.2 1190.6V1204.3M576.7 1090.6V1111.8M577.6 1122.3V1160.5M579.5 1157.9V1170.7M580.4 1174.6V1182.4M583.2 1123.4V1124.4M584.1 1127.2V1146.2M585.0 1153.2V1159.1M585.9 1159.9V1167.9M587.8 1154.0V1164.6M590.6 1146.7V1148.1M592.4 1129.3V1130.3M594.2 1121.0V1132.0M596.1 1116.7V1122.2M597.9 1083.7V1088.7M600.7 1057.0V1058.8M601.6 1056.2V1071.8M602.6 1076.0V1084.2M605.3 1072.6V1082.3M606.3 1084.5V1089.6M607.2 1085.9V1086.9M608.1 1087.4V1097.8M609.0 1098.7V1100.2M610.0 1104.6V1105.6M610.9 1112.1V1139.0M611.8 1146.6V1154.0M613.7 1151.0V1152.0M615.5 1148.3V1150.0M617.4 1138.2V1143.8M618.3 1150.9V1163.0M622.9 1121.7V1139.6M624.8 1146.2V1173.5M626.6 1163.3V1176.2M628.4 1141.9V1144.1M629.4 1147.9V1161.9M630.3 1166.8V1177.2M634.9 1152.1V1173.0M635.8 1179.2V1191.8M637.7 1197.2V1222.2M639.5 1207.1V1237.0M640.5 1244.8V1256.5M641.4 1262.2V1285.2M642.3 1289.2V1290.8M645.1 1252.7V1262.7M646.0 1265.0V1268.9M646.9 1271.4V1277.5M649.7 1260.1V1263.8M650.6 1265.5V1266.5M651.6 1267.2V1273.2M652.5 1276.6V1277.9M653.4 1277.4V1278.4M658.0 1249.0V1258.7M660.8 1241.0V1248.1M661.7 1251.7V1268.1M664.5 1263.1V1266.0M666.3 1251.5V1254.3M668.2 1249.3V1263.8M669.1 1269.8V1280.0M670.0 1282.4V1287.2M671.0 1292.8V1304.7M671.9 1312.0V1333.7M672.8 1341.7V1357.0M673.7 1362.4V1367.8M674.7 1370.9V1381.9M675.6 1385.4V1389.5M676.5 1389.1V1390.1M679.3 1360.6V1362.0M681.1 1360.7V1364.7M682.1 1366.8V1368.5M683.0 1368.9V1373.6M684.8 1374.9V1379.2M685.8 1383.2V1390.4M686.7 1390.3V1394.8M690.4 1380.8V1381.8M693.1 1356.4V1362.0M695.0 1362.8V1373.0M696.8 1371.6V1381.0M697.8 1384.5V1389.8M700.5 1374.2V1375.6M705.2 1338.2V1339.2M706.1 1339.7V1343.4M707.0 1344.4V1350.7M707.9 1352.0V1354.6M709.8 1357.5V1366.7M715.3 1334.6V1335.6M717.2 1334.4V1335.5M718.1 1338.5V1347.2M720.9 1342.7V1345.5M721.8 1344.8V1346.9M722.7 1349.1V1350.9M725.5 1331.4V1338.1M728.3 1322.9V1327.1M730.1 1324.0V1328.9M731.0 1330.4V1331.4M732.0 1333.1V1343.0M732.9 1347.7V1352.3M733.8 1354.7V1366.2M734.7 1368.5V1370.6M737.5 1361.2V1365.6M739.4 1367.1V1374.1M742.1 1374.8V1379.8M743.1 1381.1V1386.0M745.8 1381.5V1382.8M747.7 1380.9V1382.8M748.6 1383.3V1389.6M749.5 1390.8V1392.2M750.5 1392.5V1393.5M756.0 1350.4V1351.4M756.9 1354.0V1361.8M757.8 1366.7V1378.0M758.8 1380.1V1381.1M759.7 1382.6V1387.7M760.6 1388.5V1390.6M761.5 1392.3V1394.5M762.5 1394.4V1396.8M764.3 1392.4V1397.2M767.1 1383.0V1384.0M768.0 1383.0V1386.4M769.9 1381.9V1382.9M772.6 1380.9V1387.0M776.3 1376.8V1379.5M778.2 1376.6V1381.9M780.0 1379.5V1382.0M781.0 1383.1V1394.9M783.7 1390.2V1394.9M787.4 1383.9V1384.9M788.4 1385.3V1390.6M790.2 1384.5V1385.5M791.1 1386.5V1391.1M792.0 1392.1V1393.4M794.8 1381.8V1387.8M797.6 1369.7V1370.7M799.4 1371.8V1374.8M802.2 1372.9V1374.2M805.9 1366.5V1370.1M806.8 1373.4V1380.8M807.8 1384.4V1394.7M808.7 1398.4V1413.4M809.6 1416.8V1419.1M811.5 1419.0V1421.7M814.2 1416.3V1419.2M815.2 1419.7V1424.0M817.0 1423.2V1428.3M817.9 1428.8V1430.4M819.8 1429.2V1430.2M821.6 1423.7V1428.2M826.2 1419.0V1423.9M831.8 1412.7V1415.2M833.6 1415.1V1416.1M837.3 1410.9V1414.3M841.0 1404.4V1408.6M842.0 1410.4V1411.4M842.9 1411.8V1413.7M843.8 1413.7V1415.3M844.7 1416.5V1420.1M846.6 1417.6V1419.8M847.5 1421.3V1422.5M851.2 1417.3V1419.8M854.0 1417.6V1421.1M854.9 1422.3V1423.7M857.7 1417.1V1424.8M861.4 1419.7V1424.2M865.1 1412.5V1413.5M871.5 1366.8V1370.2M872.5 1370.8V1371.8M878.9 1340.8V1347.8M880.8 1345.1V1348.5M882.6 1341.0V1347.2M883.6 1347.6V1348.6M886.3 1338.0V1340.0M889.1 1334.1V1340.2M890.0 1342.3V1344.7M890.9 1345.5V1346.9M891.9 1348.3V1351.3M893.7 1345.2V1351.0M895.6 1350.4V1357.0M896.5 1358.7V1359.7M897.4 1359.2V1361.4M899.3 1348.3V1349.5M903.0 1322.8V1325.6M904.8 1323.2V1325.1M905.7 1327.0V1334.2M906.7 1335.3V1336.6M907.6 1338.7V1344.8M909.4 1344.3V1346.2M913.1 1338.9V1345.5M914.1 1348.2V1353.3M915.0 1354.8V1358.9M916.8 1361.4V1362.5M918.7 1363.3V1364.3M919.6 1366.2V1375.1M920.5 1378.5V1381.8M930.7 1283.1V1286.4M931.6 1286.5V1291.0M933.5 1281.6V1283.4M934.4 1284.4V1285.4M935.3 1285.9V1293.0M936.2 1295.9V1299.2M937.2 1300.4V1302.7M939.9 1279.8V1285.5M941.8 1284.1V1287.5M942.7 1288.4V1291.8M944.6 1283.8V1288.0M946.4 1284.0V1287.2M947.3 1289.0V1293.5M953.8 1256.4V1265.3M955.6 1256.3V1262.9M957.5 1265.6V1271.6M958.4 1273.2V1275.7M959.3 1279.4V1295.7M961.2 1287.2V1289.1M962.1 1288.9V1293.5M964.9 1267.4V1268.7M965.8 1269.2V1274.6M966.7 1277.8V1282.6M968.6 1279.7V1285.8M969.5 1287.2V1289.9M972.3 1273.8V1276.4M976.0 1274.8V1289.7M976.9 1294.6V1301.9M978.8 1296.5V1304.9M980.6 1301.4V1302.4M981.5 1303.6V1305.4M983.4 1299.1V1300.1M986.2 1294.5V1295.5M987.1 1296.8V1300.3M988.9 1299.9V1306.3M991.7 1302.1V1307.1M994.5 1284.4V1293.5M996.3 1294.8V1299.8M998.2 1301.8V1303.7M999.1 1304.7V1305.8M1001.9 1295.7V1300.1M1002.8 1300.3V1302.7M1004.6 1302.8V1312.6M1006.5 1311.1V1319.2M1008.3 1321.5V1322.7M1010.2 1311.4V1321.1M1016.7 1251.1V1260.3M1018.5 1252.6V1253.6M1019.4 1253.6V1262.2M1021.3 1260.9V1265.5M1024.0 1260.1V1265.4M1025.9 1254.1V1255.1M1028.7 1248.5V1251.8M1029.6 1253.7V1264.4M1031.4 1256.4V1260.3M1032.4 1261.4V1265.6M1034.2 1252.5V1254.8M1036.1 1249.8V1263.8M1037.9 1248.8V1260.9M1039.8 1263.8V1266.0M1041.6 1262.8V1263.8M1042.5 1264.4V1269.6M1044.4 1261.4V1266.8M1046.2 1263.9V1272.0M1049.0 1270.5V1276.4M1051.8 1272.2V1276.1M1054.5 1270.1V1271.5M1056.4 1267.1V1268.1M1060.1 1264.8V1266.0M1061.9 1266.7V1267.7M1062.9 1269.3V1275.6M1063.8 1277.4V1278.4M1065.6 1272.4V1280.5M1066.6 1281.4V1283.9M1068.4 1283.6V1294.1M1069.3 1298.7V1311.9M1071.2 1303.5V1313.1M1074.0 1307.6V1308.6M1076.7 1305.8V1308.0M1080.4 1292.7V1304.9M1082.3 1305.6V1310.1M1084.1 1310.7V1317.6M1086.0 1317.5V1318.5M1088.7 1311.6V1313.7M1090.6 1312.9V1314.4M1093.4 1312.8V1313.8M1095.2 1300.2V1303.5M1096.1 1302.8V1304.5M1098.9 1294.6V1298.0M1099.8 1299.9V1303.9M1103.5 1301.2V1302.8M1104.5 1305.1V1309.4M1107.2 1296.4V1304.4M1111.9 1284.3V1286.6M1112.8 1289.0V1294.5M1114.6 1291.7V1294.0M1116.5 1289.0V1293.8M1118.3 1291.6V1297.8M1119.3 1298.5V1302.8M1120.2 1303.6V1305.6M1123.9 1287.0V1288.3M1126.6 1274.5V1275.5M1132.2 1207.7V1213.9M1133.1 1216.9V1223.7M1135.0 1215.2V1219.9M1136.8 1213.6V1216.7M1141.4 1201.8V1215.6M1146.1 1181.1V1187.0M1147.9 1186.1V1187.1M1148.8 1187.4V1192.5M1149.8 1194.5V1196.7M1155.3 1175.5V1186.1M1157.1 1177.1V1181.3M1160.8 1170.6V1175.4M1161.8 1177.7V1183.3M1163.6 1173.2V1181.1M1168.2 1144.4V1150.1M1171.0 1099.7V1105.9M1173.8 1107.0V1121.4M1174.7 1126.7V1127.7M1175.6 1131.5V1142.6M1179.3 1111.2V1120.8M1181.2 1115.7V1134.1M1184.0 1106.3V1108.4M1186.7 1103.3V1109.7M1188.6 1102.2V1103.2M1189.5 1106.5V1121.3M1191.3 1117.0V1127.3M1192.3 1128.2V1135.0M1194.1 1118.9V1119.9M1200.6 1087.5V1096.6M1204.3 1062.0V1105.6M1205.2 1115.9V1122.5M1208.0 1109.8V1120.0M1210.8 1113.6V1122.6M1211.7 1125.5V1130.8M1212.6 1133.8V1145.9M1214.5 1144.5V1146.8M1215.4 1148.5V1154.8M1220.0 1114.2V1115.2M1221.8 1104.4V1116.3M1223.7 1113.4V1114.4M1224.6 1115.1V1125.7M1226.5 1105.5V1108.7M1228.3 1105.4V1111.4M1232.9 1047.1V1050.4M1233.9 1050.5V1051.5M1235.7 1018.9V1023.3M1237.6 1009.7V1014.2M1238.5 1015.0V1020.2M1241.3 1012.3V1018.8M1243.1 1011.0V1025.5M1251.4 873.1V891.3M1255.1 834.9V836.7M1257.9 806.3V814.6M1261.6 759.5V770.7M1262.5 772.2V778.8M1263.4 780.5V794.6M1264.4 798.5V820.5M1265.3 829.0V840.9M1266.2 846.3V877.5M1267.1 885.5V890.3M1273.6 794.5V803.8M1274.5 804.3V807.1M1277.3 792.5V795.9M1279.2 789.4V790.6M1280.1 792.8V806.2M1281.0 814.1V842.4M1281.9 845.5V848.5M1286.5 773.7V784.4M1287.5 785.4V787.4M1288.4 792.4V800.7M1289.3 805.9V818.2M1290.2 824.5V847.2M1291.2 856.0V870.5M1292.1 873.0V884.1M1293.0 891.4V907.8M1294.9 895.4V907.4M1295.8 909.5V915.7M1299.5 849.1V855.9M1301.3 848.3V880.8M1302.3 885.2V886.2M1305.0 872.3V892.3M1306.0 898.9V914.9M1306.9 922.2V934.5M1310.6 865.9V880.3M1312.4 881.6V894.6M1314.3 887.4V906.2M1315.2 911.1V916.0M1317.1 874.3V884.5M1318.9 868.7V887.6M1325.4 784.2V804.6M1328.1 792.5V807.3M1329.1 810.4V817.8M1331.8 799.7V826.2M1332.8 834.3V838.9M1334.6 816.0V817.0M1337.4 813.9V816.0M1339.2 791.7V792.7M1341.1 782.4V793.0M1342.0 799.7V804.6M1342.9 809.6V821.5M1344.8 821.3V844.8M1345.7 849.0V853.2M1348.5 844.4V856.8M1349.4 859.1V861.1M1352.2 835.4V839.7M1353.1 845.0V861.5M1354.0 866.7V872.1M1355.9 866.5V868.9M1356.8 872.6V892.5M1358.6 889.0V896.8M1359.6 901.6V910.7M1361.4 901.0V902.0M1364.2 884.2V902.0M1365.1 906.4V908.9M1366.0 913.4V932.1M1367.0 940.5V968.0M1367.9 974.3V975.6M1377.1 859.8V866.1M1380.8 832.7V841.8M1383.6 823.1V824.1M1384.5 823.0V839.6M1386.4 838.4V840.7M1388.2 806.2V822.2M1389.1 826.0V842.0M1390.1 850.7V855.3M1391.9 845.5V859.7M1392.8 867.8V884.1M1393.8 888.6V915.1M1394.7 931.3V973.5M1395.6 982.6V992.3M1399.3 898.7V911.5M1401.2 893.1V901.2M1402.1 903.3V914.0M1403.9 912.0V920.0M1404.9 922.0V927.9M1405.8 933.6V937.5M1406.7 937.8V938.8M1409.5 928.2V938.2M1415.0 885.6V904.6M1416.9 911.3V912.3M1417.8 919.8V938.8M1420.6 922.5V934.2M1421.5 936.7V946.7M1423.3 942.3V943.8M1424.3 946.2V960.3M1425.2 964.4V978.4M1426.1 983.7V997.2M1429.8 936.8V951.0M1432.6 918.9V920.4M1433.5 919.3V926.8M1437.2 891.3V893.9M1440.0 874.9V875.9M1443.7 847.4V848.8M1446.5 846.4V860.0M1447.4 865.6V887.4M1448.3 895.2V911.2M1451.1 890.7V891.7M1454.8 868.9V891.3M1455.7 895.8V907.8M1456.6 910.2V916.2M1458.5 893.3V894.8M1462.2 842.0V858.0M1464.0 829.7V835.0M1465.9 821.9V828.3M1466.8 827.5V828.5M1467.7 829.7V843.0M1474.2 785.5V787.1M1475.1 789.3V806.2M1476.0 808.4V812.7M1477.0 813.6V819.0M1477.9 819.7V822.1M1478.8 824.6V834.8M1488.0 570.4V575.7M1489.9 572.3V575.1M1490.8 577.7V581.9M1492.7 530.1V537.5M1496.4 486.7V488.1M1498.2 481.7V488.2M1499.1 491.9V524.1M1501.9 499.8V538.1M1503.8 480.7V483.3M1504.7 490.1V508.6M1506.5 509.4V525.3M1510.2 437.8V465.9M1511.2 477.8V501.0M1519.5 391.3V408.7M1520.4 413.0V436.6M1521.3 455.7V521.3M1523.2 488.1V489.5M1524.1 490.4V506.6M1526.9 469.4V482.2M1527.8 489.1V511.9M1528.7 515.0V522.8M1529.6 525.6V539.0M1530.6 543.6V547.6M1534.3 486.9V512.5M1538.9 433.5V449.4M1539.8 458.6V507.4M1540.7 517.6V526.3M1541.7 528.0V545.0M1542.6 552.3V554.7M1549.1 402.2V424.7M1551.8 357.4V364.3M1552.7 363.4V368.6M1553.7 370.1V371.1M1554.6 376.2V410.8M1556.4 408.4V444.1M1557.4 452.3V458.9M1561.1 386.6V411.8M1562.0 425.3V461.7M1562.9 469.4V477.3M1563.8 481.3V486.6M1565.7 462.5V472.6M1566.6 479.4V492.5M1568.5 473.6V475.7M1569.4 477.2V480.8M1570.3 487.0V516.8M1572.2 482.9V488.2M1574.0 477.6V478.6M1574.9 480.3V487.9M1575.9 497.5V515.2M1577.7 480.2V496.8M1578.6 503.9V510.0M1581.4 480.0V515.9M1583.2 524.1V551.5M1584.2 556.8V558.6M1585.1 574.5V641.1M1588.8 514.7V533.1M1589.7 545.9V586.8M1590.6 593.1V619.0M1591.6 631.2V674.4M1594.3 618.8V636.2M1595.3 646.7V679.0M1599.0 633.7V644.0M1599.9 646.8V653.5M1600.8 657.8V660.3M1602.7 650.5V651.9M1605.4 600.1V603.2M1606.4 604.6V615.9M1607.3 621.0V632.4M1610.1 597.2V599.8M1611.0 598.5V600.7M1611.9 604.3V607.4M1612.8 612.4V625.9M1613.8 633.4V652.0M1614.7 656.4V666.4M1617.4 600.6V618.3M1618.4 627.0V630.1M1619.3 632.9V647.9M1620.2 652.9V666.6M1621.1 679.2V710.7M1622.1 720.5V738.5M1629.5 615.4V638.7M1632.2 633.3V639.7M1634.1 628.7V631.1M1638.7 526.1V528.9M1640.6 503.9V504.9M1641.5 501.4V512.8M1642.4 516.2V518.7M1646.1 485.8V501.3M1648.0 506.6V515.8M1651.6 405.1V418.9M1653.5 392.4V403.5M1654.4 411.8V437.6M1657.2 396.2V415.1M1658.1 423.7V439.6M1660.9 406.0V407.0M1663.7 330.0V363.7M1667.4 331.7V339.1M1668.3 345.1V357.8M1670.1 361.4V385.5M1672.0 386.9V415.7M1673.8 384.7V389.9M1674.8 388.8V425.9M1675.7 430.2V431.2M1678.5 394.5V398.3M1680.3 353.5V371.3M1682.1 340.5V358.9M1683.1 372.5V383.7M1684.0 384.5V391.3M1684.9 388.2V390.5M1686.8 375.2V378.8M1687.7 381.1V386.7M1688.6 385.3V400.8M1689.5 408.0V430.5M1690.5 434.9V438.5M1692.3 431.2V459.9M1696.0 354.9V364.0M1697.9 341.7V366.3M1699.7 344.2V382.4M1702.5 347.1V350.0M1704.3 354.1V370.7M1707.1 318.0V326.2M1709.9 242.7V249.6M1712.7 195.1V220.5M1713.6 230.9V233.6M1714.5 241.5V253.2M1716.3 211.5V232.9M1717.3 238.2V242.3M1719.1 234.1V238.7M1721.0 250.4V280.8M1725.6 238.0V239.0M1726.5 238.0V247.8M1727.4 246.6V251.7M1728.4 257.7V271.7M1729.3 283.9V309.4M1730.2 309.6V312.1M1733.0 266.4V273.2M1734.8 248.5V255.0M1736.7 222.9V258.6M1739.5 185.5V194.6M1741.3 199.3V229.5M1742.2 233.0V236.6M1743.2 232.7V240.1M1744.1 244.2V265.9M1745.0 272.7V276.7M1745.9 270.4V273.6M1746.9 277.4V294.3M1747.8 302.5V304.5M1749.6 256.6V285.3M1750.5 298.4V334.3M1752.4 332.2V347.2M1754.2 313.3V343.9M1755.2 347.2V350.0M1756.1 351.1V356.3M1757.9 349.3V366.4M1759.8 300.2V316.3M1761.6 309.3V325.6M1764.4 301.1V302.1M1765.3 301.2V302.2M1767.2 268.9V311.6M1770.0 260.7V283.9M1773.7 248.2V267.2M1774.6 273.3V276.8M1776.4 257.0V303.7M1779.2 315.5V331.0M1780.1 328.4V329.8M1781.0 334.0V348.0M1782.9 311.5V327.0M1786.6 226.2V235.9M1788.4 163.5V201.4M1790.3 203.5V206.8M1792.1 207.3V227.8M1793.1 240.8V304.1M1796.8 260.3V282.0M1797.7 297.7V327.3M1798.6 336.1V337.2M1799.5 347.7V392.5M1802.3 373.4V385.9M1804.2 295.7V338.7M1809.7 274.3V293.1M1810.6 297.2V299.9M1811.6 305.4V317.0M1812.5 325.1V352.5M1815.2 328.0V346.3M1816.2 361.3V429.3M1817.1 442.1V455.1M1819.9 454.3V455.8M1821.7 381.3V387.7M1822.6 381.1V382.2M1823.6 391.4V422.1M1824.5 439.1V467.3M1825.4 479.7V507.0M1826.3 512.0V522.5M1827.3 525.4V529.8M1829.1 527.3V554.2M1830.0 553.0V558.5M1831.0 565.3V586.5M1831.9 596.1V643.9M1836.5 573.5V579.7M1839.3 540.7V548.5M1840.2 553.4V562.5M1841.1 573.2V615.8M1844.8 541.2V542.2M1845.8 550.6V600.3M1848.5 516.4V524.6M1849.4 525.8V549.3M1851.3 548.2V553.0M1852.2 565.9V611.9M1854.1 592.5V609.6M1855.0 612.7V617.8M1855.9 618.0V619.0M1856.8 623.6V626.8M1859.6 585.2V596.1M1861.5 565.0V581.6M1862.4 587.9V602.3M1863.3 607.3V609.1M1866.1 592.3V598.5M1868.9 573.9V599.3M1870.7 576.0V577.0M1872.6 547.0V559.5M1875.3 530.1V552.0M1876.3 558.6V579.9M1878.1 550.8V562.6M1881.8 500.5V515.5M1883.6 490.7V506.3M1884.6 507.6V513.6M1886.4 509.1V547.5M1887.3 559.0V576.2M1890.1 566.3V569.9M1891.0 577.5V594.5M1892.0 604.0V620.8M1893.8 568.8V599.9M1895.7 570.7V617.6M1896.6 629.2V639.7M1897.5 648.9V690.0M1898.4 706.8V744.3M1900.3 717.6V729.7M1901.2 737.3V751.9M1902.1 761.5V793.9M1904.9 766.4V790.9M1905.8 796.5V799.0M1906.8 797.7V803.7M1907.7 808.6V832.8M1908.6 840.9V854.7M1912.3 795.3V815.7" stroke="#f23645" stroke-width="1.4" fill="none"/>
<rect x="16" y="1671.6" width="2528" height="1.8" fill="#4a4a4a"/>
<rect x="2429.9" y="43" width="2.1" height="1673" fill="#464646"/>
<g transform="translate(1912.3 1651.9)">
<circle r="15.8" fill="#131313" stroke="#9b45d6" stroke-width="1.9"/>
<path d="M4.8 -7.8L-6.5 0.6L-0.9 2L-5.2 8.7L6.5 -0.3L1 -1.5Z" fill="#9b45d6"/>
<path d="M-16.9 -1.8C-15.4 3 -13.6 4.7 -9 6.1C-13.6 7.5 -15.4 9.2 -16.9 14C-18.4 9.2 -20.2 7.5 -24.8 6.1C-20.2 4.7 -18.4 3 -16.9 -1.8Z" fill="#9b45d6" stroke="#000" stroke-width="4.5" stroke-linejoin="round" paint-order="stroke"/>
</g>
</svg>
<div class="abs lg" id="lg1" style="left:13px;top:16.4px">Bitcoin / U.S. Dollar · 1D · Bitstamp</div>
<div class="abs lg red" id="r1" style="left:329px;top:16.4px;letter-spacing:2.0px">68,445</div>
<div class="abs lg red" id="r2" style="left:405.3px;top:16.4px;letter-spacing:1.26px">−347 (−0.50%)</div>
<div class="abs lg" id="lg2" style="left:13px;top:43.4px;letter-spacing:0.2px">Vol · BTC</div>
<div class="abs" id="usd" style="left:2420px;top:5.3px;width:102px;height:42px;box-sizing:border-box;border:1.3px solid #2f2f2f;border-radius:7px;background:#0f0f0f;font-size:18.5px;line-height:43.8px;padding-left:14px;color:#d4d4d4;letter-spacing:0.2px">USD</div>
<div class="abs pl" style="top:1569.6px">0</div>
<div class="abs pl" style="top:1511.6px">5,000</div>
<div class="abs pl" style="top:1453.7px">10,000</div>
<div class="abs pl" style="top:1395.7px">15,000</div>
<div class="abs pl" style="top:1337.8px">20,000</div>
<div class="abs pl" style="top:1279.8px">25,000</div>
<div class="abs pl" style="top:1221.9px">30,000</div>
<div class="abs pl" style="top:1163.9px">35,000</div>
<div class="abs pl" style="top:1106.0px">40,000</div>
<div class="abs pl" style="top:1048.0px">45,000</div>
<div class="abs pl" style="top:990.1px">50,000</div>
<div class="abs pl" style="top:932.1px">55,000</div>
<div class="abs pl" style="top:874.2px">60,000</div>
<div class="abs pl" style="top:816.2px">65,000</div>
<div class="abs pl" style="top:758.3px">70,000</div>
<div class="abs pl" style="top:700.3px">75,000</div>
<div class="abs pl" style="top:642.4px">80,000</div>
<div class="abs pl" style="top:584.4px">85,000</div>
<div class="abs pl" style="top:526.4px">90,000</div>
<div class="abs pl" style="top:468.5px">95,000</div>
<div class="abs pl" style="top:410.5px">100,000</div>
<div class="abs pl" style="top:352.6px">105,000</div>
<div class="abs pl" style="top:294.6px">110,000</div>
<div class="abs pl" style="top:236.7px">115,000</div>
<div class="abs pl" style="top:178.7px">120,000</div>
<div class="abs pl" style="top:120.8px">125,000</div>
<div class="abs pl" style="top:62.8px">130,000</div>
<div class="abs box" style="top:300.7px;width:98.2px">108,380</div>
<div class="abs box" style="top:556.6px;width:87.0px">86,290</div>
<div class="abs box" style="top:942.2px;width:87.0px">53,005</div>
<div class="abs box" style="top:736.7px;width:87.0px">69,061</div>
<div class="abs" id="last" style="left:2416px;top:763.8px;width:104.3px;height:49px;border-radius:0 4px 4px 0;background:#f23645;color:#fff;font-size:20px;letter-spacing:0.5px;padding-left:13.3px;box-sizing:border-box"><div style="line-height:24px;margin-top:0.5px">68,445</div><div style="line-height:22px;margin-top:-1px;color:rgba(255,255,255,.78);letter-spacing:0.57px">08:46:14</div></div>
<div class="abs" id="volb" style="left:2416px;top:1598px;width:77.5px;height:27px;border-radius:0 4px 4px 0;background:#861e26;color:#fff;font-size:20px;line-height:28px;padding-left:14.2px;box-sizing:border-box;letter-spacing:0.05px">1.59<span style="margin-left:1.6px">K</span></div>
<div class="abs tl" style="left:166.5px"><b>2021</b></div>
<div class="abs tl" style="left:335.1px">Jul</div>
<div class="abs tl" style="left:503.6px"><b>2022</b></div>
<div class="abs tl" style="left:671.8px">Jul</div>
<div class="abs tl" style="left:840.3px"><b>2023</b></div>
<div class="abs tl" style="left:1008.5px">Jul</div>
<div class="abs tl" style="left:1178.1px"><b>2024</b></div>
<div class="abs tl" style="left:1346.4px">Jul</div>
<div class="abs tl" style="left:1515.9px"><b>2025</b></div>
<div class="abs tl" style="left:1684.2px">Jul</div>
<div class="abs tl" style="left:1853.8px"><b>2026</b></div>
<div class="abs tl" style="left:2020.9px">Jul</div>
<div class="abs tl" style="left:2190.5px"><b>2027</b></div>
<div class="abs tl" style="left:2358.7px">Jul</div>
</div>
<svg class="abs" style="left:19px;top:1750.5px" width="47" height="24.5" viewBox="0 4 36 18"><path d="M14 22H7V11H0V4h14v18zM28 22h-8l7.5-18h8L28 22z" fill="#d9d9d9"/><circle cx="20" cy="8" r="4" fill="#d9d9d9"/></svg>
<div class="abs" id="tv" style="left:77.5px;top:1741px;font-size:35px;line-height:44px;font-weight:bold;color:#d9d9d9;letter-spacing:-1.4px">TradingView</div>
</div></body></html>
